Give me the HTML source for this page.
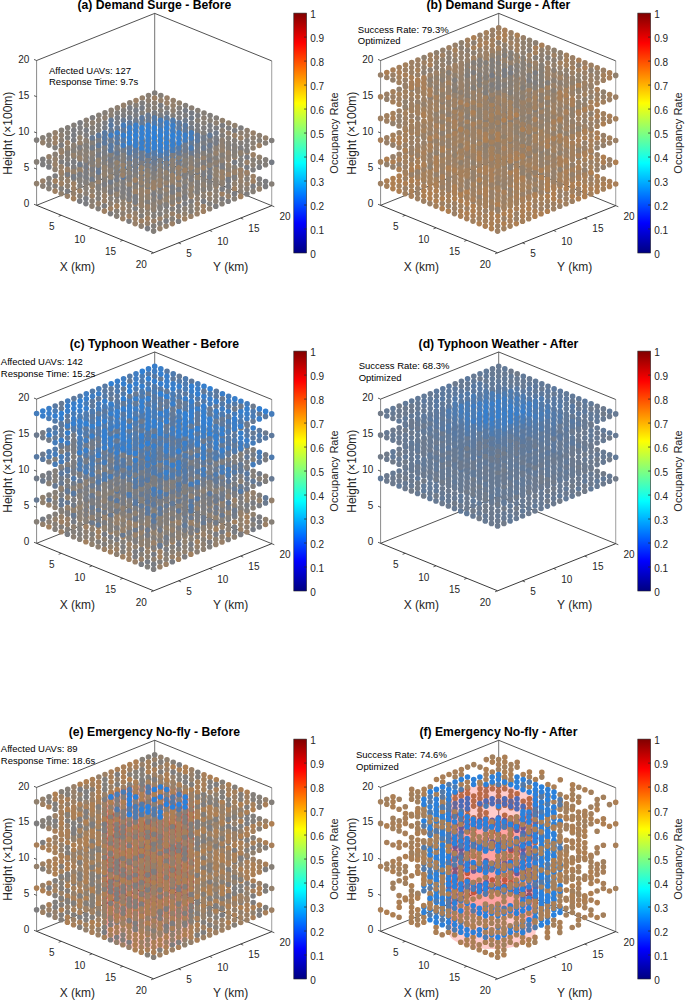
<!DOCTYPE html>
<html><head><meta charset="utf-8"><style>
html,body{margin:0;padding:0;background:#fff;width:685px;height:1000px;overflow:hidden}
svg{position:absolute;left:0;top:0}
text{font-family:"Liberation Sans",sans-serif;fill:#262626}
.tk{font-size:10px}
.al{font-size:12px}
.cl{font-size:11px}
.an{font-size:9.5px;fill:#000}
.ti{font-size:12.2px;font-weight:bold;fill:#000}
</style></head><body>
<svg width="685" height="1000" viewBox="0 0 685 1000">
<defs><linearGradient id="jet" x1="0" y1="1" x2="0" y2="0">
<stop offset="0" stop-color="#000080"/><stop offset="0.125" stop-color="#0000ff"/><stop offset="0.375" stop-color="#00ffff"/><stop offset="0.625" stop-color="#ffff00"/><stop offset="0.875" stop-color="#ff0000"/><stop offset="1" stop-color="#800000"/>
</linearGradient></defs>
<line x1="36.6" y1="205.3" x2="154.69" y2="158.18" stroke="#262626" stroke-width="0.8"/><line x1="154.69" y1="158.18" x2="271.73" y2="205.68" stroke="#262626" stroke-width="0.8"/><line x1="36.6" y1="60.5" x2="154.69" y2="13.38" stroke="#262626" stroke-width="0.8"/><line x1="154.69" y1="13.38" x2="271.73" y2="60.88" stroke="#262626" stroke-width="0.8"/><line x1="154.69" y1="158.18" x2="154.69" y2="13.38" stroke="#262626" stroke-width="0.65"/><line x1="271.73" y1="205.68" x2="271.73" y2="60.88" stroke="#262626" stroke-width="0.45"/><line x1="36.6" y1="205.3" x2="36.6" y2="60.5" stroke="#262626" stroke-width="0.55"/><line x1="36.6" y1="205.3" x2="153.64" y2="252.8" stroke="#262626" stroke-width="0.9"/><line x1="153.64" y1="252.8" x2="271.73" y2="205.68" stroke="#262626" stroke-width="0.9"/><line x1="61.24" y1="215.3" x2="58.64" y2="216.34" stroke="#262626" stroke-width="0.75"/><line x1="178.5" y1="242.88" x2="181.09" y2="243.93" stroke="#262626" stroke-width="0.75"/><line x1="92.04" y1="227.8" x2="89.44" y2="228.84" stroke="#262626" stroke-width="0.75"/><line x1="209.58" y1="230.48" x2="212.17" y2="231.53" stroke="#262626" stroke-width="0.75"/><line x1="122.84" y1="240.3" x2="120.24" y2="241.34" stroke="#262626" stroke-width="0.75"/><line x1="240.65" y1="218.08" x2="243.24" y2="219.13" stroke="#262626" stroke-width="0.75"/><line x1="153.64" y1="252.8" x2="151.04" y2="253.84" stroke="#262626" stroke-width="0.75"/><line x1="271.73" y1="205.68" x2="274.32" y2="206.73" stroke="#262626" stroke-width="0.75"/><line x1="36.6" y1="205.3" x2="34.01" y2="204.25" stroke="#262626" stroke-width="0.75"/><line x1="36.6" y1="169.1" x2="34.01" y2="168.05" stroke="#262626" stroke-width="0.75"/><line x1="36.6" y1="132.9" x2="34.01" y2="131.85" stroke="#262626" stroke-width="0.75"/><line x1="36.6" y1="96.7" x2="34.01" y2="95.65" stroke="#262626" stroke-width="0.75"/><line x1="36.6" y1="60.5" x2="34.01" y2="59.45" stroke="#262626" stroke-width="0.75"/><line x1="380.6" y1="205.3" x2="498.69" y2="158.18" stroke="#262626" stroke-width="0.8"/><line x1="498.69" y1="158.18" x2="615.73" y2="205.68" stroke="#262626" stroke-width="0.8"/><line x1="380.6" y1="60.5" x2="498.69" y2="13.38" stroke="#262626" stroke-width="0.8"/><line x1="498.69" y1="13.38" x2="615.73" y2="60.88" stroke="#262626" stroke-width="0.8"/><line x1="498.69" y1="158.18" x2="498.69" y2="13.38" stroke="#262626" stroke-width="0.65"/><line x1="615.73" y1="205.68" x2="615.73" y2="60.88" stroke="#262626" stroke-width="0.45"/><line x1="380.6" y1="205.3" x2="380.6" y2="60.5" stroke="#262626" stroke-width="0.55"/><line x1="380.6" y1="205.3" x2="497.64" y2="252.8" stroke="#262626" stroke-width="0.9"/><line x1="497.64" y1="252.8" x2="615.73" y2="205.68" stroke="#262626" stroke-width="0.9"/><line x1="405.24" y1="215.3" x2="402.64" y2="216.34" stroke="#262626" stroke-width="0.75"/><line x1="522.5" y1="242.88" x2="525.09" y2="243.93" stroke="#262626" stroke-width="0.75"/><line x1="436.04" y1="227.8" x2="433.44" y2="228.84" stroke="#262626" stroke-width="0.75"/><line x1="553.58" y1="230.48" x2="556.17" y2="231.53" stroke="#262626" stroke-width="0.75"/><line x1="466.84" y1="240.3" x2="464.24" y2="241.34" stroke="#262626" stroke-width="0.75"/><line x1="584.65" y1="218.08" x2="587.24" y2="219.13" stroke="#262626" stroke-width="0.75"/><line x1="497.64" y1="252.8" x2="495.04" y2="253.84" stroke="#262626" stroke-width="0.75"/><line x1="615.73" y1="205.68" x2="618.32" y2="206.73" stroke="#262626" stroke-width="0.75"/><line x1="380.6" y1="205.3" x2="378.01" y2="204.25" stroke="#262626" stroke-width="0.75"/><line x1="380.6" y1="169.1" x2="378.01" y2="168.05" stroke="#262626" stroke-width="0.75"/><line x1="380.6" y1="132.9" x2="378.01" y2="131.85" stroke="#262626" stroke-width="0.75"/><line x1="380.6" y1="96.7" x2="378.01" y2="95.65" stroke="#262626" stroke-width="0.75"/><line x1="380.6" y1="60.5" x2="378.01" y2="59.45" stroke="#262626" stroke-width="0.75"/><line x1="36.6" y1="543.3" x2="154.69" y2="496.18" stroke="#262626" stroke-width="0.8"/><line x1="154.69" y1="496.18" x2="271.73" y2="543.68" stroke="#262626" stroke-width="0.8"/><line x1="36.6" y1="399.1" x2="154.69" y2="351.98" stroke="#262626" stroke-width="0.8"/><line x1="154.69" y1="351.98" x2="271.73" y2="399.48" stroke="#262626" stroke-width="0.8"/><line x1="154.69" y1="496.18" x2="154.69" y2="351.98" stroke="#262626" stroke-width="0.65"/><line x1="271.73" y1="543.68" x2="271.73" y2="399.48" stroke="#262626" stroke-width="0.45"/><line x1="36.6" y1="543.3" x2="36.6" y2="399.1" stroke="#262626" stroke-width="0.55"/><line x1="36.6" y1="543.3" x2="153.64" y2="590.8" stroke="#262626" stroke-width="0.9"/><line x1="153.64" y1="590.8" x2="271.73" y2="543.68" stroke="#262626" stroke-width="0.9"/><line x1="61.24" y1="553.3" x2="58.64" y2="554.34" stroke="#262626" stroke-width="0.75"/><line x1="178.5" y1="580.88" x2="181.09" y2="581.93" stroke="#262626" stroke-width="0.75"/><line x1="92.04" y1="565.8" x2="89.44" y2="566.84" stroke="#262626" stroke-width="0.75"/><line x1="209.58" y1="568.48" x2="212.17" y2="569.53" stroke="#262626" stroke-width="0.75"/><line x1="122.84" y1="578.3" x2="120.24" y2="579.34" stroke="#262626" stroke-width="0.75"/><line x1="240.65" y1="556.08" x2="243.24" y2="557.13" stroke="#262626" stroke-width="0.75"/><line x1="153.64" y1="590.8" x2="151.04" y2="591.84" stroke="#262626" stroke-width="0.75"/><line x1="271.73" y1="543.68" x2="274.32" y2="544.73" stroke="#262626" stroke-width="0.75"/><line x1="36.6" y1="543.3" x2="34.01" y2="542.25" stroke="#262626" stroke-width="0.75"/><line x1="36.6" y1="507.25" x2="34.01" y2="506.2" stroke="#262626" stroke-width="0.75"/><line x1="36.6" y1="471.2" x2="34.01" y2="470.15" stroke="#262626" stroke-width="0.75"/><line x1="36.6" y1="435.15" x2="34.01" y2="434.1" stroke="#262626" stroke-width="0.75"/><line x1="36.6" y1="399.1" x2="34.01" y2="398.05" stroke="#262626" stroke-width="0.75"/><line x1="380.6" y1="543.3" x2="498.69" y2="496.18" stroke="#262626" stroke-width="0.8"/><line x1="498.69" y1="496.18" x2="615.73" y2="543.68" stroke="#262626" stroke-width="0.8"/><line x1="380.6" y1="399.1" x2="498.69" y2="351.98" stroke="#262626" stroke-width="0.8"/><line x1="498.69" y1="351.98" x2="615.73" y2="399.48" stroke="#262626" stroke-width="0.8"/><line x1="498.69" y1="496.18" x2="498.69" y2="351.98" stroke="#262626" stroke-width="0.65"/><line x1="615.73" y1="543.68" x2="615.73" y2="399.48" stroke="#262626" stroke-width="0.45"/><line x1="380.6" y1="543.3" x2="380.6" y2="399.1" stroke="#262626" stroke-width="0.55"/><line x1="380.6" y1="543.3" x2="497.64" y2="590.8" stroke="#262626" stroke-width="0.9"/><line x1="497.64" y1="590.8" x2="615.73" y2="543.68" stroke="#262626" stroke-width="0.9"/><line x1="405.24" y1="553.3" x2="402.64" y2="554.34" stroke="#262626" stroke-width="0.75"/><line x1="522.5" y1="580.88" x2="525.09" y2="581.93" stroke="#262626" stroke-width="0.75"/><line x1="436.04" y1="565.8" x2="433.44" y2="566.84" stroke="#262626" stroke-width="0.75"/><line x1="553.58" y1="568.48" x2="556.17" y2="569.53" stroke="#262626" stroke-width="0.75"/><line x1="466.84" y1="578.3" x2="464.24" y2="579.34" stroke="#262626" stroke-width="0.75"/><line x1="584.65" y1="556.08" x2="587.24" y2="557.13" stroke="#262626" stroke-width="0.75"/><line x1="497.64" y1="590.8" x2="495.04" y2="591.84" stroke="#262626" stroke-width="0.75"/><line x1="615.73" y1="543.68" x2="618.32" y2="544.73" stroke="#262626" stroke-width="0.75"/><line x1="380.6" y1="543.3" x2="378.01" y2="542.25" stroke="#262626" stroke-width="0.75"/><line x1="380.6" y1="507.25" x2="378.01" y2="506.2" stroke="#262626" stroke-width="0.75"/><line x1="380.6" y1="471.2" x2="378.01" y2="470.15" stroke="#262626" stroke-width="0.75"/><line x1="380.6" y1="435.15" x2="378.01" y2="434.1" stroke="#262626" stroke-width="0.75"/><line x1="380.6" y1="399.1" x2="378.01" y2="398.05" stroke="#262626" stroke-width="0.75"/><line x1="36.6" y1="931.3" x2="154.69" y2="884.18" stroke="#262626" stroke-width="0.8"/><line x1="154.69" y1="884.18" x2="271.73" y2="931.68" stroke="#262626" stroke-width="0.8"/><line x1="36.6" y1="787.4" x2="154.69" y2="740.28" stroke="#262626" stroke-width="0.8"/><line x1="154.69" y1="740.28" x2="271.73" y2="787.78" stroke="#262626" stroke-width="0.8"/><line x1="154.69" y1="884.18" x2="154.69" y2="740.28" stroke="#262626" stroke-width="0.65"/><line x1="271.73" y1="931.68" x2="271.73" y2="787.78" stroke="#262626" stroke-width="0.45"/><line x1="36.6" y1="931.3" x2="36.6" y2="787.4" stroke="#262626" stroke-width="0.55"/><line x1="36.6" y1="931.3" x2="153.64" y2="978.8" stroke="#262626" stroke-width="0.9"/><line x1="153.64" y1="978.8" x2="271.73" y2="931.68" stroke="#262626" stroke-width="0.9"/><line x1="61.24" y1="941.3" x2="58.64" y2="942.34" stroke="#262626" stroke-width="0.75"/><line x1="178.5" y1="968.88" x2="181.09" y2="969.93" stroke="#262626" stroke-width="0.75"/><line x1="92.04" y1="953.8" x2="89.44" y2="954.84" stroke="#262626" stroke-width="0.75"/><line x1="209.58" y1="956.48" x2="212.17" y2="957.53" stroke="#262626" stroke-width="0.75"/><line x1="122.84" y1="966.3" x2="120.24" y2="967.34" stroke="#262626" stroke-width="0.75"/><line x1="240.65" y1="944.08" x2="243.24" y2="945.13" stroke="#262626" stroke-width="0.75"/><line x1="153.64" y1="978.8" x2="151.04" y2="979.84" stroke="#262626" stroke-width="0.75"/><line x1="271.73" y1="931.68" x2="274.32" y2="932.73" stroke="#262626" stroke-width="0.75"/><line x1="36.6" y1="931.3" x2="34.01" y2="930.25" stroke="#262626" stroke-width="0.75"/><line x1="36.6" y1="895.32" x2="34.01" y2="894.27" stroke="#262626" stroke-width="0.75"/><line x1="36.6" y1="859.35" x2="34.01" y2="858.3" stroke="#262626" stroke-width="0.75"/><line x1="36.6" y1="823.38" x2="34.01" y2="822.32" stroke="#262626" stroke-width="0.75"/><line x1="36.6" y1="787.4" x2="34.01" y2="786.35" stroke="#262626" stroke-width="0.75"/><line x1="380.6" y1="931.3" x2="498.69" y2="884.18" stroke="#262626" stroke-width="0.8"/><line x1="498.69" y1="884.18" x2="615.73" y2="931.68" stroke="#262626" stroke-width="0.8"/><line x1="380.6" y1="787.4" x2="498.69" y2="740.28" stroke="#262626" stroke-width="0.8"/><line x1="498.69" y1="740.28" x2="615.73" y2="787.78" stroke="#262626" stroke-width="0.8"/><line x1="498.69" y1="884.18" x2="498.69" y2="740.28" stroke="#262626" stroke-width="0.65"/><line x1="615.73" y1="931.68" x2="615.73" y2="787.78" stroke="#262626" stroke-width="0.45"/><line x1="380.6" y1="931.3" x2="380.6" y2="787.4" stroke="#262626" stroke-width="0.55"/><line x1="380.6" y1="931.3" x2="497.64" y2="978.8" stroke="#262626" stroke-width="0.9"/><line x1="497.64" y1="978.8" x2="615.73" y2="931.68" stroke="#262626" stroke-width="0.9"/><line x1="405.24" y1="941.3" x2="402.64" y2="942.34" stroke="#262626" stroke-width="0.75"/><line x1="522.5" y1="968.88" x2="525.09" y2="969.93" stroke="#262626" stroke-width="0.75"/><line x1="436.04" y1="953.8" x2="433.44" y2="954.84" stroke="#262626" stroke-width="0.75"/><line x1="553.58" y1="956.48" x2="556.17" y2="957.53" stroke="#262626" stroke-width="0.75"/><line x1="466.84" y1="966.3" x2="464.24" y2="967.34" stroke="#262626" stroke-width="0.75"/><line x1="584.65" y1="944.08" x2="587.24" y2="945.13" stroke="#262626" stroke-width="0.75"/><line x1="497.64" y1="978.8" x2="495.04" y2="979.84" stroke="#262626" stroke-width="0.75"/><line x1="615.73" y1="931.68" x2="618.32" y2="932.73" stroke="#262626" stroke-width="0.75"/><line x1="380.6" y1="931.3" x2="378.01" y2="930.25" stroke="#262626" stroke-width="0.75"/><line x1="380.6" y1="895.32" x2="378.01" y2="894.27" stroke="#262626" stroke-width="0.75"/><line x1="380.6" y1="859.35" x2="378.01" y2="858.3" stroke="#262626" stroke-width="0.75"/><line x1="380.6" y1="823.38" x2="378.01" y2="822.32" stroke="#262626" stroke-width="0.75"/><line x1="380.6" y1="787.4" x2="378.01" y2="786.35" stroke="#262626" stroke-width="0.75"/>
<g stroke-width="5.6" stroke-linecap="round" fill="none"><path stroke="#90806e" d="M173.2 144h0M123.6 148.9h0M160.7 148.9h0M166.8 156.4h0M111.1 158.8h0M185.4 158.9h0M117.3 161.3h0M154.4 161.4h0M210 168.9h0M203.8 171.4h0M148.1 173.8h0M160.5 173.8h0M234.7 173.9h0M154.2 176.3h0M61.4 178.6h0M197.5 178.9h0M166.6 181.3h0M191.3 181.3h0M36.6 183.6h0M234.6 183.9h0M141.8 186.2h0M154.1 186.3h0M147.9 188.7h0M92.2 191.1h0M104.6 191.2h0M129.3 191.2h0M203.6 191.3h0M61.2 193.6h0M123.1 198.7h0M123 203.6h0M141.5 206.2h0M197.2 208.7h0M147.6 213.6h0M184.8 213.7h0M166.2 216.2h0M166.1 226.1h0"/><path stroke="#988069" d="M179.3 146.5h0M148.3 153.9h0M135.9 158.8h0M173 158.9h0M197.7 163.9h0M117.2 166.3h0M154.4 166.3h0M166.7 166.4h0M191.5 166.4h0M172.9 168.9h0M197.6 173.9h0M67.6 176.2h0M92.4 176.2h0M185.2 178.8h0M42.8 181.1h0M141.8 181.3h0M104.6 186.2h0M216 186.4h0M67.4 196.1h0M104.5 196.1h0M129.3 196.2h0M178.8 196.3h0M147.8 198.7h0M104.5 201.1h0M197.3 203.8h0M153.9 206.2h0M123 208.6h0M172.4 213.7h0M197.1 213.7h0M190.9 216.2h0M160 218.6h0M153.8 221.1h0M135.2 223.6h0"/><path stroke="#837e79" d="M154.7 136.5h0M142.3 141.4h0M117.4 151.3h0M154.5 151.4h0M204 156.5h0M135.8 163.8h0M222.4 164h0M73.9 168.7h0M98.6 168.7h0M222.4 168.9h0M129.6 171.3h0M141.9 171.3h0M135.7 173.8h0M49 178.6h0M203.7 181.4h0M209.8 183.9h0M259.4 183.9h0M55.1 186.1h0M79.9 186.1h0M61.3 188.6h0M98.4 188.7h0M110.8 188.7h0M123.2 188.7h0M228.3 191.4h0M141.7 196.2h0M98.3 198.6h0M135.4 198.7h0M184.9 198.8h0M98.2 208.6h0M160.1 208.7h0M178.6 211.2h0M191 211.2h0M153.8 216.1h0M159.9 223.6h0M153.6 231.1h0"/><path stroke="#7e7d7e" d="M98.8 158.8h0M191.5 161.4h0M111.1 163.8h0M185.3 163.9h0M240.9 171.5h0M123.3 173.8h0M222.3 173.9h0M55.2 176.1h0M172.8 178.8h0M259.4 179h0M178.9 181.3h0M228.4 181.4h0M197.5 183.8h0M147.9 193.7h0M246.9 193.9h0M116.9 196.2h0M222.1 198.8h0M191.1 201.3h0M228.2 201.3h0M104.4 206.1h0M178.7 206.2h0M215.8 206.3h0M135.3 208.6h0M110.5 213.6h0M129 221.1h0M178.5 221.2h0"/><path stroke="#94806c" d="M160.8 139h0M148.4 143.9h0M160.8 143.9h0M154.6 146.4h0M148.4 148.9h0M142.1 151.4h0M135.9 153.9h0M185.4 153.9h0M123.5 158.8h0M166.8 161.4h0M86.3 163.7h0M98.7 163.8h0M210.1 163.9h0M228.6 166.5h0M123.4 168.8h0M197.6 168.9h0M92.4 171.2h0M179 171.4h0M216.2 171.4h0M61.5 173.7h0M98.6 173.7h0M117.1 176.2h0M216.1 176.4h0M222.3 178.9h0M67.6 181.1h0M104.7 181.2h0M240.8 181.4h0M123.2 183.7h0M247 183.9h0M135.5 188.7h0M185 188.8h0M259.3 188.9h0M117 191.2h0M154.1 191.2h0M73.6 193.6h0M110.7 193.7h0M209.7 193.8h0M228.3 196.3h0M172.6 198.7h0M98.3 203.6h0M135.3 213.6h0M147.5 223.6h0M159.9 228.6h0"/><path stroke="#9b8066" d="M154.6 141.4h0M129.8 151.4h0M142.1 156.4h0M197.8 158.9h0M203.9 161.4h0M172.9 163.9h0M104.9 166.3h0M86.3 168.7h0M160.5 168.8h0M67.7 171.2h0M154.3 171.3h0M191.4 171.4h0M179 176.3h0M240.9 176.4h0M253.2 176.5h0M123.3 178.7h0M209.9 178.9h0M172.7 183.8h0M203.6 186.3h0M73.7 188.6h0M160.3 188.8h0M79.8 191.1h0M141.7 191.2h0M92.2 196.1h0M191.2 196.3h0M160.2 198.7h0M135.4 203.7h0M203.4 206.3h0M178.6 216.2h0M122.8 218.6h0M135.2 218.6h0M172.3 223.6h0"/><path stroke="#817e7b" d="M148.5 138.9h0M129.8 146.4h0M80.1 166.2h0M92.5 166.2h0M129.6 166.3h0M148.1 168.8h0M185.3 168.9h0M104.7 176.2h0M79.9 181.2h0M49 183.6h0M135.6 183.7h0M129.4 186.2h0M209.8 188.8h0M185 193.8h0M209.6 203.8h0M172.4 208.7h0M153.9 211.2h0M160 213.7h0M141.4 216.1h0M153.7 226.1h0"/><path stroke="#9e8063" d="M142.2 146.4h0M179.3 151.4h0M148.2 158.9h0M210.1 159h0M92.5 161.3h0M104.9 161.3h0M129.7 161.3h0M216.3 161.5h0M123.4 163.8h0M148.2 163.8h0M179.1 166.4h0M135.8 168.8h0M234.8 169h0M80.1 171.2h0M203.7 176.4h0M135.7 178.8h0M160.4 178.8h0M253.2 181.4h0M61.4 183.6h0M73.7 183.6h0M148 183.8h0M92.3 186.2h0M191.3 186.3h0M234.5 188.9h0M55.1 191.1h0M222.1 193.8h0M178.7 201.2h0M172.5 203.7h0M110.6 208.6h0M104.4 211.1h0M203.4 211.2h0M129.1 216.1h0M147.6 218.6h0M184.7 218.7h0M141.4 221.1h0"/><path stroke="#7b7c80" d="M136 143.9h0M185.5 149h0M166.9 151.4h0M105 156.3h0M129.7 156.3h0M191.6 156.4h0M160.6 158.9h0M142 161.3h0M111 168.8h0M166.7 171.3h0M172.8 173.8h0M80 176.2h0M129.5 176.3h0M98.5 178.7h0M148 178.8h0M265.6 181.5h0M98.5 183.7h0M185.1 183.8h0M166.5 186.3h0M228.4 186.4h0M253.1 186.4h0M265.5 186.4h0M222.2 188.9h0M67.5 191.1h0M160.2 193.7h0M234.5 193.9h0M79.7 201.1h0M85.9 203.6h0M184.9 203.7h0M166.3 206.2h0M166.1 221.1h0M147.5 228.6h0"/><path stroke="#867f77" d="M111.2 153.8h0M123.6 153.8h0M117.3 156.3h0M160.6 163.9h0M142 166.3h0M73.8 173.7h0M210 173.9h0M166.6 176.3h0M73.8 178.7h0M86.2 178.7h0M247 178.9h0M92.3 181.2h0M216.1 181.4h0M271.7 184h0M117 186.2h0M48.9 188.6h0M86 188.6h0M197.4 188.8h0M178.8 191.3h0M253.1 191.4h0M98.4 193.6h0M123.1 193.7h0M135.5 193.7h0M79.8 196.1h0M110.7 198.6h0M234.4 198.8h0M141.6 201.2h0M222 203.8h0M191 206.2h0M116.7 211.1h0M166.2 211.2h0M116.7 216.1h0M172.3 218.7h0"/><path stroke="#8a7f74" d="M166.9 146.4h0M173.1 148.9h0M191.6 151.5h0M173.1 153.9h0M179.2 156.4h0M179.2 161.4h0M104.8 171.2h0M86.2 173.7h0M191.4 176.4h0M228.5 176.4h0M154.2 181.3h0M86.1 183.7h0M110.8 183.7h0M222.2 183.9h0M42.8 186.1h0M172.7 188.8h0M246.9 188.9h0M216 191.3h0M240.7 191.4h0M86 193.6h0M172.6 193.8h0M203.5 196.3h0M215.9 196.3h0M92.1 201.1h0M116.8 201.1h0M215.8 201.3h0M147.8 203.7h0M147.7 208.7h0M184.8 208.7h0M141.5 211.1h0"/><path stroke="#a1805f" d="M167 141.5h0M160.7 153.9h0M117.2 171.3h0M55.2 181.1h0M154 196.2h0M166.4 196.2h0M240.7 196.4h0M73.6 198.6h0M129.2 201.2h0M166.3 201.2h0M116.8 206.1h0"/><path stroke="#8d7f71" d="M136 148.9h0M197.8 154h0M154.5 156.4h0M203.9 166.4h0M216.2 166.4h0M228.6 171.4h0M111 173.7h0M247.1 174h0M141.9 176.3h0M234.7 178.9h0M117.1 181.2h0M129.4 181.2h0M67.5 186.1h0M178.9 186.3h0M240.8 186.4h0M166.5 191.3h0M197.4 193.8h0M197.3 198.8h0M209.7 198.8h0M154 201.2h0M110.6 203.6h0M92 206.1h0M129.2 206.1h0M209.6 208.8h0M129.1 211.1h0M122.9 213.6h0M141.3 226.1h0"/><path stroke="#797c82" d="M185.2 173.9h0M110.9 178.7h0M160.3 183.8h0M191.2 191.3h0M85.9 198.6h0M203.5 201.3h0M160.1 203.7h0"/><path stroke="#867f77" d="M142.2 124.7h0M148.4 127.2h0M173.1 127.2h0M154.5 129.7h0M111.2 132.1h0M154.5 134.7h0M179.2 134.7h0M111.1 142.1h0M123.4 142.1h0M197.7 142.2h0M92.5 144.5h0M86.3 147h0M197.6 147.2h0M92.4 149.5h0M73.8 152h0M67.6 154.4h0M228.5 154.7h0M222.3 157.2h0M253.2 159.7h0M36.6 161.9h0M234.5 167.2h0M184.9 182h0M116.8 184.4h0M135.3 186.9h0M160 191.9h0M166.2 194.4h0M172.3 201.9h0"/><path stroke="#7e7d7e" d="M173.2 122.2h0M142.1 129.7h0M135.9 132.1h0M179.2 139.7h0M228.6 149.7h0M42.8 159.4h0M61.4 161.9h0M110.8 162h0M185.1 162.1h0M42.8 164.4h0M191.3 164.6h0M73.7 166.9h0M253.1 169.7h0M185 172.1h0M166.4 174.5h0M147.8 177h0M234.4 177.1h0M166.3 179.5h0M191.1 179.5h0M123 181.9h0M209.6 182.1h0M123 186.9h0M147.7 186.9h0M122.9 191.9h0M129 199.4h0"/><path stroke="#94806c" d="M154.7 114.7h0M142.3 119.7h0M154.6 119.7h0M191.6 134.7h0M185.4 137.2h0M216.2 144.7h0M67.7 149.5h0M80.1 149.5h0M247.1 152.2h0M49 156.9h0M55.2 159.4h0M61.3 166.9h0M79.8 169.4h0M73.6 171.9h0M98.3 181.9h0M129.2 184.4h0M178.7 184.5h0M141.5 189.4h0M166.2 189.5h0M141.4 194.4h0M178.6 194.5h0M141.3 204.4h0"/><path stroke="#8a7f74" d="M166.9 129.7h0M160.6 137.2h0M117.3 139.6h0M222.4 147.2h0M216.2 149.7h0M55.2 154.4h0M216.1 154.7h0M61.4 156.9h0M216.1 159.7h0M253.1 164.7h0M197.4 167.1h0M104.6 169.4h0M228.3 169.6h0M215.8 179.6h0M153.9 184.5h0M191 184.5h0M215.8 184.6h0M104.4 189.4h0M153.7 204.4h0"/><path stroke="#9b8066" d="M61.5 151.9h0M253.2 154.7h0M240.7 169.7h0M61.2 171.9h0M246.9 172.2h0M228.3 174.6h0M135.3 191.9h0M147.6 191.9h0"/><path stroke="#817e7b" d="M160.8 117.2h0M136 122.2h0M129.8 124.7h0M105 134.6h0M117.3 134.6h0M166.8 134.7h0M210.1 137.2h0M98.7 142h0M160.6 142.1h0M117.2 144.6h0M203.9 144.7h0M73.9 147h0M210 147.2h0M240.9 149.7h0M222.3 152.2h0M80 154.5h0M104.7 154.5h0M240.9 154.7h0M240.8 159.7h0M209.8 162.1h0M240.8 164.7h0M185 167.1h0M110.7 171.9h0M123.1 172h0M129.2 179.4h0M85.9 181.9h0M197.3 182h0M141.5 184.4h0M98.2 186.9h0M153.9 189.4h0M197.1 192h0M122.8 196.9h0M178.5 199.4h0M147.5 201.9h0M166.1 204.4h0M159.9 206.9h0"/><path stroke="#837e79" d="M179.3 124.7h0M136 127.2h0M123.6 132.1h0M129.7 134.6h0M135.9 137.1h0M154.4 139.6h0M166.8 139.7h0M148.2 142.1h0M80.1 144.5h0M191.5 144.7h0M185.3 147.2h0M117.2 149.5h0M234.7 152.2h0M73.8 156.9h0M67.6 159.4h0M265.6 159.7h0M49 161.9h0M259.4 162.2h0M265.5 164.7h0M110.8 167h0M92.2 174.4h0M98.3 176.9h0M172.6 177h0M79.7 179.4h0M104.5 179.4h0M203.5 179.6h0M160.1 182h0M110.6 186.9h0M197.2 187h0M209.6 187h0M203.4 189.5h0M184.8 192h0M153.8 199.4h0"/><path stroke="#8d7f71" d="M160.8 122.2h0M185.5 127.2h0M86.3 142h0M86.2 152h0M92.4 154.5h0M79.9 159.4h0M92.3 164.4h0M55.1 169.4h0M154 179.5h0M172.5 182h0M222 182.1h0M203.4 184.5h0M172.3 196.9h0M159.9 201.9h0M153.6 209.4h0"/><path stroke="#797c82" d="M92.5 139.5h0M104.9 139.6h0M129.7 139.6h0M104.9 144.5h0M142 144.6h0M179.1 144.7h0M98.6 147h0M148.1 147.1h0M203.8 149.7h0M123.3 152h0M86.2 157h0M123.3 157h0M209.9 157.2h0M247 157.2h0M191.3 159.6h0M86.1 161.9h0M98.5 162h0M197.5 162.1h0M222.2 167.1h0M246.9 167.2h0M203.6 169.6h0M147.9 172h0M209.7 172.1h0M67.4 174.4h0M79.8 174.4h0M129.3 174.5h0M203.5 174.6h0M85.9 176.9h0M184.9 177h0M178.7 179.5h0M135.4 181.9h0M172.4 187h0M178.6 189.5h0M172.4 192h0M135.2 196.9h0M160 196.9h0M184.7 197h0M135.2 201.9h0"/><path stroke="#7b7c80" d="M167 119.7h0M166.9 124.7h0M123.6 127.1h0M129.8 129.6h0M98.8 137.1h0M111.1 137.1h0M142 139.6h0M216.3 139.7h0M185.3 142.2h0M185.2 152.1h0M203.7 154.7h0M98.5 157h0M203.7 159.6h0M73.7 161.9h0M222.2 162.2h0M67.5 164.4h0M104.6 164.5h0M216 164.6h0M48.9 166.9h0M259.3 167.2h0M92.2 169.4h0M86 171.9h0M154 174.5h0M191.2 174.6h0M104.4 184.4h0M166.3 184.5h0M160.1 187h0M184.8 187h0M116.7 189.4h0M129.1 189.4h0M110.5 191.9h0M129.1 194.4h0M153.8 194.4h0"/><path stroke="#988069" d="M148.4 122.2h0M117.4 129.6h0M179.3 129.7h0M234.7 157.2h0M228.4 159.7h0M247 162.2h0M55.1 164.4h0M67.5 169.4h0M222.1 172.1h0M234.5 172.1h0M240.7 174.6h0M222.1 177.1h0M147.5 206.9h0"/><path stroke="#9e8063" d="M148.5 117.2h0"/><path stroke="#717b89" d="M160.7 127.2h0M148.3 132.2h0M185.4 132.2h0M142.1 134.6h0M204 134.7h0M123.5 137.1h0M197.8 137.2h0M203.9 139.7h0M98.6 152h0M111 152h0M117.1 154.5h0M197.5 157.1h0M79.9 164.4h0M117 164.5h0M203.6 164.6h0M172.7 167.1h0M209.8 167.1h0M160.2 172h0M209.7 177.1h0M92.1 179.4h0M110.6 181.9h0"/><path stroke="#90806e" d="M154.6 124.7h0M191.6 129.7h0M197.8 132.2h0M234.8 147.2h0M259.4 157.2h0M228.4 164.7h0M216 169.6h0M104.5 174.4h0M215.9 174.6h0M110.7 176.9h0M197.3 177.1h0M92 184.4h0M191 189.5h0M116.7 194.4h0M190.9 194.5h0M147.6 196.9h0M141.4 199.4h0M166.1 199.4h0"/><path stroke="#677a93" d="M173 137.2h0M166.7 144.6h0M104.8 149.5h0M191.4 149.7h0M148.1 152.1h0M197.6 152.2h0M179 154.6h0M92.3 159.5h0M104.7 159.5h0M117.1 159.5h0M123.2 162h0M154.1 164.5h0M129.3 169.5h0M98.4 171.9h0M147.8 182h0"/><path stroke="#5d799d" d="M111 147h0M135.7 152.1h0M129.4 164.5h0M160.3 167h0M117 169.5h0M154.1 169.5h0M178.8 174.5h0M123.1 176.9h0"/><path stroke="#767b84" d="M160.7 132.2h0M173.1 132.2h0M191.5 139.7h0M210.1 142.2h0M222.4 142.2h0M228.6 144.7h0M123.4 147.1h0M135.8 147.1h0M210 152.2h0M129.5 154.5h0M185.2 157.1h0M234.6 162.2h0M271.7 162.2h0M86 166.9h0M135.5 172h0M197.4 172.1h0M116.9 174.4h0M73.6 176.9h0M160.2 177h0M116.8 179.4h0M228.2 179.6h0"/><path stroke="#6c7a8e" d="M148.2 137.1h0M135.8 142.1h0M172.9 142.2h0M129.6 144.6h0M172.9 147.1h0M154.3 149.6h0M166.7 149.6h0M141.9 154.6h0M191.4 154.6h0M172.7 162.1h0M98.4 166.9h0M166.5 169.5h0M178.8 169.6h0M191.2 169.6h0M135.4 177h0"/><path stroke="#627a98" d="M179 149.6h0M110.9 157h0M135.6 162h0M141.8 164.5h0M147.9 167h0M141.7 174.5h0M141.6 179.5h0"/><path stroke="#497cb5" d="M129.6 149.6h0M166.5 164.6h0M123.2 167h0M141.7 169.5h0"/><path stroke="#3f7dc2" d="M141.9 149.6h0M178.9 159.6h0M148 162h0"/><path stroke="#4e7baf" d="M154.4 144.6h0M160.5 147.1h0M135.7 157h0M135.5 167h0"/><path stroke="#447cbb" d="M154.2 154.6h0M129.4 159.5h0M160.3 162.1h0"/><path stroke="#5879a2" d="M148 157.1h0M141.8 159.5h0M154.2 159.6h0M178.9 164.6h0M172.6 172h0"/><path stroke="#3a7ec8" d="M160.5 152.1h0M166.6 154.6h0M172.8 157.1h0M166.6 159.6h0"/><path stroke="#537aa8" d="M172.8 152.1h0M160.4 157.1h0"/><path stroke="#817e7b" d="M154.7 93h0M123.6 110.4h0M117.3 112.9h0M142.1 112.9h0M210.1 115.5h0M98.6 125.3h0M80 132.7h0M92.4 132.8h0M203.7 132.9h0M222.3 135.5h0M67.6 137.7h0M36.6 140.1h0M247 140.5h0M271.7 140.5h0M86 145.2h0M234.5 145.4h0M246.9 145.5h0M55.1 147.6h0M98.4 150.2h0M246.9 150.4h0M110.7 155.2h0M123.1 155.2h0M215.8 157.9h0M104.4 162.7h0M160.1 165.2h0M184.8 165.3h0M129.1 167.7h0M116.7 172.6h0M135.2 175.2h0"/><path stroke="#867f77" d="M160.8 95.5h0M136 105.4h0M154.5 108h0M197.8 110.5h0M105 112.9h0M204 113h0M98.8 115.3h0M197.7 120.5h0M210.1 120.5h0M203.9 123h0M86.3 125.3h0M61.5 130.2h0M67.6 132.7h0M49 135.2h0M42.8 137.7h0M228.4 138h0M259.4 140.5h0M228.4 142.9h0M265.5 143h0M48.9 145.1h0M228.3 147.9h0M86 150.2h0M234.4 155.4h0M191.1 157.8h0M184.9 160.3h0M197.3 160.3h0M116.7 167.7h0M129.1 172.7h0M190.9 172.8h0"/><path stroke="#94806c" d="M142.3 98h0M160.8 100.5h0M173.2 100.5h0M123.6 105.4h0M173.1 105.5h0M55.2 132.7h0M228.5 133h0M265.6 138h0M42.8 142.6h0M79.9 142.7h0M61.2 150.1h0M222.1 150.4h0M215.9 152.9h0M228.3 152.9h0M73.6 155.1h0M79.7 157.6h0M203.5 157.8h0M123 165.2h0M191 167.8h0M141.4 172.7h0M159.9 180.2h0M172.3 180.2h0M141.3 182.6h0M166.1 182.7h0"/><path stroke="#837e79" d="M148.4 105.5h0M185.5 105.5h0M166.9 108h0M179.3 108h0M160.7 110.5h0M173 115.5h0M216.3 118h0M73.9 125.3h0M67.7 127.7h0M92.4 127.8h0M98.6 130.3h0M234.6 140.5h0M92.3 142.7h0M240.8 143h0M73.6 150.2h0M234.5 150.4h0M67.4 152.6h0M203.5 152.9h0M209.7 155.4h0M222.1 155.4h0M92.1 157.7h0M104.5 157.7h0M178.7 157.8h0M123 160.2h0M92 162.6h0M172.4 170.2h0M153.8 177.7h0M166.1 177.7h0"/><path stroke="#7b7c80" d="M135.9 115.4h0M197.8 115.5h0M179.2 118h0M80.1 122.8h0M104.9 122.8h0M197.6 125.5h0M222.4 125.5h0M216.2 128h0M73.8 130.2h0M197.6 130.4h0M234.7 130.5h0M73.7 140.2h0M209.8 140.4h0M172.6 155.3h0M184.9 155.3h0M209.6 160.3h0M141.5 162.7h0M166.3 162.8h0M166.2 167.7h0M135.3 170.2h0"/><path stroke="#8a7f74" d="M148.5 95.5h0M129.8 102.9h0M154.6 103h0M191.6 108h0M111.2 110.4h0M148.3 110.4h0M111.1 115.4h0M203.9 118h0M86.3 120.3h0M98.7 120.3h0M222.3 130.5h0M49 140.2h0M61.4 140.2h0M86.1 140.2h0M253.1 143h0M73.7 145.2h0M216 147.9h0M79.8 152.7h0M92.2 152.7h0M85.9 155.2h0M85.9 160.1h0M172.5 160.3h0M191 162.8h0M98.2 165.1h0M172.4 165.3h0M209.6 165.3h0M110.5 170.1h0M147.6 170.2h0M160 170.2h0M147.5 180.2h0"/><path stroke="#7e7d7e" d="M142.2 103h0M129.7 112.9h0M179.2 113h0M123.5 115.4h0M185.4 115.5h0M92.5 117.8h0M80.1 127.8h0M203.8 128h0M228.6 128h0M240.9 128h0M86.2 135.2h0M61.3 145.2h0M79.8 147.7h0M104.6 147.7h0M240.7 147.9h0M197.3 155.3h0M129.2 162.7h0M203.4 162.8h0M110.6 165.2h0M147.7 165.2h0M197.2 165.3h0M153.8 172.7h0M184.7 175.2h0M129 177.6h0"/><path stroke="#8d7f71" d="M148.4 100.5h0M117.4 107.9h0M173.1 110.5h0M104.9 117.8h0M92.5 122.8h0M216.2 123h0M247.1 130.5h0M240.9 133h0M61.4 135.2h0M247 135.5h0M259.4 135.5h0M253.2 138h0M222.2 140.4h0M222.2 145.4h0M253.1 148h0M228.2 157.9h0M222 160.4h0M215.8 162.8h0M178.6 172.7h0M160 175.2h0M141.4 177.7h0"/><path stroke="#9b8066" d="M154.6 98h0M136 100.5h0M55.2 137.7h0M55.1 142.7h0M184.8 170.3h0M178.5 177.7h0M153.6 187.6h0"/><path stroke="#797c82" d="M160.7 105.5h0M129.8 107.9h0M154.5 112.9h0M166.8 113h0M160.6 115.4h0M191.5 123h0M210 125.5h0M86.2 130.3h0M210 130.5h0M73.8 135.2h0M216.1 137.9h0M98.5 140.2h0M203.6 142.9h0M209.7 150.4h0M104.5 152.7h0M116.8 157.7h0M147.8 160.2h0M160.1 160.3h0M135.3 165.2h0M153.9 167.7h0"/><path stroke="#627a98" d="M166.8 117.9h0M111.1 120.3h0M142 122.9h0M111 130.3h0M209.9 135.4h0M191.3 142.9h0M98.4 145.2h0M178.8 152.8h0M154 157.8h0M166.3 157.8h0"/><path stroke="#767b84" d="M142.1 107.9h0M135.9 110.4h0M185.4 110.5h0M191.6 113h0M117.3 117.9h0M117.2 122.8h0M104.8 127.8h0M216 142.9h0M197.4 150.4h0M98.3 155.2h0M110.6 160.2h0M135.4 160.2h0M178.7 162.8h0"/><path stroke="#988069" d="M167 98h0M166.9 103h0M253.2 133h0M234.7 135.5h0M240.8 138h0M67.5 142.7h0M178.6 167.8h0M203.4 167.8h0M122.8 175.1h0M172.3 175.2h0M153.7 182.7h0M159.9 185.2h0"/><path stroke="#90806e" d="M179.3 103h0M222.4 120.5h0M228.6 123h0M234.8 125.5h0M79.9 137.7h0M67.5 147.7h0M240.7 152.9h0M98.3 160.2h0M116.8 162.7h0M104.4 167.6h0M141.5 167.7h0M122.9 170.2h0M197.1 170.3h0M166.2 172.7h0M147.6 175.2h0M147.5 185.1h0"/><path stroke="#5879a2" d="M111 125.3h0M185.3 125.4h0M179 127.9h0M104.7 132.8h0M104.7 137.8h0M117 142.8h0M110.8 145.2h0M110.7 150.2h0M147.8 155.3h0"/><path stroke="#677a93" d="M148.2 115.4h0M123.4 120.4h0M148.2 120.4h0M117.2 127.8h0M92.3 137.7h0M110.8 140.3h0M116.9 152.7h0M141.7 152.8h0M135.4 155.2h0M141.6 157.7h0"/><path stroke="#717b89" d="M129.7 117.9h0M191.5 118h0M191.4 127.9h0M216.1 133h0M203.7 137.9h0M197.4 145.4h0M92.2 147.7h0M117 147.7h0M123.1 150.2h0"/><path stroke="#5d799d" d="M142 117.9h0M129.6 122.9h0M179.1 122.9h0M123.3 130.3h0M185.2 130.4h0M98.5 135.3h0M197.5 135.4h0M197.5 140.4h0M104.6 142.7h0M129.3 147.8h0M135.5 150.3h0"/><path stroke="#447cbb" d="M160.6 120.4h0M123.4 125.3h0M191.4 132.9h0M191.3 137.9h0M185.1 140.4h0"/><path stroke="#6c7a8e" d="M135.8 120.4h0M185.3 120.5h0M185 145.4h0M209.8 145.4h0M203.6 147.9h0M185 150.3h0M191.2 152.8h0M129.2 157.7h0M153.9 162.7h0"/><path stroke="#3f7dc2" d="M172.8 130.4h0M110.9 135.3h0M123.2 145.3h0"/><path stroke="#3a7ec8" d="M166.7 122.9h0M135.8 125.4h0M172.9 125.4h0M129.6 127.8h0M135.7 130.3h0M117.1 132.8h0M135.6 140.3h0M172.7 140.4h0M160.2 150.3h0"/><path stroke="#537aa8" d="M154.4 117.9h0M117.1 137.8h0M123.2 140.3h0M129.3 152.7h0M154 152.8h0M160.2 155.3h0"/><path stroke="#357fcf" d="M148.1 125.4h0M129.5 132.8h0M141.9 132.8h0M166.6 132.9h0M123.3 135.3h0M178.9 137.9h0M148 140.3h0M147.9 145.3h0"/><path stroke="#2f80d5" d="M141.9 127.9h0M135.7 135.3h0M160.4 135.4h0M129.4 137.8h0M166.5 142.8h0"/><path stroke="#4e7baf" d="M172.9 120.4h0M154.4 122.9h0M160.5 125.4h0M178.8 147.8h0M191.2 147.9h0M166.4 152.8h0"/><path stroke="#337fd1" d="M148.1 130.4h0M178.9 142.9h0M160.3 145.3h0"/><path stroke="#2d80d7" d="M154.3 127.9h0M148 135.3h0M172.8 135.4h0"/><path stroke="#3180d3" d="M166.7 127.9h0M154.2 132.9h0M141.8 137.8h0M160.3 140.3h0M129.4 142.8h0M154.1 142.8h0M154.1 147.8h0"/><path stroke="#387eca" d="M160.5 130.4h0M179 132.9h0M185.2 135.4h0M141.8 142.8h0M166.5 147.8h0M147.9 150.3h0"/><path stroke="#367fcc" d="M166.6 137.9h0M135.5 145.3h0M172.7 145.3h0M141.7 147.8h0"/><path stroke="#2881de" d="M154.2 137.8h0"/><path stroke="#497cb5" d="M172.6 150.3h0"/><path stroke="#9e8063" d="M259.3 145.5h0M135.2 180.1h0"/><path stroke="#9e8063" d="M504.8 139h0M504.8 143.9h0M517.2 144h0M473.8 146.4h0M523.3 146.5h0M467.6 148.9h0M529.5 149h0M479.9 153.9h0M523.2 161.4h0M442.7 163.8h0M541.7 163.9h0M554.1 163.9h0M436.5 166.2h0M479.8 168.8h0M417.8 173.7h0M430.2 173.7h0M516.8 173.8h0M547.7 176.4h0M560.1 176.4h0M405.4 178.6h0M578.7 178.9h0M380.6 183.6h0M473.4 186.2h0M547.6 186.3h0M479.5 188.7h0M529 188.8h0M578.5 188.9h0M473.3 191.2h0M535.2 191.3h0M491.9 193.7h0M578.5 193.9h0M417.6 198.6h0M479.4 198.7h0M491.8 198.7h0M566.1 198.8h0M423.7 201.1h0M572.2 201.3h0M442.3 203.6h0M454.6 203.6h0M479.4 203.7h0M553.6 203.8h0M467 208.6h0M541.2 208.7h0M553.6 208.8h0M497.7 226.1h0M497.6 231.1h0"/><path stroke="#ab7f55" d="M492.5 138.9h0M492.4 143.9h0M498.6 146.4h0M523.3 151.4h0M535.6 151.5h0M517.1 153.9h0M461.3 156.3h0M548 156.5h0M442.8 158.8h0M473.7 161.3h0M510.8 161.4h0M479.8 163.8h0M510.7 166.4h0M523.1 166.4h0M467.4 168.8h0M492.1 168.8h0M578.8 169h0M411.7 171.2h0M523 171.4h0M405.5 173.7h0M479.7 173.8h0M473.5 176.3h0M535.4 176.4h0M504.4 178.8h0M386.8 181.1h0M522.9 181.3h0M560.1 181.4h0M492 183.8h0M529.1 183.8h0M603.4 183.9h0M510.5 186.3h0M572.4 186.4h0M597.1 186.4h0M454.8 188.7h0M590.9 188.9h0M411.5 191.1h0M423.8 196.1h0M491.8 203.7h0M504.1 203.7h0M485.5 206.2h0M460.7 211.1h0M522.6 211.2h0M535 211.2h0M491.6 213.6h0M541.1 213.7h0M460.7 216.1h0M522.6 216.2h0M491.5 223.6h0M485.3 226.1h0"/><path stroke="#ae7f52" d="M498.6 141.4h0M486.1 151.4h0M455.2 153.8h0M467.6 153.8h0M492.3 153.9h0M529.4 153.9h0M541.8 154h0M473.7 156.3h0M510.8 156.4h0M517 158.9h0M529.4 158.9h0M448.9 161.3h0M498.4 161.4h0M535.5 161.4h0M560.3 161.5h0M467.4 163.8h0M566.4 164h0M535.5 166.4h0M560.2 166.4h0M417.9 168.7h0M430.3 168.7h0M442.6 168.7h0M554 168.9h0M424.1 171.2h0M461.2 171.3h0M485.9 171.3h0M572.5 171.4h0M455 173.7h0M492.1 173.8h0M399.2 176.1h0M411.6 176.2h0M510.6 176.3h0M584.9 176.4h0M597.2 176.5h0M393 178.6h0M417.8 178.7h0M516.8 178.8h0M541.5 178.9h0M566.3 178.9h0M399.2 181.1h0M411.6 181.1h0M535.3 181.3h0M572.4 181.4h0M393 183.6h0M405.4 183.6h0M430.1 183.7h0M442.5 183.7h0M566.2 183.9h0M578.6 183.9h0M461 186.2h0M485.8 186.2h0M560 186.4h0M584.8 186.4h0M609.5 186.4h0M392.9 188.6h0M467.2 188.7h0M541.4 188.8h0M553.8 188.8h0M566.2 188.9h0M399.1 191.1h0M423.8 191.1h0M436.2 191.1h0M461 191.2h0M485.7 191.2h0M510.5 191.3h0M584.7 191.4h0M597.1 191.4h0M430 193.6h0M467.1 193.7h0M516.6 193.8h0M553.7 193.8h0M485.7 196.2h0M498 196.2h0M535.1 196.3h0M547.5 196.3h0M572.3 196.3h0M584.7 196.4h0M429.9 198.6h0M442.3 198.6h0M454.7 198.6h0M553.7 198.8h0M578.4 198.8h0M436.1 201.1h0M460.8 201.1h0M467 203.6h0M528.9 203.7h0M473.2 206.1h0M497.9 206.2h0M442.2 208.6h0M528.8 208.7h0M448.4 211.1h0M473.1 211.1h0M510.2 211.2h0M547.4 211.2h0M466.9 213.6h0M504 213.7h0M497.8 216.1h0M510.2 216.2h0M534.9 216.2h0M479.2 223.6h0M503.9 223.6h0M516.3 223.6h0M491.5 228.6h0"/><path stroke="#a4805c" d="M511 146.4h0M480 148.9h0M492.4 148.9h0M504.7 148.9h0M517.1 148.9h0M461.4 151.3h0M449 156.3h0M492.2 163.8h0M529.3 163.9h0M424.1 166.2h0M572.6 166.5h0M455 168.8h0M566.4 168.9h0M436.4 171.2h0M467.3 173.8h0M498.2 176.3h0M523 176.3h0M454.9 178.7h0M584.8 181.4h0M597.2 181.4h0M479.6 183.7h0M386.8 186.1h0M399.1 186.1h0M411.5 186.1h0M448.6 186.2h0M442.4 188.7h0M603.3 188.9h0M454.7 193.7h0M541.4 193.8h0M590.9 193.9h0M436.2 196.1h0M448.5 196.1h0M510.4 196.2h0M504.2 198.7h0M541.3 198.8h0M448.5 201.1h0M485.6 201.2h0M498 201.2h0M436 206.1h0M510.3 206.2h0M528.8 213.7h0M485.4 216.1h0M528.7 218.7h0M485.4 221.1h0M522.5 221.2h0M510.1 226.1h0"/><path stroke="#a1805f" d="M480 143.9h0M535.6 156.4h0M467.5 158.8h0M479.9 158.8h0M541.8 158.9h0M554.1 159h0M436.5 161.3h0M486 161.3h0M430.3 163.7h0M461.2 166.3h0M547.9 166.4h0M529.3 168.9h0M498.3 171.3h0M485.9 176.3h0M572.5 176.4h0M442.5 178.7h0M603.4 179h0M591 183.9h0M522.8 191.3h0M572.3 191.4h0M405.2 193.6h0M442.4 193.6h0M504.2 193.7h0M529 193.8h0M460.9 196.2h0M473.3 196.2h0M528.9 198.8h0M522.7 201.2h0M535.1 201.3h0M547.5 201.3h0M516.5 203.7h0M541.3 203.8h0M566 203.8h0M460.8 206.1h0M479.3 208.6h0M491.7 208.7h0M479.2 218.6h0M473 221.1h0M503.9 228.6h0"/><path stroke="#a87f59" d="M486.3 141.4h0M498.5 151.4h0M504.7 153.9h0M455.1 158.8h0M461.3 161.3h0M547.9 161.4h0M455.1 163.8h0M504.6 163.9h0M448.9 166.3h0M504.5 168.8h0M541.6 168.9h0M510.7 171.3h0M547.8 171.4h0M560.2 171.4h0M529.2 173.9h0M461.1 176.2h0M430.2 178.7h0M479.7 178.8h0M436.3 181.2h0M448.7 181.2h0M461.1 181.2h0M609.6 181.5h0M417.7 183.6h0M553.9 183.9h0M615.7 184h0M423.9 186.1h0M436.3 186.2h0M522.9 186.3h0M430 188.6h0M491.9 188.7h0M516.7 188.8h0M448.6 191.2h0M411.4 196.1h0M522.8 196.3h0M467.1 198.7h0M510.3 201.2h0M559.8 201.3h0M522.7 206.2h0M504.1 208.7h0M516.5 208.7h0M479.3 213.6h0M473.1 216.1h0M466.8 218.6h0M491.6 218.6h0M497.8 221.1h0M510.1 221.1h0"/><path stroke="#9b8066" d="M498.7 136.5h0M511 141.5h0M486.2 146.4h0M498.5 156.4h0M523.2 156.4h0M492.2 158.9h0M516.9 163.9h0M486 166.3h0M448.8 171.2h0M473.6 171.3h0M584.9 171.5h0M541.6 173.9h0M554 173.9h0M578.7 173.9h0M591.1 174h0M424 176.2h0M448.7 176.2h0M529.2 178.8h0M553.9 178.9h0M591 178.9h0M423.9 181.2h0M473.4 181.2h0M485.8 181.3h0M498.2 181.3h0M510.6 181.3h0M454.9 183.7h0M504.4 183.8h0M516.7 183.8h0M498.1 186.3h0M535.3 186.3h0M405.3 188.6h0M417.7 188.6h0M560 191.3h0M417.6 193.6h0M479.5 193.7h0M566.1 193.8h0M429.9 203.6h0M448.4 206.1h0M535 206.2h0M547.4 206.3h0M559.8 206.3h0M454.6 208.6h0M485.5 211.1h0M497.9 211.2h0M454.5 213.6h0M516.4 213.7h0M504 218.6h0M516.3 218.7h0"/><path stroke="#988069" d="M473.8 151.4h0M510.9 151.4h0M486.1 156.4h0M504.6 158.9h0M473.6 166.3h0M498.4 166.3h0M516.9 168.9h0M535.4 171.4h0M442.6 173.7h0M504.5 173.8h0M566.3 173.9h0M436.4 176.2h0M467.3 178.7h0M492 178.8h0M547.7 181.4h0M467.2 183.7h0M541.5 183.8h0M504.3 188.8h0M498.1 191.2h0M547.6 191.3h0M559.9 196.3h0M516.6 198.7h0M473.2 201.2h0"/><path stroke="#a4805c" d="M473.8 129.6h0M436.5 139.5h0M448.9 139.6h0M486 139.6h0M467.4 142.1h0M492.2 142.1h0M504.6 142.1h0M436.5 144.5h0M473.6 144.6h0M442.6 147h0M479.8 147.1h0M411.7 149.5h0M584.9 149.7h0M529.2 152.1h0M436.4 154.5h0M405.4 156.9h0M516.8 157.1h0M560.1 159.7h0M584.8 159.7h0M380.6 161.9h0M417.7 161.9h0M442.5 162h0M529.1 162.1h0M566.2 162.2h0M578.6 162.2h0M411.5 164.4h0M436.3 164.4h0M485.8 164.5h0M522.9 164.6h0M547.6 164.6h0M560 164.6h0M491.9 167h0M590.9 167.2h0M448.6 169.4h0M572.3 169.6h0M430 171.9h0M467.1 172h0M479.5 172h0M516.6 172h0M423.8 174.4h0M559.9 174.6h0M584.7 174.6h0M429.9 176.9h0M516.6 177h0M566.1 177.1h0M423.7 179.4h0M436.1 179.4h0M559.8 179.6h0M429.9 181.9h0M516.5 182h0M473.2 184.4h0M528.8 187h0M522.6 189.5h0M485.4 199.4h0M485.3 204.4h0M510.1 204.4h0"/><path stroke="#ae7f52" d="M584.9 154.7h0M417.8 156.9h0M603.4 157.2h0M386.8 159.4h0M393 161.9h0M615.7 162.2h0M417.7 166.9h0M590.9 172.2h0M547.4 184.5h0M547.4 189.5h0M466.9 191.9h0M460.7 194.4h0M497.7 204.4h0"/><path stroke="#988069" d="M498.7 114.7h0M504.8 117.2h0M486.3 119.7h0M492.4 127.2h0M510.9 129.7h0M479.9 132.1h0M492.3 132.2h0M548 134.7h0M517 137.2h0M578.8 147.2h0M448.8 149.5h0M547.8 149.7h0M572.5 149.7h0M442.6 152h0M516.8 152.1h0M393 156.9h0M430.2 157h0M541.5 157.1h0M436.3 159.5h0M448.7 159.5h0M547.7 159.6h0M448.6 164.5h0M473.4 164.5h0M609.5 164.7h0M405.3 166.9h0M442.4 166.9h0M454.8 167h0M529 167.1h0M473.3 169.5h0M597.1 169.7h0M442.4 171.9h0M529 172.1h0M411.4 174.4h0M485.7 174.5h0M547.5 174.6h0M491.8 177h0M473.2 179.4h0M448.4 184.4h0M442.2 186.9h0M448.4 189.4h0M460.7 189.4h0M491.6 191.9h0M528.8 192h0M541.1 192h0M510.2 194.4h0M522.6 194.5h0M491.6 196.9h0"/><path stroke="#9b8066" d="M498.6 119.7h0M480 122.2h0M492.4 122.2h0M486.2 124.7h0M498.6 124.7h0M486.1 129.7h0M449 134.6h0M473.7 134.6h0M442.8 137.1h0M479.9 137.1h0M529.4 137.2h0M498.4 139.6h0M535.5 139.7h0M547.9 139.7h0M479.8 142.1h0M554.1 142.2h0M486 144.6h0M455 147h0M467.4 147.1h0M492.1 147.1h0M516.9 147.1h0M554 147.2h0M436.4 149.5h0M405.5 151.9h0M554 152.2h0M399.2 154.4h0M485.9 154.6h0M597.2 154.7h0M553.9 157.2h0M566.3 157.2h0M411.6 159.4h0M461.1 159.5h0M498.2 159.6h0M609.6 159.7h0M591 162.2h0M535.3 164.6h0M584.8 164.7h0M597.1 164.7h0M467.2 167h0M566.2 167.1h0M423.8 169.4h0M535.2 169.6h0M504.2 172h0M448.5 174.4h0M454.7 176.9h0M504.2 177h0M491.8 182h0M528.9 182h0M541.3 182h0M553.6 182.1h0M559.8 184.6h0M473.1 189.4h0M504 196.9h0M503.9 201.9h0M491.5 206.9h0"/><path stroke="#9e8063" d="M511 119.7h0M504.8 122.2h0M523.3 124.7h0M504.7 127.2h0M467.6 132.1h0M517.1 132.2h0M486.1 134.6h0M424.1 144.5h0M498.4 144.6h0M547.9 144.7h0M417.9 147h0M541.6 152.2h0M535.4 154.6h0M423.9 159.4h0M473.4 159.5h0M572.4 159.7h0M479.5 167h0M541.4 167.1h0M510.5 169.5h0M578.5 172.1h0M417.6 176.9h0M467.1 176.9h0M572.2 179.6h0M442.3 181.9h0M454.6 181.9h0M460.8 184.4h0M485.5 184.4h0M535 184.5h0M479.3 186.9h0M541.2 187h0M473.1 194.4h0M497.8 194.4h0M503.9 206.9h0"/><path stroke="#94806c" d="M461.4 129.6h0M498.5 129.7h0M535.6 129.7h0M510.8 134.7h0M492.2 137.1h0M430.3 142h0M448.9 144.5h0M504.5 147.1h0M541.6 147.2h0M523 149.6h0M479.7 152.1h0M578.7 152.2h0M591.1 152.2h0M473.5 154.5h0M498.2 154.6h0M492 157.1h0M430.1 161.9h0M467.2 162h0M386.8 164.4h0M399.1 164.4h0M572.4 164.7h0M392.9 166.9h0M553.8 167.1h0M603.3 167.2h0M584.7 169.7h0M417.6 171.9h0M553.7 172.1h0M436.2 174.4h0M522.8 174.5h0M572.3 174.6h0M553.7 177.1h0M448.5 179.4h0M535.1 179.5h0M467 181.9h0M467 186.9h0M510.2 189.5h0M479.2 196.9h0M497.6 209.4h0"/><path stroke="#a1805f" d="M492.5 117.2h0M517.2 122.2h0M473.8 124.7h0M455.2 132.1h0M461.3 134.6h0M467.5 137.1h0M541.8 137.2h0M461.3 139.6h0M473.7 139.6h0M560.3 139.7h0M455.1 142.1h0M461.2 149.5h0M485.9 149.6h0M498.3 149.6h0M504.5 152.1h0M424 154.5h0M461.1 154.5h0M547.7 154.7h0M560.1 154.7h0M504.4 157.1h0M510.6 159.6h0M535.3 159.6h0M597.2 159.7h0M405.4 161.9h0M479.6 162h0M541.5 162.1h0M461 164.5h0M498.1 164.5h0M504.3 167h0M485.7 169.5h0M498.1 169.5h0M547.6 169.6h0M405.2 171.9h0M454.7 171.9h0M473.3 174.5h0M498 174.5h0M460.8 179.4h0M498 179.5h0M522.7 184.5h0M491.7 186.9h0M516.4 192h0M466.8 196.9h0M497.8 199.4h0M510.1 199.4h0M479.2 201.9h0M491.5 201.9h0M516.3 201.9h0"/><path stroke="#ab7f55" d="M467.6 127.1h0M504.7 132.2h0M529.4 132.2h0M523.2 134.7h0M535.6 134.7h0M455.1 137.1h0M523.2 139.7h0M566.4 142.2h0M430.3 147h0M455 152h0M591 157.2h0M603.4 162.2h0M423.9 164.4h0M578.5 167.2h0M399.1 169.4h0M411.5 169.4h0M566.1 172.1h0M541.3 177.1h0M547.5 179.6h0M436 184.4h0M454.6 186.9h0M485.5 189.4h0M454.5 191.9h0M485.4 194.4h0M534.9 194.5h0"/><path stroke="#a87f59" d="M480 127.2h0M529.5 127.2h0M523.3 129.7h0M541.8 132.2h0M498.5 134.7h0M504.6 137.2h0M529.3 142.2h0M541.7 142.2h0M461.2 144.6h0M535.5 144.7h0M560.2 144.7h0M566.4 147.2h0M424.1 149.5h0M560.2 149.7h0M417.8 152h0M411.6 154.4h0M448.7 154.5h0M572.5 154.7h0M442.5 157h0M454.9 157h0M399.2 159.4h0M436.2 169.4h0M461 169.5h0M460.9 174.4h0M535.1 174.6h0M442.3 176.9h0M578.4 177.1h0M522.7 179.5h0M566 182.1h0M510.3 184.5h0M516.5 187h0M553.6 187h0M497.9 189.4h0M479.3 191.9h0M504 191.9h0M516.3 196.9h0M528.7 197h0M473 199.4h0M522.5 199.4h0"/><path stroke="#90806e" d="M511 124.7h0M517.1 127.2h0M554.1 137.2h0M510.8 139.7h0M442.7 142h0M510.7 144.6h0M572.6 144.7h0M473.6 149.6h0M510.7 149.6h0M430.2 152h0M467.3 152h0M566.3 152.2h0M578.7 157.2h0M485.8 159.5h0M454.9 162h0M516.7 162.1h0M430 166.9h0M516.7 167.1h0M522.8 169.6h0M560 169.6h0M541.4 172.1h0M528.9 177h0M485.6 179.5h0M479.4 181.9h0M504.1 182h0M497.9 184.5h0M504.1 187h0M535 189.5h0"/><path stroke="#8d7f71" d="M516.9 142.2h0M523.1 144.7h0M529.3 147.2h0M535.4 149.7h0M510.6 154.6h0M523 154.6h0M467.3 157h0M479.7 157h0M529.2 157.1h0M492 162h0M553.9 162.1h0M491.9 172h0M510.4 174.5h0M479.4 177h0M510.3 179.5h0"/><path stroke="#8a7f74" d="M492.1 152.1h0M522.9 159.6h0M504.4 162.1h0M510.5 164.6h0"/><path stroke="#a87f59" d="M492.5 95.5h0M504.8 95.5h0M492.4 100.5h0M529.5 105.5h0M498.5 108h0M535.6 108h0M442.8 115.3h0M467.5 115.4h0M529.4 115.5h0M461.3 117.9h0M473.7 117.9h0M486 117.9h0M535.5 118h0M547.9 118h0M535.5 123h0M455 125.3h0M411.7 127.7h0M560.2 128h0M411.6 132.7h0M597.2 133h0M578.7 135.5h0M436.3 137.7h0M380.6 140.1h0M405.4 140.2h0M442.5 140.2h0M566.2 140.4h0M578.6 140.5h0M591 140.5h0M572.4 142.9h0M430 145.2h0M442.4 145.2h0M454.8 145.2h0M590.9 150.4h0M423.8 152.7h0M584.7 152.9h0M578.4 155.4h0M559.8 157.9h0M559.8 162.8h0M535 167.8h0M491.6 170.2h0M485.4 172.7h0M491.6 175.2h0M516.3 175.2h0M491.5 180.2h0"/><path stroke="#9e8063" d="M473.8 102.9h0M517.1 110.5h0M504.6 115.4h0M541.8 115.5h0M560.3 118h0M455.1 120.3h0M510.7 122.9h0M510.7 127.9h0M430.2 130.3h0M442.5 135.3h0M454.9 135.3h0M479.7 135.3h0M591 135.5h0M386.8 137.7h0M473.4 137.8h0M417.7 140.2h0M492 140.3h0M603.4 140.5h0M461 142.8h0M529 145.4h0M553.8 145.4h0M423.8 147.7h0M491.9 150.3h0M504.2 155.3h0M448.5 157.7h0M535.1 157.8h0M547.5 157.8h0M572.2 157.9h0M535 162.8h0M454.6 165.2h0M553.6 165.3h0M460.7 167.7h0M473.1 167.7h0M497.8 172.7h0"/><path stroke="#a4805c" d="M511 98h0M517.2 100.5h0M467.6 105.4h0M461.3 112.9h0M554.1 115.5h0M448.9 117.8h0M424.1 122.8h0M473.6 122.9h0M486 122.9h0M492.1 125.4h0M541.6 125.5h0M547.8 128h0M417.8 130.2h0M393 135.2h0M430.2 135.2h0M461.1 137.8h0M547.7 137.9h0M609.6 138h0M454.9 140.3h0M541.5 140.4h0M566.2 145.4h0M578.5 145.4h0M590.9 145.5h0M448.6 147.7h0M461 147.7h0M430 150.2h0M460.8 157.7h0M528.8 165.3h0M547.4 167.8h0M460.7 172.6h0M466.8 175.1h0"/><path stroke="#9b8066" d="M498.6 98h0M504.7 105.5h0M455.2 110.4h0M479.9 110.4h0M449 112.9h0M498.5 112.9h0M436.5 117.8h0M523.2 118h0M554 125.5h0M436.4 127.8h0M461.2 127.8h0M504.5 130.4h0M516.8 130.4h0M399.2 132.7h0M560.1 133h0M492 135.3h0M541.5 135.4h0M411.6 137.7h0M448.7 137.8h0M430.1 140.2h0M615.7 140.5h0M411.5 142.7h0M510.5 142.8h0M597.1 143h0M609.5 143h0M417.7 145.2h0M467.2 145.3h0M516.7 145.3h0M399.1 147.6h0M529 150.3h0M460.9 152.7h0M473.3 152.7h0M566.1 155.4h0M429.9 160.1h0M454.6 160.2h0M528.9 160.3h0M553.6 160.3h0M442.2 165.1h0M479.3 165.2h0M491.7 165.2h0M497.9 167.7h0M504 170.2h0M528.8 170.3h0M479.2 175.2h0M504 175.2h0M485.4 177.7h0M510.1 177.7h0M510.1 182.7h0"/><path stroke="#ae7f52" d="M498.7 93h0M480 100.5h0M405.5 130.2h0M597.2 138h0M479.2 180.1h0"/><path stroke="#a1805f" d="M498.6 103h0M461.4 107.9h0M523.3 108h0M467.6 110.4h0M566.4 120.5h0M436.5 122.8h0M523.1 122.9h0M560.2 123h0M417.9 125.3h0M516.9 125.4h0M566.4 125.5h0M448.8 127.8h0M584.9 128h0M492.1 130.4h0M566.3 130.5h0M485.9 132.8h0M584.9 133h0M405.4 135.2h0M553.9 135.4h0M535.3 137.9h0M436.3 142.7h0M572.3 147.9h0M417.6 150.2h0M479.5 150.3h0M553.7 150.4h0M535.1 152.8h0M572.3 152.9h0M423.7 157.6h0M522.7 157.8h0M442.3 160.2h0M479.4 160.2h0M522.7 162.8h0M516.5 165.3h0M466.9 170.2h0M485.3 182.6h0M497.6 187.6h0"/><path stroke="#ab7f55" d="M523.3 103h0M480 105.4h0M492.4 105.5h0M430.3 120.3h0M424.1 127.8h0M591.1 130.5h0M399.2 137.7h0M584.8 138h0M393 140.2h0M399.1 142.7h0M405.2 150.1h0M442.4 150.2h0M436.1 157.7h0M566 160.4h0M436 162.6h0M448.4 167.6h0M485.5 167.7h0M454.5 170.1h0M479.3 170.2h0M516.4 170.2h0M541.1 170.3h0M510.2 172.7h0M522.5 177.7h0M516.3 180.2h0"/><path stroke="#94806c" d="M486.3 98h0M504.8 100.5h0M473.8 107.9h0M492.3 110.4h0M529.4 110.5h0M541.8 110.5h0M535.6 113h0M548 113h0M498.4 117.9h0M479.8 120.4h0M516.9 120.4h0M554.1 120.5h0M572.6 123h0M473.6 127.8h0M535.4 127.9h0M442.6 130.3h0M479.7 130.3h0M529.2 130.4h0M424 132.7h0M523 132.9h0M547.7 132.9h0M572.5 133h0M566.3 135.5h0M423.9 137.7h0M485.8 137.8h0M560.1 137.9h0M504.4 140.3h0M516.7 140.4h0M535.3 142.9h0M584.8 143h0M392.9 145.1h0M504.3 145.3h0M541.4 145.4h0M603.3 145.5h0M535.2 147.9h0M547.6 147.9h0M597.1 148h0M454.7 150.2h0M504.2 150.3h0M578.5 150.4h0M510.4 152.8h0M429.9 155.2h0M442.3 155.2h0M553.7 155.4h0M516.5 160.3h0M541.3 160.3h0M547.4 162.8h0M541.2 165.3h0M522.6 167.8h0M473.1 172.7h0M534.9 172.8h0M473 177.6h0M497.7 182.7h0M503.9 185.2h0"/><path stroke="#988069" d="M517.1 105.5h0M486.1 107.9h0M510.8 113h0M523.2 113h0M455.1 115.4h0M517 115.5h0M510.8 117.9h0M504.6 120.4h0M547.9 123h0M442.6 125.3h0M479.8 125.4h0M578.8 125.5h0M485.9 127.9h0M572.5 128h0M455 130.3h0M603.4 135.5h0M522.9 137.9h0M572.4 138h0M467.2 140.3h0M386.8 142.6h0M423.9 142.7h0M448.6 142.7h0M405.3 145.2h0M411.5 147.7h0M436.2 147.7h0M485.7 147.8h0M560 147.9h0M584.7 147.9h0M516.6 150.3h0M566.1 150.4h0M411.4 152.6h0M448.5 152.7h0M485.7 152.8h0M522.8 152.8h0M417.6 155.1h0M473.2 157.7h0M485.6 157.7h0M467 160.2h0M448.4 162.7h0M485.5 162.7h0M467 165.2h0M497.8 177.7h0M503.9 180.2h0M491.5 185.1h0"/><path stroke="#90806e" d="M486.2 103h0M511 103h0M510.9 108h0M504.7 110.5h0M473.7 112.9h0M486.1 112.9h0M479.9 115.4h0M492.2 115.4h0M442.7 120.3h0M467.4 120.4h0M529.3 120.5h0M541.7 120.5h0M448.9 122.8h0M498.4 122.9h0M430.3 125.3h0M504.5 125.4h0M541.6 130.4h0M554 130.5h0M578.7 130.5h0M436.4 132.8h0M448.7 132.8h0M461.1 132.8h0M510.6 132.9h0M535.4 132.9h0M417.8 135.2h0M529.2 135.4h0M553.9 140.4h0M498.1 142.8h0M560 142.9h0M436.2 152.7h0M498 152.8h0M547.5 152.9h0M559.9 152.9h0M454.7 155.2h0M467.1 155.2h0M491.8 155.3h0M516.6 155.3h0M541.3 155.3h0M498 157.8h0M460.8 162.7h0M473.2 162.7h0M497.9 162.7h0M510.3 162.8h0M504.1 165.2h0M522.6 172.7h0M528.7 175.2h0"/><path stroke="#8d7f71" d="M492.2 120.4h0M461.2 122.8h0M467.4 125.3h0M529.3 125.4h0M523 127.9h0M467.3 130.3h0M473.5 132.8h0M498.2 137.8h0M529.1 140.4h0M473.4 142.8h0M510.3 157.8h0M491.8 160.2h0M504.1 160.3h0M510.2 167.7h0"/><path stroke="#867f77" d="M498.3 127.9h0M467.3 135.3h0M479.6 140.3h0M522.9 142.9h0M479.5 145.3h0M522.8 147.8h0"/><path stroke="#8a7f74" d="M498.2 132.9h0M504.4 135.4h0M485.8 142.8h0M547.6 142.9h0M491.9 145.3h0M473.3 147.8h0M510.5 147.8h0M467.1 150.2h0M541.4 150.4h0M479.4 155.2h0M528.9 155.3h0"/><path stroke="#837e79" d="M516.8 135.4h0M510.6 137.9h0M498.1 147.8h0"/><path stroke="#9e8063" d="M498.7 71.3h0M480 83.7h0M467.4 98.6h0M486 101.2h0M510.7 101.2h0M417.9 103.5h0M547.8 106.2h0M473.5 111.1h0M566.3 113.7h0M380.6 118.4h0M405.4 118.5h0M442.5 118.5h0M578.6 118.7h0M603.4 118.8h0M386.8 120.9h0M560 121.2h0M609.5 121.3h0M417.7 123.5h0M430 123.5h0M454.8 123.5h0M485.7 126.1h0M417.6 128.4h0M430 128.5h0M491.9 128.6h0M566.1 128.7h0M411.4 130.9h0M498 131.1h0M479.4 133.5h0M485.6 136h0M498 136h0M510.2 151h0"/><path stroke="#a1805f" d="M492.5 73.8h0M517.2 78.8h0M473.8 81.2h0M486.1 86.2h0M455.2 88.7h0M535.6 91.3h0M442.8 93.6h0M479.8 98.7h0M541.7 98.8h0M547.9 101.3h0M560.2 101.3h0M572.6 101.3h0M448.8 106.1h0M461.2 106.1h0M560.2 106.3h0M405.5 108.5h0M430.2 108.5h0M467.3 108.6h0M591.1 108.8h0M424 111h0M547.7 111.2h0M417.8 113.5h0M603.4 113.8h0M386.8 115.9h0M560.1 116.2h0M591 118.8h0M411.5 125.9h0M597.1 126.2h0M405.2 128.4h0M442.4 128.5h0M553.7 128.7h0M417.6 133.4h0M504.2 133.6h0M541.3 133.6h0M510.3 136.1h0M547.5 136.1h0M504.1 138.5h0M460.8 141h0M497.9 141h0M454.6 143.4h0M541.2 143.6h0M510.2 146h0M460.7 150.9h0M503.9 163.4h0"/><path stroke="#a4805c" d="M498.6 76.3h0M498.6 81.3h0M473.8 86.2h0M535.6 86.3h0M479.9 88.7h0M504.7 88.7h0M517.1 88.8h0M529.4 88.8h0M523.2 91.3h0M492.2 93.7h0M523.2 96.2h0M566.4 98.8h0M424.1 101.1h0M448.9 101.1h0M442.6 103.6h0M584.9 106.3h0M442.6 108.6h0M411.6 111h0M572.5 111.3h0M597.2 111.3h0M393 113.5h0M405.4 113.5h0M578.7 113.8h0M423.9 116h0M430.1 118.5h0M615.7 118.8h0M411.5 121h0M423.9 121h0M448.6 121h0M442.4 123.5h0M541.4 128.6h0M423.8 130.9h0M578.4 133.7h0M448.5 136h0M535.1 136.1h0M572.2 136.2h0M485.5 141h0M535 141.1h0M559.8 141.1h0M467 143.5h0M479.3 143.5h0M473.1 146h0M522.6 146h0M491.6 148.5h0M473.1 150.9h0M491.6 153.5h0M497.8 156h0M503.9 158.5h0M497.7 160.9h0M497.6 165.9h0"/><path stroke="#9b8066" d="M486.3 76.3h0M480 78.7h0M498.5 91.2h0M510.8 91.2h0M548 91.3h0M467.5 93.7h0M479.9 93.7h0M554.1 93.8h0M448.9 96.1h0M498.4 96.2h0M535.5 96.3h0M442.7 98.6h0M492.2 98.7h0M554.1 98.8h0M436.5 101.1h0M473.6 101.1h0M504.5 103.7h0M516.9 103.7h0M529.2 108.7h0M541.6 108.7h0M578.7 108.8h0M399.2 111h0M560.1 111.2h0M584.9 111.3h0M479.7 113.6h0M584.8 116.3h0M405.3 123.4h0M516.7 123.6h0M578.5 123.7h0M423.8 126h0M535.2 126.1h0M572.3 126.2h0M584.7 126.2h0M516.6 128.6h0M436.2 131h0M460.9 131h0M467.1 133.5h0M460.8 136h0M473.2 136h0M442.3 138.4h0M454.6 138.5h0M467 138.5h0M541.3 138.6h0M504 153.5h0M473 155.9h0M485.3 160.9h0M491.5 163.4h0"/><path stroke="#90806e" d="M511 81.3h0M492.3 88.7h0M455.1 93.6h0M504.6 93.7h0M461.3 96.1h0M547.9 96.3h0M455 103.6h0M411.7 106h0M523 106.2h0M566.3 108.8h0M516.8 113.7h0M591 113.8h0M448.7 116h0M498.2 116.1h0M516.7 118.6h0M529.1 118.7h0M541.5 118.7h0M479.5 123.6h0M498.1 126.1h0M560 126.2h0M454.7 128.5h0M529 128.6h0M578.5 128.7h0M473.3 131h0M485.7 131h0M535.1 131.1h0M559.9 131.2h0M566.1 133.7h0M522.7 136.1h0M516.5 138.6h0M528.9 138.6h0M522.7 141.1h0M528.8 143.6h0M460.7 145.9h0M485.4 151h0M534.9 151h0"/><path stroke="#988069" d="M504.8 73.8h0M510.9 86.3h0M467.6 88.7h0M529.4 93.8h0M430.3 98.6h0M461.2 101.1h0M523.1 101.2h0M479.8 103.6h0M492.1 103.7h0M529.3 103.7h0M554 103.8h0M578.8 103.8h0M498.3 106.2h0M417.8 108.5h0M504.5 108.7h0M436.4 111h0M461.1 111.1h0M485.9 111.1h0M430.2 113.5h0M442.5 113.5h0M553.9 113.7h0M411.6 116h0M436.3 116h0M473.4 116.1h0M572.4 116.2h0M553.9 118.7h0M597.1 121.3h0M553.8 123.7h0M566.2 123.7h0M590.9 123.7h0M399.1 125.9h0M448.6 126h0M510.5 126.1h0M547.6 126.2h0M504.2 128.6h0M590.9 128.7h0M547.5 131.1h0M429.9 133.4h0M423.7 135.9h0M473.2 141h0M504.1 143.5h0M516.5 143.5h0M553.6 143.6h0M535 146.1h0M454.5 148.4h0M479.3 148.5h0M516.4 148.5h0M541.1 148.6h0M522.6 151h0M466.8 153.4h0M528.7 153.5h0"/><path stroke="#ab7f55" d="M492.4 78.8h0M523.3 81.3h0M517.1 83.8h0M449 91.1h0M436.5 96.1h0M430.3 103.6h0M597.2 116.3h0M603.3 123.8h0M584.7 131.2h0M559.8 136.1h0M429.9 138.4h0M553.6 138.6h0M547.4 146.1h0M479.2 153.4h0M522.5 156h0M516.3 158.5h0M510.1 161h0"/><path stroke="#94806c" d="M504.8 78.8h0M504.7 83.8h0M461.4 86.2h0M498.5 86.2h0M523.3 86.3h0M541.8 88.8h0M473.7 96.2h0M560.3 96.3h0M535.5 101.2h0M467.4 103.6h0M541.6 103.7h0M566.4 103.8h0M424.1 106h0M436.4 106.1h0M535.4 106.2h0M572.5 106.3h0M448.7 111.1h0M535.4 111.2h0M399.2 116h0M547.7 116.2h0M417.7 118.5h0M566.2 118.7h0M399.1 120.9h0M436.3 121h0M473.4 121.1h0M572.4 121.2h0M584.8 121.2h0M392.9 123.4h0M479.5 128.5h0M448.5 131h0M510.4 131.1h0M572.3 131.2h0M553.7 133.6h0M479.4 138.5h0M436 140.9h0M448.4 140.9h0M442.2 143.4h0M491.7 143.5h0M448.4 145.9h0M497.9 146h0M497.8 151h0M485.4 155.9h0"/><path stroke="#a87f59" d="M511 76.3h0M467.6 83.7h0M492.4 83.7h0M529.5 83.8h0M461.3 91.2h0M486.1 91.2h0M609.6 116.3h0M393 118.4h0M436.2 126h0M454.7 133.5h0M436.1 135.9h0M566 138.6h0M547.4 141.1h0M466.9 148.4h0M504 148.5h0M528.8 148.5h0M516.3 153.5h0M510.1 156h0M491.5 158.4h0"/><path stroke="#ae7f52" d="M486.2 81.2h0M479.2 158.4h0"/><path stroke="#8d7f71" d="M473.7 91.2h0M517 93.7h0M541.8 93.8h0M455.1 98.6h0M516.9 98.7h0M529.3 98.7h0M485.9 106.1h0M554 108.7h0M461.1 116.1h0M510.6 116.1h0M467.2 123.5h0M461 126h0M522.8 131.1h0M442.3 133.5h0M510.3 141h0M485.5 146h0"/><path stroke="#8a7f74" d="M486 96.2h0M510.8 96.2h0M504.6 98.7h0M498.4 101.2h0M455 108.6h0M479.7 108.6h0M523 111.2h0M454.9 113.6h0M529.2 113.7h0M522.9 116.2h0M504.4 118.6h0M461 121h0M535.3 121.2h0M491.9 123.6h0M529 123.6h0M491.8 133.5h0M491.8 138.5h0"/><path stroke="#867f77" d="M473.6 106.1h0M510.6 111.2h0M467.3 113.6h0M541.5 113.7h0M454.9 118.5h0M467.2 118.6h0M479.6 118.6h0M485.8 121.1h0M547.6 121.2h0M504.3 123.6h0M541.4 123.7h0M473.3 126h0M522.8 126.1h0M467.1 128.5h0M516.6 133.6h0M528.9 133.6h0"/><path stroke="#837e79" d="M510.7 106.2h0M492.1 108.6h0M492 113.6h0M535.3 116.2h0M492 118.6h0M498.1 121.1h0"/><path stroke="#817e7b" d="M516.8 108.7h0M498.2 111.1h0M504.4 113.6h0M485.8 116.1h0M522.9 121.1h0"/><path stroke="#7e7d7e" d="M510.5 121.1h0"/><path stroke="#a4805c" d="M498.7 49.6h0M492.5 52.1h0M504.8 57.1h0M523.3 59.6h0M517.1 62.1h0M486.1 64.5h0M535.6 69.6h0M442.8 71.9h0M492.2 72h0M566.4 77.1h0M417.9 81.8h0M442.6 81.9h0M554 87h0M393 91.7h0M399.2 94.2h0M609.6 94.6h0M380.6 96.7h0M392.9 101.7h0M590.9 102h0M399.1 104.2h0M454.7 111.8h0M460.8 114.3h0M448.4 119.2h0M467 121.7h0M454.5 126.7h0M534.9 129.3h0M510.1 139.2h0M491.5 141.7h0"/><path stroke="#9b8066" d="M498.6 54.6h0M492.4 57h0M498.5 64.5h0M455.2 66.9h0M473.7 69.5h0M548 69.6h0M541.8 72.1h0M535.5 74.5h0M455.1 76.9h0M424.1 79.3h0M436.5 79.4h0M547.9 79.5h0M572.6 79.6h0M430.3 81.8h0M411.7 84.3h0M473.6 84.4h0M547.8 84.5h0M442.6 86.8h0M467.3 86.9h0M584.9 89.6h0M417.8 91.8h0M386.8 94.2h0M560.1 94.5h0M597.2 94.6h0M393 96.7h0M615.7 97.1h0M411.5 99.2h0M423.9 99.3h0M609.5 99.6h0M430 101.8h0M560 104.5h0M442.4 106.8h0M479.5 106.8h0M553.7 106.9h0M498 109.3h0M454.6 116.7h0M516.5 121.8h0M504 126.8h0M473.1 129.2h0M510.2 129.3h0M473 134.2h0"/><path stroke="#94806c" d="M480 57h0M511 59.6h0M467.6 62h0M473.8 64.5h0M492.3 67h0M510.8 69.5h0M467.5 71.9h0M479.9 72h0M517 72h0M486 74.5h0M541.7 77h0M448.9 79.4h0M498.4 79.5h0M510.7 79.5h0M560.2 79.6h0M436.4 84.3h0M417.8 86.8h0M399.2 89.3h0M467.3 91.9h0M492 91.9h0M578.7 92h0M448.7 94.3h0M547.7 94.5h0M516.7 96.9h0M603.4 97.1h0M386.8 99.2h0M498.1 99.4h0M417.7 101.7h0M504.3 101.9h0M423.8 104.2h0M584.7 104.5h0M566.1 107h0M559.9 109.4h0M535.1 114.4h0M547.5 114.4h0M491.8 116.8h0M553.6 116.9h0M491.7 121.8h0M448.4 124.2h0M460.7 124.2h0M535 124.3h0M479.3 126.7h0M491.6 126.8h0M485.4 129.2h0M497.8 129.3h0M491.5 136.7h0M497.6 144.2h0"/><path stroke="#988069" d="M511 54.6h0M492.4 62h0M461.4 64.5h0M535.6 64.6h0M461.3 69.4h0M479.8 76.9h0M516.9 77h0M554.1 77.1h0M523.1 79.5h0M455 81.9h0M467.4 81.9h0M566.4 82.1h0M405.5 86.8h0M479.7 86.9h0M516.8 87h0M448.7 89.3h0M461.1 89.4h0M535.4 89.5h0M541.5 92h0M591 92.1h0M541.5 97h0M566.2 97h0M578.6 97h0M436.3 99.3h0M461 99.3h0M461 104.3h0M448.5 109.3h0M559.8 114.4h0M566 116.9h0M436 119.2h0M541.2 121.9h0M547.4 124.4h0M504 131.8h0M516.3 136.8h0"/><path stroke="#90806e" d="M480 62h0M510.9 64.5h0M517.1 67h0M541.8 67.1h0M523.2 69.5h0M461.3 74.4h0M430.3 76.9h0M442.7 76.9h0M504.6 77h0M529.3 77h0M461.2 79.4h0M516.9 82h0M578.8 82.1h0M523 84.5h0M584.9 84.6h0M591.1 87.1h0M411.6 89.3h0M560.1 89.5h0M572.5 89.5h0M442.5 91.8h0M553.9 92h0M566.3 92h0M603.4 92.1h0M510.6 94.4h0M591 97h0M522.9 99.4h0M547.6 99.5h0M584.8 99.5h0M405.3 101.7h0M529 101.9h0M578.5 102h0M448.6 104.3h0M485.7 104.3h0M405.2 106.7h0M578.5 107h0M547.5 109.4h0M572.3 109.5h0M442.3 111.7h0M467.1 111.8h0M436.1 114.2h0M485.6 114.3h0M572.2 114.4h0M473.2 119.3h0M522.7 119.3h0M547.4 119.4h0M442.2 121.7h0M528.8 121.8h0M466.9 126.7h0M516.4 126.8h0M541.1 126.8h0M516.3 131.8h0M522.5 134.3h0M503.9 136.7h0"/><path stroke="#9e8063" d="M473.8 59.5h0M498.5 69.5h0M455.1 71.9h0M436.5 74.4h0M473.7 74.4h0M479.8 81.9h0M541.6 82h0M424.1 84.3h0M461.2 84.4h0M578.7 87.1h0M424 89.3h0M423.9 94.3h0M436.3 94.3h0M461.1 94.3h0M405.4 96.7h0M553.9 97h0M399.1 99.2h0M560 99.5h0M541.4 101.9h0M553.8 102h0M411.5 104.2h0M436.2 104.3h0M547.6 104.4h0M430 106.7h0M460.9 109.3h0M429.9 111.7h0M528.9 111.9h0M541.3 111.9h0M473.2 114.3h0M498 114.3h0M442.3 116.7h0M460.8 119.2h0M522.6 124.3h0M528.8 126.8h0M510.1 134.3h0M479.2 136.7h0"/><path stroke="#a87f59" d="M486.3 54.5h0M486.2 59.5h0M498.6 59.5h0M504.7 62h0M467.6 67h0M529.4 67.1h0M449 69.4h0M430.2 86.8h0M566.3 87h0M597.2 89.6h0M572.4 99.5h0M572.3 104.5h0M590.9 107h0M566.1 111.9h0M578.4 112h0M535 119.4h0M454.6 121.7h0M553.6 121.9h0M473.1 124.2h0M479.2 131.7h0M485.4 134.2h0"/><path stroke="#a1805f" d="M504.8 52.1h0M479.9 67h0M504.7 67h0M529.4 72h0M554.1 72.1h0M448.9 74.4h0M498.4 74.5h0M547.9 74.6h0M560.3 74.6h0M448.8 84.4h0M572.5 84.6h0M436.4 89.3h0M405.4 91.8h0M430.2 91.8h0M411.6 94.3h0M572.4 94.5h0M584.8 94.5h0M417.7 96.8h0M597.1 99.5h0M566.2 102h0M603.3 102h0M417.6 106.7h0M411.4 109.2h0M423.8 109.2h0M436.2 109.2h0M417.6 111.7h0M553.7 111.9h0M429.9 116.7h0M479.3 121.8h0M485.5 124.3h0M510.2 124.3h0M466.8 131.7h0M491.6 131.7h0M528.7 131.8h0M503.9 141.7h0"/><path stroke="#8a7f74" d="M486.1 69.5h0M504.6 72h0M510.8 74.5h0M467.4 76.9h0M473.6 79.4h0M492.1 86.9h0M485.9 89.4h0M498.2 89.4h0M547.7 89.5h0M504.4 91.9h0M522.9 94.4h0M535.3 94.5h0M430.1 96.8h0M454.9 96.8h0M479.6 96.9h0M473.4 99.3h0M535.3 99.4h0M442.4 101.8h0M467.2 101.8h0M479.5 101.8h0M491.9 101.9h0M535.2 104.4h0M454.7 106.8h0M479.4 111.8h0M491.8 111.8h0M510.3 114.3h0M467 116.8h0M516.5 116.8h0M528.9 116.9h0M485.5 119.3h0M510.3 119.3h0"/><path stroke="#ab7f55" d="M517.2 57.1h0M529.5 62.1h0M597.1 104.5h0M584.7 109.5h0M423.7 114.2h0M559.8 119.4h0M460.7 129.2h0M522.6 129.3h0M497.8 134.2h0M497.7 139.2h0"/><path stroke="#837e79" d="M492.1 81.9h0M455 86.9h0M504.5 86.9h0M541.6 87h0M510.6 89.4h0M454.9 91.8h0M479.7 91.9h0M498.2 94.4h0M467.2 96.8h0M510.5 104.4h0M504.2 106.9h0M535.1 109.4h0"/><path stroke="#8d7f71" d="M523.3 64.6h0M523.2 74.5h0M492.2 77h0M554 82h0M535.4 84.5h0M560.2 84.5h0M523 89.5h0M442.5 96.8h0M504.4 96.9h0M454.8 101.8h0M516.7 101.9h0M473.3 104.3h0M522.8 104.4h0M529 106.9h0M473.3 109.3h0M522.8 109.4h0M516.6 111.9h0M448.5 114.2h0M522.7 114.4h0M479.4 116.8h0M541.3 116.9h0M497.9 119.3h0M504.1 121.8h0M497.9 124.3h0"/><path stroke="#867f77" d="M486 79.4h0M535.5 79.5h0M504.5 82h0M529.3 82h0M529.2 87h0M473.5 89.4h0M516.8 91.9h0M448.6 99.3h0M467.1 106.8h0M541.4 106.9h0M510.4 109.4h0M504.1 116.8h0"/><path stroke="#817e7b" d="M485.9 84.4h0M498.3 84.4h0M510.7 84.5h0M485.8 94.4h0M529.1 96.9h0M510.5 99.4h0M491.9 106.8h0M516.6 106.9h0M485.7 109.3h0M504.2 111.8h0"/><path stroke="#7e7d7e" d="M529.2 92h0M473.4 94.4h0M485.8 99.4h0M498.1 104.4h0"/><path stroke="#7b7c80" d="M492 96.9h0"/><path stroke="#ae7f52" d="M485.3 139.2h0"/><path stroke="#988069" d="M480 35.3h0M492.4 35.3h0M523.3 37.9h0M455.2 45.2h0M510.8 47.8h0M548 47.9h0M479.8 55.2h0M461.2 62.7h0M547.8 62.8h0M461.1 67.6h0M560.1 67.8h0M461.1 72.6h0M380.6 75h0M417.7 75h0M553.9 75.3h0M591 75.3h0M547.6 77.7h0M405.3 80h0M436.2 82.5h0M461 82.6h0M405.2 85h0M553.7 85.2h0M590.9 85.3h0M460.9 87.6h0M559.9 87.7h0M584.7 87.8h0M572.2 92.7h0M491.8 95.1h0M460.8 97.5h0M442.2 100h0M467 100h0M485.5 102.5h0M497.9 102.6h0M504 105.1h0M504 110h0M528.7 110.1h0"/><path stroke="#ab7f55" d="M504.8 35.3h0M517.2 35.4h0M473.8 37.8h0M498.6 37.8h0M386.8 72.5h0M417.7 80h0M578.5 85.3h0M411.4 87.5h0M566 95.2h0M473 112.5h0"/><path stroke="#a87f59" d="M504.8 30.4h0M486.1 42.8h0M479.9 45.3h0M541.8 45.4h0M535.6 47.8h0M578.8 60.4h0M430.2 65.1h0M584.9 67.8h0M393 70h0M399.2 72.5h0M609.6 72.9h0M405.4 75h0M411.5 77.5h0M423.9 77.5h0M609.5 77.8h0M411.5 82.5h0M423.8 82.5h0M417.6 85h0M423.8 87.5h0M429.9 90h0M559.8 92.7h0M429.9 95h0M448.4 97.5h0M559.8 97.7h0M460.7 102.5h0M466.9 105h0M510.1 117.5h0"/><path stroke="#a4805c" d="M486.3 32.8h0M504.7 40.3h0M473.7 47.7h0M455.1 50.2h0M535.5 52.8h0M566.4 60.3h0M405.5 65.1h0M399.2 67.5h0M417.8 70.1h0M603.4 75.3h0M399.1 77.5h0M566.1 90.2h0M436 97.5h0M535 97.6h0M547.4 97.7h0M473.1 102.5h0M479.3 105h0M491.6 105h0M497.8 112.5h0M510.1 112.5h0M491.5 115h0"/><path stroke="#9e8063" d="M498.7 27.9h0M486.2 37.8h0M510.9 42.8h0M449 47.7h0M486.1 47.8h0M517 50.3h0M442.7 55.2h0M554.1 55.3h0M473.6 57.7h0M417.9 60.1h0M411.7 62.6h0M424.1 62.6h0M584.9 62.9h0M455 65.1h0M591.1 65.4h0M411.6 67.6h0M547.7 67.8h0M405.4 70h0M578.7 70.3h0M560 77.8h0M603.3 80.3h0M584.7 82.8h0M572.3 87.7h0M442.3 90h0M528.9 90.2h0M541.3 90.2h0M497.9 97.6h0M454.6 100h0M528.8 100.1h0M535 102.6h0M454.5 105h0M497.8 107.5h0M491.6 110h0M485.4 112.5h0M503.9 115h0"/><path stroke="#90806e" d="M529.5 40.4h0M461.4 42.7h0M523.3 42.8h0M504.7 45.3h0M529.4 45.3h0M523.2 47.8h0M541.8 50.3h0M554.1 50.4h0M436.5 52.7h0M498.4 52.8h0M560.3 52.9h0M492.2 55.2h0M516.9 55.3h0M424.1 57.6h0M442.6 60.1h0M455 60.2h0M516.9 60.3h0M436.4 62.6h0M535.4 67.8h0M442.5 70.1h0M529.2 70.2h0M566.3 70.3h0M560.1 72.8h0M442.5 75.1h0M454.9 75.1h0M578.6 75.3h0M615.7 75.4h0M436.3 77.6h0M578.5 80.3h0M485.7 82.6h0M572.3 82.8h0M430 85h0M516.6 85.2h0M566.1 85.2h0M516.6 90.1h0M578.4 90.2h0M436.1 92.5h0M522.7 92.6h0M442.3 95h0M510.3 97.6h0M528.8 105.1h0M466.8 110h0M479.2 110h0M479.2 115h0"/><path stroke="#a1805f" d="M498.6 32.8h0M467.6 40.3h0M480 40.3h0M492.4 40.3h0M492.3 45.3h0M517.1 45.3h0M498.5 47.8h0M430.3 55.1h0M566.4 55.4h0M430.3 60.1h0M560.2 62.8h0M566.3 65.3h0M572.5 67.8h0M597.2 67.9h0M399.1 82.5h0M448.6 82.6h0M547.5 87.7h0M423.7 92.5h0M485.5 97.6h0M504.1 100.1h0M510.2 102.6h0M510.2 107.6h0M534.9 107.6h0M491.5 120h0M497.6 122.5h0"/><path stroke="#94806c" d="M511 37.8h0M442.8 50.2h0M479.9 50.2h0M461.3 52.7h0M547.9 52.8h0M467.4 55.2h0M461.2 57.7h0M467.4 60.2h0M504.5 60.2h0M529.3 60.3h0M510.7 62.7h0M442.6 65.1h0M554 65.3h0M424 67.6h0M597.2 72.8h0M448.6 77.6h0M461 77.6h0M473.4 77.6h0M572.4 77.8h0M584.8 77.8h0M597.1 77.8h0M392.9 80h0M566.2 80.3h0M442.4 85h0M448.5 87.5h0M479.4 90.1h0M448.5 92.5h0M547.5 92.7h0M454.6 95h0M528.9 95.1h0M553.6 95.2h0M473.2 97.5h0M553.6 100.2h0M448.4 102.5h0M460.7 107.5h0M473.1 107.5h0M485.4 107.5h0M522.6 107.6h0M522.5 112.6h0M497.7 117.5h0"/><path stroke="#9b8066" d="M492.5 30.3h0M511 32.9h0M517.1 40.3h0M467.6 45.2h0M492.2 50.3h0M486 52.7h0M455.1 55.2h0M529.3 55.3h0M436.5 57.6h0M486 57.7h0M572.6 57.9h0M535.4 62.8h0M572.5 62.8h0M417.8 65.1h0M448.7 67.6h0M454.9 70.1h0M603.4 70.4h0M411.6 72.5h0M436.3 72.6h0M547.7 72.8h0M572.4 72.8h0M584.8 72.8h0M393 75h0M430.1 75.1h0M386.8 77.5h0M590.9 80.3h0M597.1 82.8h0M417.6 90h0M473.2 92.6h0M535.1 92.7h0M479.4 95.1h0M504.1 95.1h0M479.3 100h0M522.6 102.6h0M541.1 105.1h0M516.3 110.1h0M485.3 117.5h0"/><path stroke="#8d7f71" d="M473.8 42.8h0M498.5 42.8h0M535.6 42.9h0M461.3 47.7h0M467.5 50.2h0M448.9 52.7h0M473.7 52.7h0M523.2 52.8h0M541.7 55.3h0M448.9 57.7h0M560.2 57.8h0M541.6 60.3h0M554 60.3h0M578.7 65.3h0M436.4 67.6h0M473.5 67.7h0M430.2 70.1h0M591 70.3h0M423.9 72.6h0M566.2 75.3h0M522.9 77.7h0M430 80h0M467.2 80.1h0M491.9 80.1h0M504.3 80.2h0M516.7 80.2h0M473.3 82.6h0M560 82.7h0M436.2 87.5h0M467.1 90.1h0M460.8 92.5h0M498 92.6h0M516.5 95.1h0M541.3 95.2h0M491.7 100.1h0M516.5 100.1h0M541.2 100.1h0M547.4 102.6h0M516.4 105.1h0"/><path stroke="#8a7f74" d="M504.6 50.3h0M529.4 50.3h0M448.8 62.6h0M467.3 65.2h0M485.9 67.7h0M479.7 70.2h0M553.9 70.3h0M485.8 72.7h0M522.9 72.7h0M442.4 80.1h0M553.8 80.2h0M522.8 82.7h0M454.7 85.1h0M467.1 85.1h0M510.4 87.6h0M504.2 90.1h0M553.7 90.2h0M467 95h0M522.7 97.6h0"/><path stroke="#867f77" d="M510.8 52.8h0M498.4 57.7h0M523.1 57.8h0M535.5 57.8h0M547.9 57.8h0M523 62.8h0M504.5 65.2h0M516.8 65.2h0M529.2 65.3h0M541.6 65.3h0M498.2 67.7h0M523 67.7h0M467.3 70.1h0M541.5 70.3h0M448.7 72.6h0M498.2 72.7h0M516.7 75.2h0M541.5 75.2h0M510.5 77.7h0M535.3 77.7h0M541.4 80.2h0M510.5 82.7h0M529 85.2h0M541.4 85.2h0M485.7 87.6h0M535.1 87.7h0M454.7 90h0M491.8 90.1h0"/><path stroke="#837e79" d="M510.7 57.8h0M479.8 60.2h0M473.6 62.7h0M485.9 62.7h0M516.8 70.2h0M485.8 77.6h0M547.6 82.7h0M473.3 87.6h0M522.8 87.7h0M510.3 92.6h0"/><path stroke="#817e7b" d="M504.6 55.3h0M492.1 60.2h0M498.3 62.7h0M479.7 65.2h0M492.1 65.2h0M492 70.2h0M467.2 75.1h0M479.6 75.1h0M529.1 75.2h0M498.1 77.7h0M454.8 80.1h0M479.5 80.1h0M498.1 82.6h0M479.5 85.1h0M504.2 85.1h0M485.6 92.6h0"/><path stroke="#7e7d7e" d="M510.6 67.7h0M473.4 72.6h0M529 80.2h0M535.2 82.7h0M491.9 85.1h0M498 87.6h0"/><path stroke="#767b84" d="M492 75.2h0"/><path stroke="#797c82" d="M504.4 70.2h0M510.6 72.7h0M504.4 75.2h0"/><path stroke="#7b7c80" d="M535.3 72.7h0"/><path stroke="#ae7f52" d="M516.3 115h0M503.9 120h0"/><path stroke="#867f77" d="M197.8 492h0M142 504.4h0M154.4 504.4h0M203.9 504.5h0M160.5 506.9h0M154.3 509.4h0M203.8 509.5h0M240.9 509.5h0M61.5 511.8h0M148.1 511.9h0M92.4 514.3h0M110.9 516.8h0M197.5 516.9h0M36.6 521.7h0M271.7 522h0M55.1 524.2h0M79.9 524.2h0M253.1 524.5h0M110.8 526.8h0M135.5 526.8h0M209.7 531.9h0M129.3 534.3h0M197.3 536.9h0M79.7 539.2h0M191.1 539.3h0M203.5 539.4h0M110.6 541.7h0M147.8 541.8h0M141.4 554.2h0"/><path stroke="#767b84" d="M142.2 484.5h0M117.4 489.4h0M123.6 491.9h0M154.5 494.5h0M123.5 496.9h0M129.7 499.4h0M179.2 499.5h0M135.8 501.9h0M92.5 504.3h0M73.8 516.8h0M172.8 516.9h0M42.8 519.2h0M129.4 519.3h0M73.7 521.7h0M259.4 522h0M253.1 529.5h0M222.1 531.9h0M104.5 534.2h0M110.7 536.7h0M154 539.3h0M166.3 539.3h0M178.7 539.3h0M178.7 544.3h0M160.1 546.8h0M153.8 554.2h0M147.5 561.7h0"/><path stroke="#817e7b" d="M179.3 489.5h0M148.3 492h0M117.3 499.4h0M203.9 499.5h0M129.6 504.4h0M234.8 507h0M154.2 514.4h0M203.7 514.5h0M49 516.7h0M166.5 524.4h0M178.9 524.4h0M79.8 529.2h0M129.3 529.3h0M79.8 534.2h0M92.2 534.2h0M172.6 536.8h0M228.2 539.4h0M98.3 541.7h0M104.4 544.2h0M172.4 546.8h0M209.6 546.8h0M122.9 551.7h0M147.5 566.7h0"/><path stroke="#837e79" d="M148.4 482h0M160.7 487h0M111.1 496.9h0M154.4 499.4h0M104.9 504.3h0M80.1 509.3h0M191.4 509.5h0M197.6 512h0M55.2 514.2h0M203.7 519.4h0M86.1 521.8h0M104.6 524.3h0M61.3 526.7h0M197.4 526.9h0M55.1 529.2h0M67.5 529.2h0M73.6 531.7h0M123 541.7h0M178.6 549.3h0M191 549.3h0M166.2 554.2h0M159.9 561.7h0"/><path stroke="#90806e" d="M111.2 491.9h0M142.1 494.4h0M191.6 494.5h0M210.1 497h0M67.7 509.3h0M98.6 511.8h0M253.2 514.5h0M148 516.9h0M79.9 519.2h0M240.8 519.5h0M265.6 519.5h0M98.5 521.8h0M240.8 524.5h0M166.5 529.3h0M203.6 529.4h0M178.8 534.3h0M215.8 539.4h0M184.9 541.8h0M92 544.2h0M116.8 544.2h0M166.3 544.3h0M110.6 546.7h0M135.3 546.7h0M184.8 551.8h0"/><path stroke="#a1805f" d="M154.7 474.5h0M160.8 482h0M166.9 484.5h0M123.6 486.9h0M173 497h0M123.4 501.9h0M185.3 502h0M73.9 506.8h0M98.6 506.8h0M185.3 507h0M141.9 509.4h0M179 509.4h0M86.2 511.8h0M117.1 514.3h0M247 517h0M117.1 519.3h0M148 521.8h0M234.6 522h0M191.3 524.4h0M48.9 526.7h0M123.2 526.8h0M141.7 529.3h0M154.1 529.3h0M216 529.4h0M98.4 531.7h0M197.4 531.9h0M228.3 534.4h0M123.1 536.8h0M141.6 539.3h0M85.9 541.7h0M160.1 541.8h0M172.5 541.8h0M197.3 541.8h0M153.9 544.3h0M110.5 551.7h0M190.9 554.3h0M160 556.7h0M178.5 559.2h0"/><path stroke="#9b8066" d="M154.6 484.5h0M129.8 489.4h0M86.3 501.8h0M160.6 501.9h0M80.1 504.3h0M228.6 504.5h0M86.3 506.8h0M210 507h0M129.6 509.4h0M216.2 509.5h0M228.6 509.5h0M135.7 511.9h0M166.6 514.4h0M191.4 514.4h0M240.9 514.5h0M92.3 519.3h0M135.6 521.8h0M197.5 521.9h0M209.8 521.9h0M117 524.3h0M265.5 524.5h0M98.4 526.8h0M240.7 529.5h0M61.2 531.7h0M160.2 531.8h0M185 531.9h0M154 534.3h0M98.3 536.7h0M160.2 536.8h0M129.2 544.2h0M147.7 546.8h0M104.4 549.2h0M116.7 549.2h0M166.1 564.2h0"/><path stroke="#7b7c80" d="M191.6 489.5h0M160.6 497h0M92.5 499.3h0M166.8 499.5h0M191.5 499.5h0M166.7 504.4h0M111 506.8h0M172.9 506.9h0M135.7 516.8h0M259.4 517h0M141.8 519.3h0M216.1 519.5h0M123.2 521.8h0M240.7 534.4h0M116.8 539.2h0M209.6 541.9h0M141.5 549.2h0M166.2 549.3h0M135.3 551.7h0M135.2 556.7h0"/><path stroke="#7e7d7e" d="M148.5 477h0M142.3 479.5h0M179.3 484.5h0M204 494.5h0M98.8 496.9h0M197.8 497h0M104.9 499.4h0M216.3 499.5h0M123.4 506.9h0M222.4 507h0M160.5 511.9h0M185.2 511.9h0M67.6 514.2h0M98.5 516.8h0M234.7 517h0M185.1 521.9h0M203.6 524.4h0M135.4 541.8h0M123 546.7h0M184.7 556.8h0M153.6 569.2h0"/><path stroke="#94806c" d="M166.9 489.5h0M135.9 491.9h0M160.7 492h0M105 494.4h0M92.4 509.3h0M111 511.8h0M123.3 511.8h0M210 512h0M61.4 516.7h0M222.3 517h0M55.2 519.2h0M154.2 519.4h0M222.2 522h0M42.8 524.2h0M67.5 524.2h0M154.1 524.3h0M216 524.4h0M209.8 526.9h0M222.2 526.9h0M135.5 531.8h0M191.2 534.4h0M184.9 536.8h0M141.5 544.2h0M215.8 544.4h0M197.2 546.8h0M129.1 549.2h0M153.9 549.2h0M147.6 551.7h0M178.6 554.3h0"/><path stroke="#988069" d="M167 479.5h0M136 482h0M129.8 484.5h0M129.7 494.4h0M179.2 494.5h0M148.2 496.9h0M148.2 501.9h0M197.6 507h0M166.7 509.4h0M247.1 512h0M129.5 514.3h0M216.1 514.5h0M209.9 517h0M67.6 519.2h0M178.9 519.4h0M160.3 521.9h0M147.9 526.8h0M123.1 531.8h0M246.9 532h0M203.5 534.4h0M209.7 536.9h0M222 541.9h0M172.3 556.8h0M141.4 559.2h0M135.2 561.7h0M159.9 566.7h0"/><path stroke="#8a7f74" d="M154.6 479.5h0M173.2 482h0M185.5 487h0M142.1 489.5h0M135.9 496.9h0M142 499.4h0M172.9 502h0M222.4 502h0M117.2 504.4h0M216.2 504.5h0M148.1 506.9h0M123.3 516.8h0M185.2 516.9h0M49 521.7h0M92.3 524.2h0M228.4 524.5h0M104.6 529.2h0M191.2 529.4h0M228.3 529.4h0M116.9 534.2h0M166.4 534.3h0M73.6 536.7h0M85.9 536.7h0M147.8 536.8h0M92.1 539.2h0M129.2 539.2h0M184.8 546.8h0M172.4 551.8h0M197.1 551.8h0M147.6 556.7h0M166.1 559.2h0"/><path stroke="#8d7f71" d="M160.8 477h0M148.4 487h0M173.1 487h0M154.5 489.5h0M173.1 492h0M117.3 494.4h0M111.1 501.9h0M197.7 502h0M191.5 504.5h0M73.8 511.8h0M80 514.3h0M179 514.4h0M228.5 514.5h0M166.6 519.4h0M73.7 526.7h0M160.3 526.8h0M172.7 526.9h0M246.9 527h0M92.2 529.2h0M178.8 529.4h0M86 531.7h0M222.1 536.9h0M234.4 536.9h0M104.5 539.2h0M203.4 544.3h0M98.2 546.7h0M203.4 549.3h0M116.7 554.2h0M153.8 559.2h0"/><path stroke="#9e8063" d="M166.8 494.5h0M98.7 501.8h0M210.1 502h0M179.1 504.5h0M172.8 511.9h0M104.7 514.3h0M86.2 516.8h0M104.7 519.3h0M191.3 519.4h0M61.4 521.7h0M110.8 521.8h0M172.7 521.9h0M247 522h0M129.4 524.3h0M141.8 524.3h0M86 526.7h0M110.7 531.8h0M147.9 531.8h0M160 551.8h0M129.1 554.2h0M122.8 556.7h0M129 559.2h0"/><path stroke="#797c82" d="M136 487h0M185.4 492h0M185.4 497h0M135.8 506.9h0M104.8 509.3h0M117.2 509.3h0M234.7 512h0M141.9 514.4h0M228.4 519.5h0M253.2 519.5h0M185 526.9h0M234.5 527h0M259.3 527h0M117 529.3h0M172.6 531.8h0M234.5 531.9h0M67.4 534.2h0M141.7 534.3h0M215.9 534.4h0M135.4 536.8h0M191 544.3h0M172.3 561.7h0M141.3 564.2h0M153.7 564.2h0"/><path stroke="#a4805c" d="M222.3 512h0M160.4 516.9h0"/><path stroke="#677a93" d="M179.3 462.9h0M166.9 467.9h0M191.6 467.9h0M135.9 470.3h0M185.3 480.4h0M86.3 485.2h0M98.6 490.2h0M135.7 490.2h0M154.2 492.8h0M222.3 495.4h0M92.3 497.6h0M36.6 500h0M49 500.1h0M61.4 500.1h0M67.5 502.6h0M61.3 505.1h0M92.2 507.6h0M191.2 507.8h0M98.4 510.1h0M135.5 510.2h0M147.9 510.2h0M73.6 515h0M110.7 515.1h0M184.9 515.2h0M222.1 515.3h0M203.4 522.7h0M122.8 535h0M159.9 545.1h0"/><path stroke="#90806e" d="M197.8 470.4h0M154.5 472.8h0M179.2 472.9h0M123.5 475.3h0M228.6 482.9h0M148.1 485.3h0M80.1 487.7h0M216.2 487.9h0M185.2 490.3h0M166.6 492.8h0M179 492.8h0M42.8 497.6h0M55.2 497.6h0M67.6 497.6h0M247 500.4h0M42.8 502.5h0M129.4 502.7h0M160.3 505.2h0M79.8 507.6h0M104.6 507.6h0M129.3 507.7h0M73.6 510.1h0M166.4 512.7h0M228.3 512.8h0M215.8 517.8h0M123 520.1h0M104.4 527.5h0M166.2 527.6h0M116.7 532.5h0M153.8 532.6h0"/><path stroke="#837e79" d="M160.8 455.4h0M160.8 460.4h0M148.4 465.4h0M179.3 467.9h0M117.3 472.8h0M117.3 477.8h0M154.4 477.8h0M197.6 485.4h0M80 492.6h0M104.7 492.7h0M49 495.1h0M98.5 495.2h0M148 495.2h0M259.4 495.4h0M154.2 497.7h0M166.6 497.8h0M191.3 497.8h0M110.8 500.2h0M55.1 502.6h0M79.9 502.6h0M240.7 507.8h0M61.2 510h0M191.2 512.7h0M166.3 517.7h0M110.6 520.1h0M222 520.3h0M147.7 525.1h0M110.5 530h0M129 537.5h0M153.8 537.6h0"/><path stroke="#867f77" d="M154.6 457.9h0M166.9 462.9h0M173.1 470.4h0M203.9 477.9h0M148.2 480.3h0M179.1 482.8h0M73.9 485.2h0M210 485.4h0M111 490.2h0M55.2 492.6h0M172.8 495.3h0M185.1 500.3h0M197.5 500.3h0M141.8 502.7h0M166.5 502.7h0M253.1 507.9h0M79.8 512.6h0M116.9 512.6h0M85.9 520h0M147.8 520.1h0M123 525.1h0M172.4 525.2h0M166.2 532.6h0M184.7 535.1h0M141.4 537.6h0"/><path stroke="#817e7b" d="M117.4 467.8h0M210.1 475.4h0M142 482.8h0M104.8 487.7h0M179 487.8h0M191.4 487.8h0M61.5 490.1h0M123.3 490.2h0M92.4 492.7h0M135.7 495.2h0M160.4 495.3h0M104.7 497.7h0M148 500.2h0M172.7 500.3h0M86 505.1h0M123.2 505.2h0M185 505.3h0M172.6 510.2h0M185 510.2h0M246.9 510.3h0M203.5 512.8h0M98.3 515.1h0M147.8 515.2h0M178.7 517.7h0M228.2 517.8h0M166.3 522.7h0M110.6 525.1h0M172.3 535.1h0M159.9 540.1h0"/><path stroke="#8a7f74" d="M136 465.3h0M129.7 472.8h0M142.1 472.8h0M160.6 480.3h0M222.4 480.4h0M67.7 487.6h0M92.4 487.7h0M172.8 490.3h0M216.1 492.9h0M79.9 497.6h0M253.2 497.9h0M160.3 500.2h0M191.3 502.8h0M216 502.8h0M209.8 505.3h0M222.2 505.3h0M234.5 505.3h0M141.7 512.7h0M79.7 517.5h0M197.2 525.2h0M203.4 527.7h0M178.6 532.6h0M160 535.1h0M147.5 540.1h0M147.5 545h0"/><path stroke="#7e7d7e" d="M160.7 465.4h0M142.1 467.8h0M185.4 470.4h0M105 472.8h0M191.6 472.9h0M111.1 475.3h0M172.9 480.3h0M80.1 482.7h0M172.9 485.3h0M129.6 487.7h0M240.9 487.9h0M141.9 492.7h0M240.9 492.9h0M73.8 495.1h0M178.9 497.8h0M216.1 497.8h0M209.8 500.3h0M92.3 502.6h0M240.8 502.9h0M110.8 505.1h0M154.1 507.7h0M110.7 510.1h0M67.4 512.5h0M85.9 515.1h0M135.4 520.1h0M116.7 527.6h0M135.2 540h0M153.6 547.5h0"/><path stroke="#767b84" d="M142.3 457.9h0M173.1 465.4h0M191.5 477.9h0M86.3 480.2h0M210.1 480.4h0M129.6 482.8h0M191.5 482.9h0M216.2 482.9h0M123.4 485.2h0M185.3 485.3h0M141.9 487.8h0M129.5 492.7h0M191.4 492.8h0M203.7 492.8h0M234.7 495.4h0M104.6 502.6h0M178.8 507.7h0M92.2 512.6h0M141.6 517.6h0M191 527.7h0M184.8 530.2h0M147.6 535.1h0"/><path stroke="#6c7a8e" d="M136 460.4h0M154.6 462.9h0M154.5 467.9h0M148.3 470.3h0M197.8 475.4h0M92.5 477.7h0M166.8 477.8h0M111.1 480.2h0M222.4 485.4h0M86.2 490.2h0M222.3 490.4h0M86.2 495.1h0M141.8 497.7h0M203.7 497.8h0M135.6 500.2h0M265.5 502.9h0M197.4 505.3h0M216 507.8h0M234.5 510.3h0M135.4 515.1h0M191.1 517.7h0M203.5 517.7h0M92 522.5h0M153.9 522.6h0M135.3 530.1h0M147.6 530.1h0"/><path stroke="#8d7f71" d="M154.7 452.9h0M167 457.9h0M98.8 475.2h0M185.4 475.4h0M129.7 477.8h0M142 477.8h0M104.9 482.7h0M166.7 482.8h0M98.6 485.2h0M111 485.2h0M247.1 490.4h0M98.5 500.1h0M123.2 500.2h0M203.6 502.8h0M55.1 507.5h0M141.7 507.7h0M154 512.7h0M123.1 515.1h0M172.6 515.2h0M209.7 515.3h0M92.1 517.6h0M141.5 522.6h0M209.6 525.2h0M129.1 527.6h0M178.5 537.6h0M172.3 540.1h0M141.3 542.5h0"/><path stroke="#717b89" d="M173.2 460.4h0M111.2 470.3h0M166.8 472.9h0M135.9 475.3h0M104.9 477.7h0M92.5 482.7h0M154.4 482.8h0M160.5 485.3h0M117.2 487.7h0M154.3 487.8h0M203.8 487.9h0M228.6 487.9h0M185.2 495.3h0M73.7 505.1h0M228.3 507.8h0M104.5 512.6h0M215.9 512.8h0M234.4 515.3h0M160.1 520.2h0M184.9 520.2h0M215.8 522.7h0M160 530.1h0M197.1 530.2h0M166.1 537.6h0"/><path stroke="#797c82" d="M123.6 465.3h0M123.6 470.3h0M179.2 477.9h0M216.3 477.9h0M135.8 480.3h0M61.4 495.1h0M110.9 495.2h0M209.9 495.3h0M86.1 500.1h0M117 502.7h0M178.9 502.8h0M253.1 502.9h0M98.4 505.1h0M172.7 505.2h0M246.9 505.4h0M259.3 505.4h0M117 507.6h0M203.6 507.8h0M197.4 510.3h0M209.7 510.3h0M160.2 515.2h0M197.3 515.2h0M98.3 520.1h0M160.1 525.1h0M153.9 527.6h0M129.1 532.6h0"/><path stroke="#94806c" d="M148.5 455.4h0M148.4 460.4h0M129.8 462.8h0M142.2 462.9h0M148.2 475.3h0M160.6 475.3h0M173 475.4h0M123.4 480.3h0M73.8 490.1h0M197.6 490.3h0M210 490.4h0M253.2 492.9h0M247 495.4h0M117.1 497.7h0M222.2 500.3h0M259.4 500.4h0M271.7 500.4h0M48.9 505h0M67.5 507.6h0M166.5 507.7h0M240.7 512.8h0M104.5 517.6h0M116.8 517.6h0M172.5 520.2h0M116.8 522.6h0M122.9 530.1h0M172.4 530.1h0M141.4 532.6h0"/><path stroke="#7b7c80" d="M185.5 465.4h0M129.8 467.8h0M204 472.9h0M98.7 480.2h0M203.9 482.9h0M166.7 487.8h0M160.5 490.3h0M234.7 490.4h0M67.6 492.6h0M117.1 492.7h0M129.4 497.7h0M228.4 497.9h0M240.8 497.9h0M73.7 500.1h0M147.9 505.2h0M86 510.1h0M160.2 510.2h0M222.1 510.3h0M129.3 512.6h0M129.2 517.6h0M197.3 520.2h0M209.6 520.2h0M104.4 522.6h0M141.5 527.6h0M178.6 527.7h0M190.9 532.7h0M166.1 542.6h0"/><path stroke="#627a98" d="M117.2 482.7h0M135.8 485.3h0M228.5 492.9h0M265.6 497.9h0M228.4 502.8h0M135.5 505.2h0M123.1 510.1h0M98.2 525h0M184.8 525.2h0"/><path stroke="#988069" d="M160.7 470.4h0M197.7 480.4h0M234.8 485.4h0M148.1 490.3h0M123.3 495.2h0M197.5 495.3h0M234.6 500.4h0M154.1 502.7h0M178.8 512.7h0M154 517.7h0M129.2 522.6h0M178.7 522.7h0M191 522.7h0M135.3 525.1h0M135.2 535.1h0M153.7 542.6h0"/><path stroke="#717b89" d="M142.2 441.2h0M129.8 446.2h0M154.5 446.2h0M166.9 446.2h0M111.2 448.6h0M129.7 451.2h0M166.8 451.2h0M142 456.2h0M197.6 463.7h0M154.3 466.1h0M117.1 471.1h0M259.4 473.8h0M92.3 476h0M36.6 478.4h0M61.4 478.4h0M234.6 478.7h0M73.7 483.4h0M222.2 483.7h0M216 486.2h0M228.3 486.2h0M154 491h0M191.2 491.1h0M222.1 493.6h0M215.8 496.1h0M184.9 498.6h0M153.9 506h0M116.7 510.9h0"/><path stroke="#797c82" d="M148.5 433.8h0M135.9 448.7h0M98.8 453.6h0M203.9 461.2h0M111 468.6h0M80 471h0M42.8 475.9h0M166.5 481.1h0M135.5 483.5h0M234.5 483.7h0M67.5 485.9h0M86 488.4h0M203.5 496.1h0M98.3 498.4h0M172.5 498.5h0M209.6 498.6h0M153.9 501h0M147.7 503.5h0M160.1 503.5h0M184.8 503.5h0M104.4 505.9h0M110.5 508.4h0M172.4 508.5h0M184.8 508.5h0M141.4 510.9h0M166.2 511h0M172.3 518.5h0"/><path stroke="#767b84" d="M136 443.7h0M123.5 453.6h0M166.8 456.2h0M191.5 456.2h0M142 461.1h0M154.4 461.2h0M135.8 463.6h0M80.1 466h0M228.6 466.3h0M222.3 468.8h0M49 473.4h0M222.3 473.7h0M234.7 473.8h0M79.9 476h0M49 478.4h0M246.9 483.7h0M166.5 486.1h0M79.8 490.9h0M141.6 496h0M85.9 498.4h0M123 498.5h0M147.8 498.5h0M123 503.4h0M209.6 503.6h0M184.7 513.5h0M153.6 525.9h0"/><path stroke="#837e79" d="M173.1 448.8h0M179.2 456.2h0M86.3 458.6h0M111.1 458.6h0M185.3 463.7h0M172.8 468.7h0M234.7 468.8h0M55.2 471h0M104.7 471h0M179 471.2h0M228.5 471.2h0M253.2 471.3h0M86.2 473.5h0M160.4 473.6h0M55.2 475.9h0M166.6 476.1h0M55.1 480.9h0M92.3 481h0M104.6 486h0M154.1 486.1h0M203.6 486.1h0M135.5 488.5h0M160.2 488.6h0M209.7 488.6h0M222.1 488.7h0M104.5 491h0M79.7 495.9h0M166.3 501h0M129.1 505.9h0M122.8 513.4h0M172.3 513.5h0M166.1 516h0M166.1 520.9h0M159.9 523.4h0"/><path stroke="#6c7a8e" d="M154.6 441.2h0M179.3 441.3h0M105 451.1h0M204 451.3h0M117.3 456.1h0M129.7 456.1h0M216.3 456.3h0M148.1 463.6h0M117.2 466.1h0M61.5 468.5h0M210 468.7h0M247.1 468.8h0M185.2 473.7h0M197.5 473.7h0M67.6 476h0M42.8 480.9h0M191.3 481.1h0M172.7 483.6h0M259.3 483.8h0M129.3 486h0M98.4 488.5h0M246.9 488.7h0M123.1 493.5h0M222 498.6h0M215.8 501.1h0M129.1 510.9h0M135.2 518.4h0"/><path stroke="#7e7d7e" d="M154.6 436.3h0M173.1 443.8h0M197.8 448.8h0M148.2 453.7h0M67.7 466h0M141.9 466.1h0M240.9 466.3h0M73.8 473.5h0M135.7 473.6h0M141.8 476.1h0M123.1 488.5h0M129.3 491h0M178.8 491.1h0M85.9 493.4h0M172.6 493.6h0M116.8 496h0M160.1 498.5h0M203.4 501.1h0M98.2 503.4h0M197.2 503.6h0"/><path stroke="#867f77" d="M142.3 436.2h0M136 438.7h0M160.8 438.8h0M179.3 446.3h0M148.3 448.7h0M160.6 453.7h0M154.4 456.2h0M203.9 456.3h0M172.9 458.7h0M197.7 458.8h0M117.2 461.1h0M73.9 463.5h0M123.4 463.6h0M203.7 471.2h0M98.5 473.5h0M253.2 476.3h0M110.8 478.5h0M148 478.6h0M259.4 478.8h0M117 481h0M123.2 483.5h0M147.9 483.6h0M185 483.6h0M117 486h0M141.7 486h0M73.6 488.4h0M92.2 490.9h0M215.9 491.1h0M110.7 493.5h0M104.5 495.9h0M154 496h0M141.5 501h0M178.6 506h0M153.8 511h0M159.9 518.4h0"/><path stroke="#5879a2" d="M154.7 431.3h0M142.1 446.2h0M191.6 451.3h0M111.1 453.6h0M210.1 453.8h0M104.9 456.1h0M210.1 458.8h0M80.1 461h0M129.6 466.1h0M216.2 466.2h0M86.2 468.5h0M98.6 468.5h0M197.6 468.7h0M110.9 473.5h0M172.8 473.6h0M247 473.8h0M191.3 476.2h0M228.4 476.2h0M172.7 478.6h0M147.9 488.5h0M116.9 491h0M73.6 493.4h0M129.2 496h0M135.4 498.5h0M197.3 498.6h0M116.8 500.9h0M135.3 503.5h0M147.6 508.5h0M190.9 511h0"/><path stroke="#817e7b" d="M129.8 441.2h0M166.9 441.3h0M123.6 443.7h0M185.4 448.8h0M92.5 456.1h0M222.4 458.8h0M92.5 461.1h0M129.6 461.1h0M166.7 461.2h0M179.1 461.2h0M191.5 461.2h0M216.2 461.3h0M135.7 468.6h0M216.1 476.2h0M123.2 478.5h0M197.5 478.7h0M67.5 480.9h0M265.5 481.3h0M160.3 483.6h0M209.8 483.7h0M253.1 486.2h0M110.7 488.5h0M228.3 491.2h0M135.4 493.5h0M160.2 493.5h0M110.6 503.4h0M178.5 516h0M141.3 520.9h0"/><path stroke="#537aa8" d="M173.2 438.8h0M117.4 446.2h0M228.6 461.3h0M86.3 463.5h0M98.6 463.6h0M73.8 468.5h0M67.6 471h0M104.7 476h0M73.7 478.5h0M209.8 478.7h0M104.6 481h0M141.8 481.1h0M197.4 483.6h0M240.7 491.2h0M191 506h0M153.8 515.9h0"/><path stroke="#5d799d" d="M160.8 433.8h0M148.4 443.7h0M185.5 443.8h0M123.6 448.7h0M160.7 448.7h0M142.1 451.2h0M179.2 451.2h0M185.4 453.8h0M197.8 453.8h0M148.2 458.7h0M104.9 461.1h0M166.7 466.2h0M160.5 468.6h0M154.2 471.1h0M166.6 471.1h0M61.4 473.5h0M123.3 473.6h0M203.7 476.2h0M185.1 478.6h0M178.9 481.1h0M228.4 481.2h0M178.8 486.1h0M191.2 486.1h0M172.6 488.6h0M209.7 493.6h0M191 501.1h0M160 508.5h0M178.6 511h0M147.6 513.4h0M153.7 520.9h0"/><path stroke="#677a93" d="M191.6 446.3h0M117.3 451.1h0M173 453.7h0M98.7 458.6h0M210 463.8h0M222.4 463.8h0M191.4 466.2h0M129.5 471.1h0M191.4 471.2h0M98.5 478.5h0M222.2 478.7h0M247 478.8h0M271.7 478.8h0M79.9 481h0M61.3 483.4h0M98.4 483.5h0M55.1 485.9h0M92.2 486h0M240.7 486.2h0M234.5 488.7h0M141.7 491h0M166.4 491.1h0M147.8 493.5h0M184.9 493.6h0M92.1 495.9h0M110.6 498.4h0M178.7 501h0M166.2 506h0"/><path stroke="#8a7f74" d="M148.4 438.8h0M160.7 443.8h0M154.5 451.2h0M135.9 453.7h0M160.6 458.7h0M123.3 468.6h0M141.9 471.1h0M148 473.6h0M178.9 476.1h0M265.6 476.3h0M160.3 478.6h0M154.1 481.1h0M240.8 481.2h0M48.9 483.4h0M86 483.5h0M110.8 483.5h0M79.8 485.9h0M203.5 491.1h0M98.3 493.4h0M166.3 496h0M178.7 496.1h0M116.7 505.9h0M129 515.9h0M147.5 518.4h0"/><path stroke="#7b7c80" d="M167 436.3h0M111 463.6h0M160.5 463.7h0M172.9 463.7h0M234.8 463.8h0M92.4 466h0M203.8 466.2h0M185.2 468.7h0M92.4 471h0M216.1 471.2h0M209.9 473.7h0M154.2 476.1h0M240.8 476.2h0M197.4 488.6h0M197.3 493.6h0M234.4 493.7h0M92 500.9h0M129.2 501h0M203.4 506.1h0M135.3 508.4h0M141.4 515.9h0"/><path stroke="#627a98" d="M135.8 458.6h0M104.8 466.1h0M179 466.2h0M148.1 468.6h0M240.9 471.3h0M129.4 481h0M216 481.2h0M253.1 481.2h0M185 488.6h0M67.4 490.9h0M172.4 503.5h0M141.5 506h0M160 513.5h0"/><path stroke="#8d7f71" d="M123.4 458.6h0M185.3 458.7h0M117.1 476h0M129.4 476.1h0M86.1 478.5h0M135.6 478.6h0M203.6 481.2h0M61.2 488.4h0M191.1 496.1h0M228.2 496.1h0M104.4 500.9h0M122.9 508.4h0M197.1 508.5h0M135.2 513.4h0M147.5 523.4h0"/><path stroke="#5879a2" d="M142.3 414.6h0M154.5 424.6h0M129.7 429.5h0M98.8 432h0M197.8 432.1h0M135.8 437h0M80.1 439.4h0M191.5 439.6h0M80.1 444.4h0M123.3 447h0M129.5 449.5h0M98.5 451.9h0M234.7 452.1h0M36.6 456.8h0M42.8 459.3h0M166.5 459.5h0M178.9 459.5h0M98.4 461.9h0M123 476.8h0M147.8 476.9h0M184.9 476.9h0M141.5 479.4h0M135.3 486.8h0M159.9 496.8h0"/><path stroke="#6c7a8e" d="M136 417.1h0M123.6 427h0M197.8 427.2h0M160.6 432.1h0M191.5 434.6h0M216.3 434.7h0M148.2 437h0M117.2 439.5h0M73.9 441.9h0M92.4 444.4h0M228.6 444.6h0M179 449.5h0M135.7 452h0M42.8 454.3h0M203.7 454.6h0M216 459.6h0M141.7 464.4h0M228.3 464.6h0M135.5 466.9h0M197.4 467h0M191.2 469.5h0M166.3 474.4h0M191.1 474.5h0M85.9 476.8h0M160.1 476.9h0M203.4 479.5h0M197.1 486.9h0M172.3 491.9h0M178.5 494.4h0M153.7 499.3h0"/><path stroke="#4e7baf" d="M167 414.7h0M173.2 417.2h0M179.3 419.7h0M135.9 427.1h0M185.4 427.1h0M197.6 442.1h0M148.1 447h0M49 451.8h0M148 457h0M259.4 457.1h0M271.7 457.2h0M92.3 459.4h0M147.9 461.9h0M185 462h0M79.8 469.3h0M154 469.4h0M215.8 474.5h0M104.4 479.3h0M129 494.3h0M153.8 494.3h0"/><path stroke="#537aa8" d="M148.4 417.1h0M173.1 422.1h0M117.3 429.5h0M166.8 429.6h0M98.7 437h0M98.6 441.9h0M191.4 444.6h0M98.6 446.9h0M55.2 449.3h0M191.4 449.6h0M172.8 452h0M67.6 454.3h0M92.3 454.4h0M104.7 454.4h0M141.8 454.5h0M154.2 454.5h0M209.8 457.1h0M79.9 459.3h0M166.5 464.5h0M86 466.8h0M123.1 466.9h0M92.2 469.3h0M160.2 471.9h0M184.9 472h0M197.3 472h0M234.4 472h0M104.5 474.3h0M178.7 474.4h0M98.2 481.8h0M135.3 481.8h0M178.6 484.4h0M166.1 494.3h0"/><path stroke="#717b89" d="M148.5 412.1h0M129.8 419.6h0M166.9 424.6h0M142.1 429.6h0M154.5 429.6h0M166.8 434.6h0M222.4 437.2h0M154.4 439.5h0M203.8 444.6h0M61.5 446.9h0M86.2 451.9h0M79.9 454.4h0M253.2 454.6h0M86.1 456.9h0M197.5 457h0M98.4 466.8h0M141.7 469.4h0M178.7 479.4h0M160.1 481.9h0M203.4 484.4h0M147.6 491.8h0M135.2 496.8h0"/><path stroke="#817e7b" d="M148.4 422.1h0M129.8 424.6h0M179.3 424.6h0M179.2 429.6h0M203.9 434.6h0M86.3 436.9h0M172.9 442.1h0M67.7 444.4h0M129.6 444.5h0M179 444.6h0M86.2 446.9h0M80 449.4h0M104.7 449.4h0M253.2 449.7h0M61.4 451.8h0M148 452h0M73.7 456.8h0M234.6 457.1h0M55.1 459.3h0M129.4 459.4h0M203.6 459.5h0M253.1 459.6h0M110.8 461.9h0M129.3 464.4h0M154.1 464.4h0M172.6 467h0M98.3 471.8h0M141.6 474.4h0M147.7 481.9h0M172.4 481.9h0M104.4 484.3h0M129.1 484.3h0M153.9 484.4h0M129.1 489.3h0M141.4 489.3h0M184.7 491.9h0M141.3 499.3h0"/><path stroke="#767b84" d="M160.7 427.1h0M191.6 429.6h0M204 429.7h0M92.5 434.5h0M142 434.5h0M179.2 434.6h0M160.5 442h0M111 446.9h0M67.6 449.4h0M110.9 451.9h0M185.2 452h0M197.5 452.1h0M247 452.1h0M166.6 454.5h0M265.6 454.7h0M86 461.8h0M209.7 467h0M129.3 469.4h0M73.6 471.8h0M166.3 479.4h0M123 481.8h0M116.7 484.3h0M110.5 486.8h0M122.8 491.8h0M166.1 499.3h0M159.9 501.8h0"/><path stroke="#7b7c80" d="M154.6 414.6h0M160.7 422.1h0M173.1 427.1h0M105 429.5h0M111.1 432h0M135.9 432h0M117.3 434.5h0M185.3 437.1h0M179.1 439.6h0M148.1 442h0M234.8 442.2h0M160.4 452h0M117.1 454.4h0M129.4 454.4h0M135.6 456.9h0M228.4 459.6h0M265.5 459.6h0M73.7 461.8h0M246.9 462.1h0M191.2 464.5h0M203.6 464.5h0M216 464.5h0M185 467h0M79.7 474.3h0M222 477h0M191 479.4h0M135.2 491.8h0M172.3 496.8h0"/><path stroke="#447cbb" d="M185.5 422.2h0M117.4 424.5h0M111.2 427h0M210.1 432.2h0M160.6 437.1h0M197.7 437.1h0M123.4 442h0M117.2 444.5h0M172.8 447h0M259.4 452.2h0M55.2 454.3h0M216.1 454.6h0M185.1 457h0M61.3 461.8h0M253.1 464.6h0M166.4 469.4h0M203.5 469.5h0M228.3 469.5h0M85.9 471.8h0M135.4 471.9h0M222.1 472h0M154 474.4h0M203.5 474.5h0M197.2 481.9h0M191 484.4h0M153.8 489.3h0M160 491.8h0"/><path stroke="#677a93" d="M123.6 422.1h0M210.1 437.1h0M210 442.1h0M222.4 442.1h0M154.3 444.5h0M216.2 444.6h0M210 447.1h0M117.1 449.4h0M203.7 449.6h0M117 464.4h0M178.8 469.5h0M215.9 469.5h0M98.3 476.8h0M209.6 477h0M129.2 479.3h0M160 486.9h0M141.4 494.3h0M147.5 496.8h0"/><path stroke="#797c82" d="M154.7 409.7h0M160.8 412.2h0M142.2 419.6h0M191.6 424.7h0M148.2 432.1h0M129.6 439.5h0M142 439.5h0M86.3 441.9h0M104.8 444.4h0M73.8 446.9h0M135.7 447h0M234.7 447.1h0M141.9 449.5h0M166.6 449.5h0M73.8 451.9h0M178.9 454.5h0M123.2 456.9h0M117 459.4h0M141.8 459.4h0M240.8 459.6h0M160.3 462h0M73.6 466.8h0M147.9 466.9h0M110.7 471.8h0M209.7 472h0M197.3 477h0M92 479.3h0M116.8 479.3h0M110.6 481.8h0M166.2 484.4h0M122.9 486.8h0M147.6 486.8h0"/><path stroke="#497cb5" d="M160.8 417.1h0M104.9 434.5h0M129.7 434.5h0M123.4 437h0M172.9 437.1h0M160.5 447h0M92.4 449.4h0M209.9 452.1h0M191.3 454.5h0M49 456.8h0M61.4 456.8h0M160.3 457h0M55.1 464.3h0M79.8 464.3h0M92.2 464.3h0M222.1 467h0M92.1 474.3h0M129.2 474.4h0M228.2 474.5h0M110.6 476.8h0M135.4 476.9h0"/><path stroke="#5d799d" d="M154.6 419.6h0M136 422.1h0M148.3 427.1h0M185.4 432.1h0M92.5 439.4h0M135.8 442h0M185.3 442.1h0M141.9 444.5h0M185.2 447.1h0M216.1 449.6h0M123.3 451.9h0M222.3 452.1h0M228.4 454.6h0M98.5 456.9h0M222.2 457.1h0M123.2 461.9h0M197.4 462h0M209.8 462h0M259.3 462.1h0M178.8 464.5h0M160.2 466.9h0M67.4 469.3h0M116.9 469.4h0M123.1 471.9h0M147.8 471.9h0M172.6 471.9h0M172.5 476.9h0M184.8 481.9h0M141.5 484.3h0M178.6 489.4h0M147.5 501.8h0M153.6 504.3h0"/><path stroke="#7e7d7e" d="M166.9 419.6h0M142.1 424.6h0M123.5 432h0M173 432.1h0M154.4 434.6h0M104.9 439.5h0M166.7 439.6h0M216.2 439.6h0M228.6 439.7h0M166.7 444.5h0M240.9 444.7h0M197.6 447.1h0M154.2 449.5h0M110.8 456.9h0M154.1 459.5h0M191.3 459.5h0M48.9 461.8h0M135.5 461.9h0M222.2 462.1h0M234.5 462.1h0M67.5 464.3h0M104.6 464.4h0M61.2 466.8h0M246.9 467.1h0M104.5 469.3h0M153.9 479.4h0M209.6 482h0M172.4 486.9h0M184.8 486.9h0M190.9 489.4h0"/><path stroke="#627a98" d="M111.1 437h0M203.9 439.6h0M111 442h0M222.3 447.1h0M240.9 449.6h0M172.7 457h0M247 457.1h0M67.5 459.3h0M104.6 459.4h0M172.7 462h0M240.7 464.6h0M110.7 466.9h0M234.5 467.1h0M240.7 469.6h0M116.8 474.3h0M215.8 479.5h0"/><path stroke="#837e79" d="M247.1 447.2h0M228.5 449.6h0M240.8 454.6h0M116.7 489.3h0M166.2 489.4h0"/><path stroke="#6c7a8e" d="M148.4 400.5h0M172.9 415.4h0M80.1 417.8h0M154.4 417.9h0M222.4 420.5h0M172.8 425.4h0M166.6 427.9h0M148 430.4h0M265.6 433h0M36.6 435.1h0M222.2 435.4h0M86 445.2h0M160.2 445.3h0M185 445.4h0M191.2 447.9h0M104.5 452.7h0M166.3 452.8h0M166.3 457.8h0M197.2 460.3h0M110.5 465.1h0M160 470.2h0"/><path stroke="#767b84" d="M173.2 395.5h0M185.4 410.5h0M216.3 413h0M92.5 417.8h0M117.2 417.9h0M166.7 417.9h0M179.1 417.9h0M191.5 418h0M98.6 420.3h0M210 425.5h0M110.9 430.3h0M42.8 432.7h0M191.3 432.9h0M73.7 435.2h0M135.6 435.3h0M166.5 437.9h0M73.7 440.2h0M98.4 440.2h0M154.1 442.8h0M73.6 445.2h0M67.4 447.6h0M92.2 447.7h0M141.7 447.8h0M209.7 450.4h0M147.8 455.2h0M141.5 457.7h0M98.2 460.1h0M110.6 460.2h0M172.4 460.3h0M122.8 470.1h0"/><path stroke="#537aa8" d="M210.1 410.5h0M117.3 412.9h0M191.5 413h0M203.9 413h0M111.1 415.4h0M86.3 420.3h0M222.3 425.5h0M49 430.2h0M98.5 430.3h0M197.5 430.4h0M123.2 435.3h0M185.1 435.4h0M247 435.5h0M228.4 437.9h0M135.5 440.3h0M178.8 442.9h0M129.3 447.8h0M85.9 455.1h0M92 457.6h0M153.9 457.8h0M123 460.2h0M135.3 465.2h0M135.2 470.2h0M184.7 470.2h0"/><path stroke="#5d799d" d="M148.5 390.5h0M123.6 400.4h0M191.6 403h0M173.1 405.5h0M179.2 408h0M166.8 412.9h0M135.8 415.4h0M142 417.9h0M154.3 422.9h0M55.2 427.7h0M117.1 427.8h0M123.3 430.3h0M259.4 430.5h0M117.1 432.8h0M172.7 435.4h0M234.6 435.5h0M271.7 435.5h0M123.1 445.2h0M209.7 445.4h0M160.2 450.3h0M147.7 460.2h0M203.4 462.8h0"/><path stroke="#677a93" d="M154.7 388h0M185.5 400.5h0M179.3 403h0M104.9 412.9h0M123.4 415.4h0M197.7 415.5h0M210.1 415.5h0M228.6 418h0M73.9 420.3h0M166.7 422.9h0M61.5 425.2h0M73.8 425.2h0M80 427.8h0M104.7 427.8h0M141.9 427.9h0M154.2 427.9h0M135.7 430.3h0M234.7 430.5h0M154.2 432.9h0M253.2 433h0M61.4 435.2h0M86.1 435.2h0M55.1 437.7h0M92.3 437.7h0M129.4 437.8h0M203.6 437.9h0M129.3 442.8h0M98.4 445.2h0M222.1 445.4h0M92.1 452.7h0M228.2 452.9h0M110.6 455.2h0M160.1 455.3h0M147.5 475.2h0M159.9 480.2h0"/><path stroke="#3f7dc2" d="M160.8 395.5h0M129.8 397.9h0M166.9 398h0M154.5 403h0M185.3 415.5h0M67.7 422.8h0M80.1 422.8h0M129.6 422.9h0M148.1 425.4h0M185.2 430.4h0M79.9 432.7h0M104.7 432.8h0M166.6 432.9h0M104.6 437.8h0M117 437.8h0M141.8 437.8h0M191.3 437.9h0M86 440.2h0M123.2 440.3h0M222.2 440.4h0M67.5 442.7h0M203.6 442.9h0M240.7 442.9h0M240.7 447.9h0M160.1 460.2h0M166.2 462.8h0"/><path stroke="#627a98" d="M160.8 390.5h0M154.6 398h0M173.1 400.5h0M166.9 403h0M148.3 405.4h0M86.3 415.3h0M185.3 420.4h0M92.4 422.8h0M117.2 422.8h0M123.3 425.3h0M61.4 430.2h0M73.8 430.2h0M172.8 430.4h0M216.1 432.9h0M67.5 437.7h0M110.8 440.2h0M61.2 445.1h0M234.5 445.4h0M166.4 447.8h0M172.6 450.3h0M154 452.8h0M172.5 455.3h0M209.6 455.4h0M104.4 457.7h0M178.7 457.8h0M184.8 460.3h0M141.5 462.7h0M166.2 467.7h0M190.9 467.8h0M147.6 470.2h0M172.3 470.2h0M129 472.6h0M141.3 477.6h0"/><path stroke="#497cb5" d="M185.4 405.5h0M111.1 410.4h0M160.6 410.4h0M197.8 410.5h0M92.5 412.8h0M129.7 412.9h0M179.2 413h0M98.7 415.3h0M197.6 425.4h0M234.7 425.5h0M86.2 430.2h0M160.3 435.4h0M209.8 440.4h0M79.8 442.7h0M135.5 445.3h0M197.4 445.4h0M246.9 445.4h0M110.7 450.2h0M222 455.4h0M215.8 457.9h0M116.7 467.6h0M166.1 477.7h0"/><path stroke="#3a7ec8" d="M154.6 393h0M142.2 398h0M98.8 410.4h0M123.5 410.4h0M160.6 415.4h0M111 420.3h0M191.4 422.9h0M203.8 423h0M86.2 425.3h0M92.4 427.8h0M253.2 428h0M141.8 432.8h0M154.1 437.8h0M240.8 438h0M160.3 440.3h0M246.9 440.5h0M166.5 442.8h0M110.7 445.2h0M215.9 447.9h0M129.2 452.7h0M153.9 462.7h0M178.6 462.8h0M178.6 467.8h0"/><path stroke="#447cbb" d="M167 393h0M160.7 400.5h0M105 407.9h0M154.4 412.9h0M148.2 415.4h0M129.6 417.9h0M203.9 418h0M98.6 425.3h0M203.7 427.9h0M209.8 435.4h0M79.9 437.7h0M197.4 440.4h0M55.1 442.6h0M104.6 442.7h0M253.1 443h0M116.9 447.7h0M228.3 447.9h0M123.1 450.2h0M135.4 450.2h0M147.8 450.3h0M203.5 452.9h0M197.3 455.3h0M104.4 462.6h0M147.6 465.2h0M129.1 467.7h0"/><path stroke="#367fcc" d="M179.3 398h0M111.2 405.4h0M129.7 407.9h0M222.4 415.5h0M123.4 420.4h0M160.4 430.4h0M67.6 432.7h0M178.9 432.9h0M240.8 433h0M147.9 440.3h0M216 442.9h0M104.5 447.7h0M166.1 472.7h0"/><path stroke="#5879a2" d="M148.4 395.5h0M117.4 402.9h0M197.8 405.5h0M117.3 407.9h0M204 408h0M172.9 420.4h0M197.6 420.5h0M247 430.5h0M228.4 433h0M253.1 438h0M265.5 438h0M185 440.4h0M259.3 440.5h0M228.3 442.9h0M154 447.8h0M178.7 452.8h0M215.8 452.9h0M191 457.8h0M116.7 462.7h0M122.9 465.2h0M184.8 465.3h0M141.4 467.7h0M153.8 467.7h0M147.5 480.1h0"/><path stroke="#4e7baf" d="M136 395.5h0M135.9 405.4h0M191.6 408h0M135.9 410.4h0M148.2 410.4h0M104.9 417.8h0M216.2 418h0M148.1 420.4h0M234.8 420.5h0M141.9 422.9h0M228.6 423h0M240.9 423h0M191.4 427.9h0M55.2 432.7h0M259.4 435.5h0M178.9 437.9h0M234.5 440.4h0M117 442.8h0M79.8 447.7h0M98.3 450.2h0M234.4 450.4h0M184.9 455.3h0M116.8 457.7h0M153.8 472.7h0M178.5 472.7h0M159.9 475.2h0M172.3 475.2h0"/><path stroke="#387eca" d="M142.3 393h0M160.7 405.5h0M166.8 408h0M210 420.5h0M111 425.3h0M160.5 425.4h0M129.5 427.8h0M216.1 428h0M129.4 432.8h0M49 435.2h0M98.5 435.2h0M110.8 435.3h0M197.5 435.4h0M216 437.9h0M61.3 440.2h0M203.5 447.9h0M85.9 450.2h0M222.1 450.4h0M79.7 452.6h0M116.8 452.7h0M98.3 455.2h0M203.4 457.8h0M135.3 460.2h0M172.4 465.2h0"/><path stroke="#717b89" d="M142.1 402.9h0M154.5 407.9h0M135.8 420.4h0M160.5 420.4h0M104.8 422.8h0M216.2 423h0M135.7 425.4h0M185.2 425.4h0M247.1 425.5h0M179 427.9h0M209.9 430.4h0M222.3 430.5h0M92.3 432.8h0M203.7 432.9h0M42.8 437.6h0M48.9 440.1h0M92.2 442.7h0M141.7 442.8h0M172.6 445.3h0M178.8 447.8h0M184.9 450.3h0M197.3 450.4h0M129.2 457.7h0M209.6 460.3h0M129.1 462.7h0M197.1 465.3h0M141.4 472.7h0"/><path stroke="#797c82" d="M136 400.4h0M129.8 402.9h0M123.6 405.4h0M142.1 407.9h0M173 410.5h0M142 412.9h0M179 422.9h0M67.6 427.7h0M228.5 428h0M240.9 428h0M148 435.3h0M172.7 440.4h0M191.2 442.9h0M147.9 445.3h0M73.6 450.1h0M141.6 452.8h0M191.1 452.8h0M123 455.2h0M135.4 455.2h0M191 462.8h0M160 465.2h0M135.2 475.1h0M153.7 477.7h0M153.6 482.6h0"/><path stroke="#447cbb" d="M197.8 383.9h0M228.6 396.4h0M67.7 401.1h0M129.6 401.2h0M98.6 403.7h0M210 403.8h0M247.1 403.9h0M191.4 406.3h0M98.5 408.6h0M154.2 411.2h0M36.6 413.5h0M234.6 413.8h0M271.7 413.9h0M216 416.3h0M240.8 416.3h0M123.2 418.6h0M228.3 421.3h0M215.9 426.3h0M79.7 431h0M172.5 433.7h0M129.2 436.1h0M166.3 436.1h0M197.2 438.7h0M141.5 441.1h0M122.9 443.5h0M116.7 446h0M147.5 453.5h0"/><path stroke="#367fcc" d="M166.8 386.3h0M204 386.4h0M173 388.8h0M135.8 398.7h0M104.8 401.2h0M111 403.7h0M247 408.9h0M42.8 411h0M203.7 411.3h0M240.8 411.4h0M110.8 413.6h0M129.4 416.2h0M135.5 418.7h0M209.8 418.8h0M160.2 423.7h0M92.2 426.1h0M154 426.2h0M147.8 428.6h0M160.2 428.7h0M222.1 428.8h0M203.5 431.2h0M160.1 433.6h0M116.8 436.1h0M153.9 436.1h0M215.8 436.2h0M110.6 438.5h0M129.1 441.1h0"/><path stroke="#3a7ec8" d="M160.8 368.9h0M197.8 388.9h0M191.5 391.4h0M98.7 393.7h0M222.4 393.9h0M228.6 401.4h0M240.9 401.4h0M73.8 403.6h0M129.5 406.2h0M49 408.6h0M135.7 408.7h0M148 408.7h0M197.5 408.8h0M79.9 411.1h0M129.4 411.2h0M166.6 411.2h0M178.9 411.3h0M228.4 411.3h0M148 413.7h0M247 413.9h0M61.3 418.5h0M73.7 418.6h0M178.8 421.2h0M234.5 423.8h0M67.4 426h0M79.8 426h0M178.8 426.2h0M209.7 428.7h0M234.4 428.8h0M178.7 436.2h0M104.4 441h0M110.5 443.5h0M147.5 458.5h0"/><path stroke="#5879a2" d="M167 371.4h0M154.6 376.4h0M105 386.2h0M160.6 388.8h0M104.9 391.2h0M179.2 391.3h0M154.4 396.3h0M117.2 401.2h0M148.1 403.7h0M55.2 406.1h0M185.2 408.8h0M104.7 411.1h0M123.2 413.7h0M92.3 416.1h0M172.6 423.7h0M228.3 426.3h0M98.3 428.6h0M92.1 431h0M98.3 433.5h0M172.4 438.6h0M166.2 441.1h0M178.6 441.1h0M190.9 446.1h0M135.2 448.5h0"/><path stroke="#677a93" d="M135.8 393.8h0M148.2 393.8h0M129.6 396.2h0M111 398.7h0M222.4 398.9h0M166.7 401.3h0M179 401.3h0M61.5 403.6h0M160.5 403.8h0M197.6 403.8h0M216.1 406.3h0M61.4 408.6h0M160.4 408.7h0M172.8 408.8h0M209.9 408.8h0M259.4 413.9h0M222.2 418.8h0M67.5 421h0M216 421.3h0M253.1 421.3h0M197.4 423.7h0M166.4 426.2h0M116.8 431.1h0M154 431.1h0M98.2 438.5h0M184.8 438.7h0M116.7 441h0M160 448.6h0M159.9 453.6h0"/><path stroke="#5d799d" d="M173.1 378.9h0M191.6 381.4h0M216.3 391.4h0M111.1 393.7h0M185.3 393.8h0M117.2 396.2h0M216.2 396.4h0M73.9 398.6h0M98.6 398.7h0M160.5 398.8h0M92.4 401.2h0M92.4 406.1h0M228.5 406.4h0M197.5 413.8h0M67.5 416.1h0M265.5 416.4h0M172.7 418.7h0M197.4 418.8h0M61.2 423.5h0M222.1 423.8h0M85.9 428.5h0M110.6 433.6h0M197.3 433.7h0M160.1 438.6h0M153.9 441.1h0M172.4 443.6h0M141.3 456h0"/><path stroke="#537aa8" d="M148.4 373.9h0M129.8 376.3h0M179.3 381.4h0M148.3 383.8h0M154.5 386.3h0M92.5 391.2h0M123.4 393.7h0M80.1 396.2h0M104.9 396.2h0M142 396.3h0M179.1 396.3h0M197.6 398.8h0M154.3 401.3h0M203.8 401.3h0M222.3 403.9h0M234.7 403.9h0M135.6 413.7h0M110.8 418.6h0M55.1 421h0M92.2 421.1h0M104.5 426.1h0M73.6 428.5h0M85.9 433.5h0M135.4 433.6h0M147.8 433.6h0M135.3 438.6h0M147.7 438.6h0M178.6 446.1h0M172.3 448.6h0M141.4 451h0M172.3 453.6h0M166.1 456.1h0"/><path stroke="#3f7dc2" d="M154.6 371.4h0M136 373.8h0M123.6 378.8h0M136 378.8h0M148.2 388.8h0M86.3 393.7h0M92.5 396.2h0M222.3 408.8h0M141.8 411.2h0M166.5 416.2h0M98.4 418.6h0M246.9 418.8h0M117 421.1h0M110.7 428.6h0M172.6 428.7h0M203.4 436.2h0M129 451h0"/><path stroke="#497cb5" d="M142.2 376.3h0M117.3 386.3h0M98.8 388.7h0M185.4 388.9h0M154.4 391.3h0M172.9 393.8h0M191.5 396.3h0M172.9 398.8h0M86.2 403.6h0M104.7 406.2h0M154.2 406.2h0M110.9 408.7h0M55.2 411.1h0M73.7 413.6h0M79.9 416.1h0M154.1 416.2h0M178.9 416.2h0M253.1 416.4h0M48.9 418.5h0M86 418.6h0M110.7 423.6h0M141.7 426.1h0M215.8 431.2h0M228.2 431.3h0M184.7 448.6h0M153.8 451.1h0M153.7 456h0"/><path stroke="#3180d3" d="M142.3 371.4h0M148.4 378.8h0M111.2 383.8h0M210.1 388.9h0M129.7 391.3h0M160.6 393.8h0M166.7 396.3h0M123.4 398.7h0M80.1 401.1h0M61.4 413.6h0M185.1 413.8h0M203.6 416.3h0M185 418.7h0M154.1 421.2h0M86 423.6h0M191.1 431.2h0M209.6 433.7h0M129.1 446h0"/><path stroke="#387eca" d="M154.7 366.4h0M148.5 368.9h0M166.9 376.4h0M117.4 381.3h0M166.9 381.4h0M173.1 383.9h0M179.2 386.4h0M203.9 396.4h0M86.3 398.7h0M185.3 398.8h0M210 398.9h0M234.8 398.9h0M216.2 401.4h0M172.8 403.8h0M67.6 406.1h0M67.6 411.1h0M216.1 411.3h0M49 413.5h0M42.8 416h0M147.9 418.7h0M259.3 418.9h0M191.2 421.2h0M116.9 426.1h0M203.5 426.2h0M184.9 428.7h0M92 436h0M184.8 443.6h0M197.1 443.7h0M153.8 446.1h0M166.1 451.1h0"/><path stroke="#627a98" d="M179.3 376.4h0M160.7 378.9h0M129.8 381.3h0M111.1 388.7h0M123.5 388.8h0M166.8 391.3h0M203.9 391.4h0M123.3 403.7h0M135.7 403.7h0M185.2 403.8h0M166.6 406.3h0M98.5 413.6h0M172.7 413.7h0M209.8 413.8h0M228.4 416.3h0M191.2 426.2h0M135.4 428.6h0M129.2 431.1h0M141.6 431.1h0M166.3 431.2h0M209.6 438.7h0M147.6 448.6h0"/><path stroke="#357fcf" d="M160.8 373.9h0M154.5 381.3h0M123.6 383.8h0M135.9 383.8h0M160.7 383.8h0M142.1 386.3h0M197.7 393.9h0M141.9 401.2h0M191.4 401.3h0M73.8 408.6h0M86.2 408.6h0M117.1 411.2h0M191.3 411.3h0M55.1 416h0M191.3 416.3h0M79.8 421.1h0M104.6 421.1h0M73.6 423.5h0M98.4 423.6h0M123.1 423.6h0M147.9 423.7h0M240.7 426.3h0M123.1 428.6h0M104.5 431.1h0M123 433.6h0M222 433.7h0M141.5 436.1h0M191 436.2h0M123 438.6h0M141.4 446.1h0M166.2 446.1h0M178.5 451.1h0"/><path stroke="#337fd1" d="M129.7 386.3h0M191.6 386.4h0M148.1 398.8h0M80 406.1h0M141.9 406.2h0M203.7 406.3h0M123.3 408.7h0M259.4 408.9h0M265.6 411.4h0M160.3 413.7h0M117 416.1h0M234.5 418.8h0M166.5 421.2h0M203.6 421.3h0M185 423.7h0M209.7 423.8h0M129.3 426.1h0M197.3 428.7h0M178.7 431.2h0M184.9 433.7h0M104.4 436h0M147.6 443.6h0M122.8 448.5h0M135.2 453.5h0"/><path stroke="#4e7baf" d="M173.2 373.9h0M185.5 378.9h0M142.1 381.3h0M185.4 383.9h0M135.9 388.8h0M117.3 391.2h0M142 391.3h0M210.1 393.9h0M117.1 406.2h0M92.3 411.1h0M253.2 411.4h0M86.1 413.6h0M222.2 413.8h0M104.6 416.1h0M141.8 416.2h0M160.3 418.7h0M240.7 421.3h0M135.5 423.6h0M191 441.2h0M135.3 443.6h0M160 443.6h0M153.6 461h0"/><path stroke="#6c7a8e" d="M179 406.3h0M240.9 406.4h0M253.2 406.4h0M234.7 408.9h0M129.3 421.1h0M141.7 421.2h0M246.9 423.8h0M203.4 441.2h0M159.9 458.5h0"/><path stroke="#627a98" d="M504.8 433.8h0M498.6 436.3h0M473.8 441.2h0M523.3 441.3h0M504.7 443.8h0M473.8 446.2h0M510.9 446.2h0M455.2 448.6h0M492.3 448.7h0M504.7 448.7h0M473.7 451.2h0M510.8 451.2h0M523.2 451.2h0M442.8 453.6h0M455.1 453.6h0M467.5 453.6h0M492.2 453.7h0M504.6 453.7h0M517 453.7h0M436.5 456.1h0M467.4 458.6h0M479.8 458.6h0M492.2 458.7h0M566.4 458.8h0M436.5 461.1h0M535.5 461.2h0M504.5 463.7h0M473.6 466.1h0M523 466.2h0M442.6 468.5h0M455 468.6h0M467.3 468.6h0M541.6 468.7h0M448.7 471h0M461.1 471.1h0M473.5 471.1h0M448.7 476h0M461.1 476h0M547.7 476.2h0M560.1 476.2h0M380.6 478.4h0M417.7 478.5h0M430.1 478.5h0M442.5 478.5h0M467.2 478.5h0M541.5 478.7h0M566.2 478.7h0M603.4 478.8h0M436.3 481h0M461 481h0M584.8 481.2h0M597.1 481.2h0M430 483.5h0M467.2 483.5h0M399.1 485.9h0M423.8 485.9h0M436.2 486h0M485.7 486h0M430 488.4h0M479.5 488.5h0M541.4 488.6h0M566.1 488.7h0M578.5 488.7h0M590.9 488.7h0M423.8 490.9h0M436.2 490.9h0M473.3 491h0M498 491h0M522.8 491.1h0M491.8 493.5h0M460.8 496h0M473.2 496h0M498 496h0M559.8 496.1h0M429.9 498.4h0M442.3 498.4h0M566 498.6h0M460.8 500.9h0M473.2 501h0M479.3 503.5h0M504.1 503.5h0M510.2 506h0M535 506h0M460.7 510.9h0M522.6 511h0M466.8 513.4h0M510.1 516h0M510.1 520.9h0"/><path stroke="#6c7a8e" d="M511 436.3h0M504.8 438.8h0M486.2 441.2h0M498.6 441.2h0M511 441.3h0M517.1 443.8h0M529.5 443.8h0M498.5 446.2h0M523.3 446.3h0M535.6 446.3h0M467.6 448.7h0M461.3 451.1h0M498.5 451.2h0M535.6 451.3h0M479.9 453.7h0M473.7 456.1h0M498.4 456.2h0M535.5 456.2h0M560.3 456.3h0M516.9 458.7h0M529.3 458.7h0M541.7 458.8h0M424.1 461h0M473.6 461.1h0M523.1 461.2h0M572.6 461.3h0M455 463.6h0M516.9 463.7h0M529.3 463.7h0M541.6 463.7h0M554 463.8h0M578.8 463.8h0M436.4 466h0M448.8 466.1h0M461.2 466.1h0M510.7 466.2h0M535.4 466.2h0M572.5 466.3h0M430.2 468.5h0M529.2 468.7h0M554 468.7h0M578.7 468.8h0M411.6 471h0M424 471h0M498.2 471.1h0M510.6 471.1h0M560.1 471.2h0M405.4 473.5h0M417.8 473.5h0M430.2 473.5h0M442.5 473.5h0M454.9 473.5h0M479.7 473.6h0M553.9 473.7h0M566.3 473.7h0M386.8 475.9h0M436.3 476h0M572.4 476.2h0M597.2 476.3h0M393 478.4h0M578.6 478.7h0M591 478.8h0M386.8 480.9h0M399.1 480.9h0M411.5 480.9h0M522.9 481.1h0M572.4 481.2h0M609.5 481.3h0M392.9 483.4h0M442.4 483.5h0M504.3 483.6h0M566.2 483.7h0M578.5 483.7h0M590.9 483.7h0M603.3 483.8h0M448.6 486h0M473.3 486h0M510.5 486.1h0M405.2 488.4h0M442.4 488.5h0M454.7 488.5h0M516.6 488.6h0M448.5 491h0M460.9 491h0M535.1 491.1h0M572.3 491.2h0M454.7 493.5h0M516.6 493.6h0M553.7 493.6h0M566.1 493.6h0M522.7 496.1h0M467 498.5h0M479.4 498.5h0M491.8 498.5h0M528.9 498.6h0M442.2 503.4h0M467 503.4h0M491.7 503.5h0M528.8 503.5h0M553.6 503.6h0M448.4 505.9h0M460.7 505.9h0M466.9 508.4h0M479.3 508.4h0M491.6 508.5h0M497.8 511h0M534.9 511h0M491.6 513.4h0M516.3 513.5h0M528.7 513.5h0M491.5 518.4h0M497.7 520.9h0M491.5 523.4h0M497.6 525.9h0"/><path stroke="#677a93" d="M486.3 436.2h0M492.4 438.8h0M467.6 443.7h0M480 443.7h0M492.4 443.7h0M461.4 446.2h0M529.4 448.8h0M541.8 448.8h0M449 451.1h0M486.1 451.2h0M548 451.3h0M529.4 453.8h0M541.8 453.8h0M554.1 453.8h0M448.9 456.1h0M510.8 456.2h0M547.9 456.3h0M455.1 458.6h0M504.6 458.7h0M554.1 458.8h0M448.9 461.1h0M461.2 461.1h0M486 461.1h0M498.4 461.2h0M510.7 461.2h0M547.9 461.2h0M560.2 461.3h0M417.9 463.5h0M430.3 463.5h0M442.6 463.6h0M467.4 463.6h0M492.1 463.6h0M566.4 463.8h0M411.7 466h0M424.1 466h0M547.8 466.2h0M560.2 466.2h0M584.9 466.3h0M405.5 468.5h0M504.5 468.6h0M516.8 468.7h0M566.3 468.8h0M399.2 471h0M523 471.2h0M547.7 471.2h0M572.5 471.2h0M393 473.4h0M492 473.6h0M516.8 473.6h0M541.5 473.7h0M578.7 473.8h0M591 473.8h0M411.6 476h0M423.9 476h0M485.8 476.1h0M498.2 476.1h0M510.6 476.1h0M535.3 476.2h0M584.8 476.2h0M609.6 476.3h0M454.9 478.5h0M492 478.6h0M504.4 478.6h0M516.7 478.6h0M529.1 478.6h0M553.9 478.7h0M448.6 481h0M473.4 481h0M535.3 481.1h0M547.6 481.2h0M560 481.2h0M405.3 483.4h0M454.8 483.5h0M479.5 483.5h0M491.9 483.6h0M541.4 483.6h0M553.8 483.7h0M411.5 485.9h0M461 486h0M498.1 486.1h0M522.8 486.1h0M547.6 486.1h0M560 486.2h0M597.1 486.2h0M467.1 488.5h0M529 488.6h0M559.9 491.1h0M417.6 493.4h0M429.9 493.4h0M442.3 493.4h0M467.1 493.5h0M479.4 493.5h0M504.2 493.5h0M528.9 493.6h0M541.3 493.6h0M448.5 495.9h0M485.6 496h0M510.3 496h0M547.5 496.1h0M572.2 496.1h0M454.6 498.4h0M504.1 498.5h0M516.5 498.5h0M541.3 498.6h0M553.6 498.6h0M436 500.9h0M448.4 500.9h0M485.5 501h0M497.9 501h0M510.3 501h0M522.7 501h0M535 501.1h0M516.5 503.5h0M541.2 503.6h0M473.1 505.9h0M497.9 506h0M522.6 506h0M547.4 506.1h0M454.5 508.4h0M528.8 508.5h0M541.1 508.5h0M510.2 511h0M479.2 513.4h0M504 513.5h0M473 515.9h0M485.4 515.9h0M497.8 515.9h0M522.5 516h0M503.9 518.4h0M516.3 518.5h0M485.3 520.9h0"/><path stroke="#717b89" d="M498.7 431.3h0M492.5 433.8h0M480 438.7h0M517.2 438.8h0M486.1 446.2h0M479.9 448.7h0M517.1 448.8h0M461.3 456.1h0M523.2 456.2h0M430.3 458.6h0M442.7 458.6h0M417.8 468.5h0M591.1 468.8h0M436.4 471h0M584.9 471.3h0M597.2 471.3h0M603.4 473.8h0M399.2 475.9h0M405.4 478.4h0M615.7 478.8h0M423.9 481h0M417.7 483.4h0M572.3 486.2h0M584.7 486.2h0M417.6 488.4h0M553.7 488.6h0M411.4 490.9h0M547.5 491.1h0M584.7 491.2h0M578.4 493.7h0M423.7 495.9h0M436.1 495.9h0M535.1 496.1h0M547.4 501.1h0M559.8 501.1h0M454.6 503.4h0M485.5 506h0M504 508.5h0M516.4 508.5h0M473.1 510.9h0M485.4 510.9h0M479.2 518.4h0M503.9 523.4h0"/><path stroke="#5d799d" d="M486 456.2h0M479.8 463.6h0M485.9 466.1h0M498.3 466.1h0M479.7 468.6h0M492.1 468.6h0M485.9 471.1h0M535.4 471.2h0M467.3 473.6h0M504.4 473.6h0M529.2 473.7h0M473.4 476.1h0M522.9 476.1h0M479.6 478.6h0M485.8 481.1h0M498.1 481.1h0M510.5 481.1h0M516.7 483.6h0M529 483.6h0M535.2 486.1h0M491.9 488.5h0M504.2 488.6h0M485.7 491h0M510.4 491.1h0"/><path stroke="#717b89" d="M504.8 412.2h0M511 414.7h0M504.8 417.1h0M480 422.1h0M473.8 424.6h0M486.1 424.6h0M535.6 424.7h0M449 429.5h0M473.7 429.5h0M535.6 429.6h0M529.4 432.1h0M541.8 432.1h0M560.3 434.7h0M424.1 439.4h0M560.2 444.6h0M597.2 449.7h0M386.8 454.3h0M399.2 454.3h0M560.1 454.6h0M572.4 454.6h0M584.8 454.6h0M380.6 456.8h0M597.1 459.6h0M609.5 459.6h0M392.9 461.8h0M405.3 461.8h0M442.4 461.9h0M448.6 464.4h0M578.5 467.1h0M541.3 477h0M436 479.3h0M473.2 479.3h0M485.5 479.4h0M547.4 479.5h0M442.2 481.8h0M541.2 481.9h0M553.6 482h0M479.3 486.8h0M504 486.9h0M473.1 489.3h0M466.8 491.8h0M528.7 491.9h0M473 494.3h0M485.4 494.3h0M516.3 496.8h0M485.3 499.3h0M497.6 504.3h0"/><path stroke="#627a98" d="M480 417.1h0M511 419.6h0M479.9 427.1h0M486.1 429.6h0M455.1 432h0M467.5 432h0M554.1 432.2h0M436.5 434.5h0M430.3 436.9h0M492.2 437h0M436.5 439.4h0M473.6 439.5h0M523.1 439.6h0M535.5 439.6h0M572.6 439.7h0M430.3 441.9h0M455 442h0M467.4 442h0M479.8 442h0M492.1 442h0M529.3 442.1h0M554 442.1h0M566.4 442.1h0M461.2 444.5h0M485.9 444.5h0M523 444.6h0M405.5 446.9h0M492.1 447h0M504.5 447h0M448.7 449.4h0M473.5 449.5h0M523 449.5h0M560.1 449.6h0M393 451.8h0M430.2 451.9h0M492 452h0M529.2 452h0M541.5 452.1h0M522.9 454.5h0M393 456.8h0M405.4 456.8h0M417.7 456.8h0M430.1 456.9h0M492 457h0M615.7 457.2h0M423.9 459.3h0M448.6 459.4h0M535.3 459.5h0M417.7 461.8h0M454.8 461.9h0M491.9 461.9h0M504.3 462h0M566.2 462.1h0M423.8 464.3h0M436.2 464.3h0M510.5 464.5h0M516.6 467h0M541.4 467h0M436.2 469.3h0M498 469.4h0M535.1 469.5h0M547.5 469.5h0M559.9 469.5h0M566.1 472h0M473.2 474.4h0M535.1 474.5h0M547.5 474.5h0M479.4 476.9h0M522.7 479.4h0M559.8 479.5h0M454.6 481.8h0M516.5 481.9h0M485.5 484.3h0M522.6 484.4h0M497.8 489.3h0M516.3 491.9h0M497.8 494.3h0M491.5 496.8h0M503.9 501.8h0"/><path stroke="#6c7a8e" d="M498.7 409.7h0M492.5 412.1h0M492.4 417.1h0M486.2 419.6h0M523.3 419.7h0M467.6 422.1h0M529.5 422.2h0M498.5 424.6h0M510.9 424.6h0M523.3 424.6h0M455.2 427h0M467.6 427h0M504.7 427.1h0M517.1 427.1h0M541.8 427.2h0M461.3 429.5h0M498.5 429.6h0M479.9 432h0M504.6 432.1h0M517 432.1h0M461.3 434.5h0M473.7 434.5h0M547.9 434.6h0M442.7 437h0M455.1 437h0M467.4 437h0M448.9 439.5h0M486 439.5h0M498.4 439.5h0M510.7 439.6h0M547.9 439.6h0M417.9 441.9h0M516.9 442.1h0M578.8 442.2h0M448.8 444.4h0M473.6 444.5h0M547.8 444.6h0M584.9 444.7h0M417.8 446.9h0M430.2 446.9h0M541.6 447.1h0M554 447.1h0M566.3 447.1h0M578.7 447.1h0M591.1 447.2h0M399.2 449.3h0M436.4 449.4h0M498.2 449.5h0M547.7 449.6h0M572.5 449.6h0M405.4 451.8h0M417.8 451.9h0M442.5 451.9h0M454.9 451.9h0M553.9 452.1h0M591 452.1h0M423.9 454.4h0M436.3 454.4h0M448.7 454.4h0M473.4 454.4h0M535.3 454.5h0M454.9 456.9h0M516.7 457h0M553.9 457.1h0M578.6 457.1h0M386.8 459.3h0M436.3 459.4h0M473.4 459.4h0M572.4 459.6h0M541.4 462h0M553.8 462h0M578.5 462.1h0M590.9 462.1h0M399.1 464.3h0M535.2 464.5h0M572.3 464.6h0M584.7 464.6h0M597.1 464.6h0M405.2 466.8h0M417.6 466.8h0M442.4 466.8h0M467.1 466.9h0M491.9 466.9h0M566.1 467h0M590.9 467.1h0M485.7 469.4h0M584.7 469.6h0M429.9 471.8h0M454.7 471.8h0M467.1 471.9h0M491.8 471.9h0M504.2 471.9h0M541.3 472h0M578.4 472h0M423.7 474.3h0M436.1 474.3h0M485.6 474.4h0M510.3 474.4h0M522.7 474.4h0M516.5 476.9h0M528.9 476.9h0M553.6 477h0M448.4 479.3h0M510.3 479.4h0M535 479.4h0M467 481.8h0M448.4 484.3h0M473.1 484.3h0M510.2 484.4h0M535 484.4h0M547.4 484.4h0M466.9 486.8h0M528.8 486.9h0M541.1 486.9h0M485.4 489.3h0M534.9 489.4h0M479.2 491.8h0M479.2 496.8h0M503.9 496.8h0M497.7 499.3h0M510.1 499.3h0"/><path stroke="#677a93" d="M486.3 414.6h0M498.6 414.6h0M517.2 417.2h0M473.8 419.6h0M498.6 419.6h0M492.4 422.1h0M504.7 422.1h0M517.1 422.1h0M461.4 424.5h0M492.3 427.1h0M529.4 427.1h0M510.8 429.6h0M523.2 429.6h0M548 429.7h0M442.8 432h0M492.2 432.1h0M448.9 434.5h0M486 434.5h0M498.4 434.6h0M510.8 434.6h0M523.2 434.6h0M535.5 434.6h0M479.8 437h0M529.3 437.1h0M541.7 437.1h0M554.1 437.1h0M566.4 437.2h0M560.2 439.6h0M442.6 441.9h0M541.6 442.1h0M411.7 444.4h0M424.1 444.4h0M436.4 444.4h0M498.3 444.5h0M510.7 444.5h0M535.4 444.6h0M572.5 444.6h0M442.6 446.9h0M455 446.9h0M516.8 447h0M529.2 447.1h0M411.6 449.4h0M424 449.4h0M461.1 449.4h0M485.9 449.5h0M510.6 449.5h0M584.9 449.6h0M467.3 451.9h0M504.4 452h0M516.8 452h0M566.3 452.1h0M578.7 452.1h0M603.4 452.2h0M411.6 454.3h0M461.1 454.4h0M547.7 454.6h0M597.2 454.6h0M609.6 454.7h0M442.5 456.9h0M467.2 456.9h0M479.6 456.9h0M504.4 457h0M566.2 457.1h0M591 457.1h0M603.4 457.1h0M399.1 459.3h0M411.5 459.3h0M461 459.4h0M485.8 459.4h0M510.5 459.5h0M522.9 459.5h0M547.6 459.5h0M560 459.6h0M584.8 459.6h0M430 461.8h0M467.2 461.9h0M479.5 461.9h0M516.7 462h0M603.3 462.1h0M411.5 464.3h0M461 464.4h0M473.3 464.4h0M485.7 464.4h0M522.8 464.5h0M547.6 464.5h0M560 464.5h0M430 466.8h0M454.7 466.9h0M529 467h0M553.7 467h0M411.4 469.3h0M423.8 469.3h0M448.5 469.3h0M473.3 469.4h0M510.4 469.4h0M572.3 469.5h0M417.6 471.8h0M442.3 471.8h0M479.4 471.9h0M516.6 471.9h0M528.9 472h0M553.7 472h0M448.5 474.3h0M460.8 474.3h0M498 474.4h0M559.8 474.5h0M572.2 474.5h0M429.9 476.8h0M442.3 476.8h0M454.6 476.8h0M467 476.8h0M491.8 476.9h0M504.1 476.9h0M566 477h0M460.8 479.3h0M497.9 479.4h0M479.3 481.8h0M491.7 481.9h0M504.1 481.9h0M528.8 481.9h0M460.7 484.3h0M497.9 484.4h0M454.5 486.8h0M491.6 486.8h0M516.4 486.9h0M460.7 489.3h0M510.2 489.4h0M522.6 489.4h0M491.6 491.8h0M504 491.8h0M510.1 494.3h0M522.5 494.4h0M491.5 501.8h0"/><path stroke="#5d799d" d="M504.6 437.1h0M516.9 437.1h0M461.2 439.5h0M504.5 442h0M467.3 447h0M479.7 447h0M535.4 449.6h0M479.7 452h0M485.8 454.5h0M498.2 454.5h0M510.6 454.5h0M529.1 457h0M541.5 457h0M498.1 459.5h0M529 462h0M498.1 464.4h0M479.5 466.9h0M504.2 466.9h0M460.9 469.4h0M522.8 469.5h0"/><path stroke="#717b89" d="M492.5 390.5h0M511 393h0M498.6 398h0M511 398h0M442.8 410.4h0M411.7 422.8h0M405.4 430.2h0M380.6 435.1h0M609.5 438h0M534.9 467.8h0M504 470.2h0M497.8 472.7h0"/><path stroke="#677a93" d="M498.7 388h0M504.8 390.5h0M486.3 393h0M498.6 393h0M480 395.5h0M492.4 395.5h0M517.2 395.5h0M473.8 397.9h0M504.7 400.5h0M517.1 400.5h0M510.9 403h0M467.6 405.4h0M492.3 405.4h0M541.8 405.5h0M449 407.9h0M486.1 407.9h0M535.6 408h0M455.1 410.4h0M541.8 410.5h0M461.3 412.9h0M467.4 415.4h0M516.9 415.4h0M554.1 415.5h0M461.2 417.9h0M572.6 418h0M455 420.3h0M554 420.5h0M424.1 422.8h0M436.4 422.8h0M572.5 423h0M584.9 423h0M417.8 425.2h0M554 425.5h0M578.7 425.5h0M424 427.8h0M597.2 428h0M553.9 430.4h0M566.3 430.5h0M386.8 432.7h0M423.9 432.7h0M448.7 432.8h0M572.4 433h0M393 435.2h0M405.4 435.2h0M417.7 435.2h0M442.5 435.2h0M553.9 435.4h0M615.7 435.5h0M399.1 437.7h0M411.5 437.7h0M423.9 437.7h0M436.3 437.7h0M547.6 437.9h0M584.8 438h0M597.1 438h0M392.9 440.1h0M405.3 440.2h0M417.7 440.2h0M430 440.2h0M566.2 440.4h0M590.9 440.5h0M603.3 440.5h0M448.6 442.7h0M560 442.9h0M405.2 445.1h0M430 445.2h0M442.4 445.2h0M411.4 447.6h0M547.5 447.9h0M559.9 447.9h0M584.7 447.9h0M454.7 450.2h0M541.3 450.4h0M566.1 450.4h0M535.1 452.8h0M454.6 455.2h0M491.8 455.2h0M504.1 455.3h0M528.9 455.3h0M553.6 455.4h0M485.5 457.7h0M522.7 457.8h0M547.4 457.8h0M559.8 457.9h0M467 460.2h0M479.3 460.2h0M516.5 460.3h0M541.2 460.3h0M497.9 462.7h0M497.8 467.7h0M466.8 470.1h0M479.2 470.2h0M491.6 470.2h0M516.3 470.2h0M510.1 472.7h0M479.2 475.1h0M491.5 475.2h0M516.3 475.2h0M485.3 477.6h0M497.7 477.7h0M491.5 480.1h0M497.6 482.6h0"/><path stroke="#6c7a8e" d="M504.8 395.5h0M486.2 398h0M523.3 398h0M492.4 400.5h0M529.5 400.5h0M473.8 402.9h0M455.2 405.4h0M473.7 407.9h0M436.5 412.8h0M430.3 415.3h0M455.1 415.4h0M424.1 417.8h0M417.9 420.3h0M566.4 420.5h0M578.8 420.5h0M560.2 423h0M442.6 425.3h0M566.3 425.5h0M591.1 425.5h0M399.2 427.7h0M584.9 428h0M393 430.2h0M578.7 430.5h0M399.2 432.7h0M411.6 432.7h0M584.8 433h0M597.2 433h0M430.1 435.2h0M578.6 435.5h0M603.4 435.5h0M386.8 437.6h0M442.4 440.2h0M578.5 440.4h0M399.1 442.6h0M423.8 442.7h0M436.2 442.7h0M584.7 442.9h0M597.1 443h0M590.9 445.4h0M423.8 447.7h0M572.3 447.9h0M429.9 450.2h0M578.4 450.4h0M423.7 452.6h0M436.1 452.7h0M448.5 452.7h0M572.2 452.9h0M442.3 455.2h0M467 455.2h0M566 455.4h0M454.6 460.2h0M491.7 460.2h0M553.6 460.3h0M448.4 462.6h0M460.7 462.7h0M473.1 462.7h0M522.6 462.8h0M466.9 465.2h0M504 465.2h0M528.8 465.3h0M541.1 465.3h0M460.7 467.6h0M473.1 467.7h0M485.4 467.7h0M485.4 472.7h0M522.5 472.7h0M503.9 475.2h0M503.9 480.2h0"/><path stroke="#627a98" d="M467.6 400.4h0M480 400.4h0M461.4 402.9h0M486.1 402.9h0M498.5 403h0M523.3 403h0M535.6 403h0M479.9 405.4h0M504.7 405.5h0M517.1 405.5h0M529.4 405.5h0M461.3 407.9h0M510.8 408h0M523.2 408h0M548 408h0M467.5 410.4h0M479.9 410.4h0M492.2 410.4h0M554.1 410.5h0M486 412.9h0M510.8 412.9h0M560.3 413h0M442.7 415.3h0M492.2 415.4h0M504.6 415.4h0M541.7 415.5h0M566.4 415.5h0M436.5 417.8h0M448.9 417.8h0M498.4 417.9h0M560.2 418h0M430.3 420.3h0M442.6 420.3h0M467.4 420.4h0M479.8 420.4h0M492.1 420.4h0M516.9 420.4h0M529.3 420.4h0M461.2 422.8h0M485.9 422.9h0M535.4 422.9h0M405.5 425.2h0M430.2 425.3h0M455 425.3h0M467.3 425.3h0M411.6 427.7h0M436.4 427.8h0M547.7 427.9h0M572.5 428h0M417.8 430.2h0M430.2 430.2h0M442.5 430.3h0M591 430.5h0M603.4 430.5h0M461.1 432.8h0M547.7 432.9h0M560.1 432.9h0M609.6 433h0M566.2 435.4h0M591 435.5h0M448.6 437.8h0M572.4 437.9h0M411.5 442.7h0M461 442.8h0M417.6 445.2h0M529 445.4h0M541.4 445.4h0M566.1 445.4h0M578.5 445.4h0M436.2 447.7h0M473.3 447.8h0M417.6 450.1h0M442.3 450.2h0M467.1 450.2h0M491.8 450.3h0M460.8 452.7h0M473.2 452.7h0M498 452.8h0M510.3 452.8h0M522.7 452.8h0M559.8 452.9h0M429.9 455.1h0M541.3 455.3h0M436 457.6h0M448.4 457.7h0M460.8 457.7h0M510.3 457.8h0M535 457.8h0M442.2 460.1h0M504.1 460.2h0M528.8 460.3h0M485.5 462.7h0M510.2 462.8h0M535 462.8h0M547.4 462.8h0M454.5 465.1h0M479.3 465.2h0M491.6 465.2h0M516.4 465.2h0M510.2 467.7h0M522.6 467.8h0M528.7 470.2h0M473 472.6h0M510.1 477.7h0"/><path stroke="#5d799d" d="M498.5 407.9h0M504.6 410.4h0M517 410.5h0M529.4 410.5h0M448.9 412.9h0M473.7 412.9h0M498.4 412.9h0M523.2 413h0M535.5 413h0M547.9 413h0M479.8 415.4h0M510.7 417.9h0M535.5 418h0M547.9 418h0M541.6 420.5h0M448.8 422.8h0M547.8 423h0M504.5 425.4h0M516.8 425.4h0M529.2 425.4h0M448.7 427.8h0M461.1 427.8h0M560.1 428h0M541.5 430.4h0M436.3 432.8h0M473.4 432.8h0M522.9 432.9h0M535.3 432.9h0M522.9 437.9h0M535.3 437.9h0M560 437.9h0M467.2 440.3h0M516.7 440.4h0M529 440.4h0M541.4 440.4h0M553.8 440.4h0M535.2 442.9h0M547.6 442.9h0M572.3 442.9h0M454.7 445.2h0M479.5 445.3h0M553.7 445.4h0M448.5 447.7h0M460.9 447.7h0M510.4 447.8h0M522.8 447.8h0M535.1 447.9h0M553.7 450.4h0M547.5 452.9h0M516.5 455.3h0M473.2 457.7h0M497.9 457.8h0"/><path stroke="#5879a2" d="M529.3 415.5h0M473.6 417.9h0M486 417.9h0M523.1 417.9h0M498.3 422.9h0M510.7 422.9h0M523 422.9h0M479.7 425.4h0M492.1 425.4h0M541.6 425.4h0M485.9 427.9h0M498.2 427.9h0M510.6 427.9h0M523 427.9h0M535.4 427.9h0M454.9 430.3h0M467.3 430.3h0M492 430.4h0M510.6 432.9h0M454.9 435.3h0M467.2 435.3h0M504.4 435.4h0M541.5 435.4h0M461 437.8h0M473.4 437.8h0M498.1 437.8h0M454.8 440.2h0M479.5 440.3h0M491.9 440.3h0M504.3 440.3h0M473.3 442.8h0M498.1 442.8h0M522.8 442.9h0M516.6 445.3h0M485.7 447.8h0M479.4 450.2h0M516.6 450.3h0M528.9 450.3h0M485.6 452.8h0M479.4 455.2h0"/><path stroke="#537aa8" d="M504.5 420.4h0M473.6 422.9h0M473.5 427.8h0M504.4 430.4h0M516.8 430.4h0M529.2 430.4h0M485.8 432.8h0M516.7 435.4h0M529.1 435.4h0M485.8 437.8h0M510.5 437.9h0M485.7 442.8h0M467.1 445.2h0M491.9 445.3h0M498 447.8h0M504.2 450.3h0"/><path stroke="#4e7baf" d="M479.7 430.3h0M498.2 432.9h0M479.6 435.3h0M492 435.3h0M510.5 442.8h0M504.2 445.3h0"/><path stroke="#717b89" d="M517.2 373.9h0M399.2 406.1h0M380.6 413.5h0M603.4 413.9h0M466.8 448.5h0M503.9 453.6h0M485.3 456h0M497.7 456h0"/><path stroke="#677a93" d="M498.7 366.4h0M492.5 368.9h0M498.6 371.4h0M492.4 373.9h0M504.8 373.9h0M473.8 376.3h0M498.6 376.4h0M517.1 378.9h0M529.5 378.9h0M461.4 381.3h0M486.1 381.3h0M510.9 381.4h0M523.3 381.4h0M467.6 383.8h0M517.1 383.9h0M461.3 386.3h0M523.2 386.4h0M541.8 388.9h0M430.3 393.7h0M554.1 393.9h0M572.5 401.4h0M417.8 403.6h0M417.8 408.6h0M578.7 408.9h0M386.8 411h0M423.9 411.1h0M597.2 411.4h0M393 413.5h0M615.7 413.9h0M386.8 416h0M572.4 416.3h0M584.8 416.3h0M603.3 418.9h0M584.7 421.3h0M405.2 423.5h0M417.6 423.5h0M430 423.6h0M559.9 426.3h0M584.7 426.3h0M578.4 428.8h0M436.1 431h0M559.8 431.2h0M467 438.6h0M528.8 438.7h0M485.5 441.1h0M510.2 441.1h0M535 441.2h0M522.6 446.1h0M491.6 448.6h0M504 448.6h0M479.2 453.5h0M510.1 456.1h0M503.9 458.5h0"/><path stroke="#627a98" d="M504.8 368.9h0M486.3 371.4h0M480 373.8h0M486.2 376.3h0M511 376.4h0M523.3 376.4h0M492.4 378.8h0M504.7 378.9h0M473.8 381.3h0M498.5 381.3h0M535.6 381.4h0M492.3 383.8h0M504.7 383.8h0M529.4 383.9h0M541.8 383.9h0M510.8 386.3h0M548 386.4h0M467.5 388.8h0M492.2 388.8h0M535.5 391.4h0M566.4 393.9h0M424.1 396.2h0M436.5 396.2h0M547.9 396.4h0M572.6 396.4h0M417.9 398.6h0M430.3 398.7h0M578.8 398.9h0M411.7 401.1h0M448.8 401.2h0M405.5 403.6h0M430.2 403.6h0M442.6 403.7h0M566.3 403.9h0M591.1 403.9h0M424 406.1h0M584.9 406.4h0M393 408.6h0M430.2 408.6h0M566.3 408.8h0M609.6 411.4h0M417.7 413.6h0M430.1 413.6h0M566.2 413.8h0M591 413.9h0M411.5 416.1h0M597.1 416.4h0M405.3 418.5h0M417.7 418.6h0M442.4 418.6h0M566.2 418.8h0M578.5 418.8h0M590.9 418.8h0M399.1 421h0M423.8 421.1h0M597.1 421.3h0M566.1 423.8h0M423.7 431h0M429.9 433.5h0M479.4 433.6h0M541.3 433.7h0M566 433.7h0M436 436h0M448.4 436h0M510.3 436.1h0M547.4 436.2h0M442.2 438.5h0M479.3 438.6h0M491.7 438.6h0M516.5 438.6h0M448.4 441h0M460.7 441h0M547.4 441.2h0M454.5 443.5h0M466.9 443.5h0M528.8 443.6h0M541.1 443.7h0M460.7 446h0M497.8 446.1h0M510.2 446.1h0M528.7 448.6h0M473 451h0M485.4 451h0M510.1 451.1h0M522.5 451.1h0M491.5 453.5h0"/><path stroke="#5d799d" d="M467.6 378.8h0M449 386.2h0M486.1 386.3h0M498.5 386.3h0M535.6 386.4h0M442.8 388.7h0M455.1 388.7h0M554.1 388.9h0M436.5 391.2h0M448.9 391.2h0M461.3 391.2h0M473.7 391.3h0M523.2 391.3h0M547.9 391.4h0M560.3 391.4h0M442.7 393.7h0M455.1 393.7h0M529.3 393.8h0M541.7 393.9h0M448.9 396.2h0M560.2 396.4h0M566.4 398.9h0M424.1 401.1h0M584.9 401.4h0M448.7 406.2h0M442.5 408.6h0M436.3 411.1h0M572.4 411.3h0M584.8 411.4h0M442.5 413.6h0M578.6 413.8h0M423.9 416.1h0M436.3 416.1h0M430 418.6h0M448.6 421.1h0M442.4 423.6h0M578.5 423.8h0M436.2 426.1h0M547.5 426.2h0M572.3 426.3h0M429.9 428.5h0M454.7 428.6h0M566.1 428.8h0M460.8 431.1h0M522.7 431.2h0M547.5 431.2h0M460.8 436.1h0M535 436.2h0M559.8 436.2h0M454.6 438.5h0M504.1 438.6h0M541.2 438.7h0M473.1 441.1h0M522.6 441.1h0M491.6 443.6h0M504 443.6h0M473.1 446h0"/><path stroke="#6c7a8e" d="M511 371.4h0M480 378.8h0M455.2 383.8h0M578.7 403.9h0M411.6 406.1h0M597.2 406.4h0M405.4 408.6h0M591 408.9h0M603.4 408.9h0M399.2 411.1h0M411.6 411.1h0M405.4 413.6h0M399.1 416h0M609.5 416.4h0M392.9 418.5h0M411.5 421h0M590.9 423.8h0M411.4 426h0M423.8 426h0M417.6 428.5h0M572.2 431.3h0M442.3 433.5h0M553.6 438.7h0M479.3 443.6h0M516.4 443.6h0M485.4 446.1h0M534.9 446.1h0M479.2 448.5h0M516.3 448.6h0M497.8 451.1h0M516.3 453.6h0M491.5 458.5h0M497.6 461h0"/><path stroke="#5879a2" d="M479.9 383.8h0M473.7 386.3h0M479.9 388.8h0M504.6 388.8h0M517 388.8h0M529.4 388.9h0M498.4 391.3h0M479.8 393.8h0M535.5 396.3h0M442.6 398.7h0M467.4 398.7h0M554 398.9h0M436.4 401.2h0M461.2 401.2h0M547.8 401.3h0M560.2 401.4h0M554 403.8h0M436.4 406.1h0M572.5 406.4h0M553.9 408.8h0M560.1 411.3h0M436.2 421.1h0M547.6 421.3h0M560 421.3h0M572.3 421.3h0M454.7 423.6h0M541.4 423.7h0M460.9 426.1h0M442.3 428.6h0M528.9 428.7h0M553.7 428.7h0M448.5 431.1h0M473.2 431.1h0M485.6 431.1h0M510.3 431.2h0M535.1 431.2h0M454.6 433.6h0M516.5 433.7h0M528.9 433.7h0M553.6 433.7h0M473.2 436.1h0M485.5 436.1h0M522.7 436.2h0M497.9 441.1h0"/><path stroke="#537aa8" d="M486 391.3h0M467.4 393.7h0M516.9 393.8h0M461.2 396.2h0M455 398.7h0M479.8 398.7h0M529.3 398.8h0M541.6 403.8h0M560.1 406.3h0M553.9 413.8h0M448.6 416.1h0M560 416.3h0M454.8 418.6h0M553.8 418.8h0M461 421.1h0M553.7 423.8h0M448.5 426.1h0M473.3 426.1h0M522.8 426.2h0M535.1 426.2h0M516.6 428.7h0M541.3 428.7h0M498 431.1h0M467 433.6h0M504.1 433.6h0M497.9 436.1h0"/><path stroke="#4e7baf" d="M510.8 391.3h0M504.6 393.8h0M486 396.3h0M510.7 396.3h0M523.1 396.3h0M541.6 398.8h0M473.6 401.2h0M455 403.7h0M547.7 406.3h0M454.9 408.7h0M541.5 408.8h0M448.7 411.1h0M535.3 411.3h0M454.9 413.6h0M547.6 416.3h0M529 418.7h0M541.4 418.8h0M535.2 421.2h0M529 423.7h0M510.4 426.2h0M467.1 428.6h0M479.4 428.6h0M491.8 433.6h0"/><path stroke="#497cb5" d="M492.2 393.8h0M473.6 396.2h0M492.1 398.8h0M523 401.3h0M535.4 401.3h0M467.3 403.7h0M516.8 403.8h0M467.3 408.7h0M473.4 411.2h0M547.7 411.3h0M541.5 413.8h0M461 416.1h0M473.4 416.2h0M522.8 421.2h0M467.1 423.6h0M516.6 423.7h0M485.7 426.1h0M491.8 428.6h0M504.2 428.7h0"/><path stroke="#447cbb" d="M498.4 396.3h0M516.9 398.8h0M485.9 401.2h0M510.7 401.3h0M504.5 403.8h0M461.1 406.2h0M535.4 406.3h0M479.7 408.7h0M529.2 408.8h0M461.1 411.2h0M467.2 413.7h0M522.9 416.2h0M535.3 416.3h0M467.2 418.6h0M516.7 418.7h0M498.1 421.2h0M479.5 423.6h0M498 426.2h0"/><path stroke="#3f7dc2" d="M504.5 398.8h0M479.7 403.7h0M529.2 403.8h0M473.5 406.2h0M523 406.3h0M492 408.7h0M504.4 408.7h0M516.8 408.8h0M492 413.7h0M529.1 413.8h0M479.5 418.7h0M504.3 418.7h0M473.3 421.1h0M491.9 423.7h0M504.2 423.7h0"/><path stroke="#3a7ec8" d="M498.3 401.3h0M492.1 403.7h0M485.9 406.2h0M510.6 406.3h0M479.6 413.7h0M504.4 413.7h0M516.7 413.7h0M510.5 416.2h0M485.7 421.2h0M510.5 421.2h0"/><path stroke="#367fcc" d="M485.8 411.2h0M498.1 416.2h0"/><path stroke="#387eca" d="M498.2 406.2h0M498.2 411.2h0M510.6 411.2h0M522.9 411.3h0M485.8 416.2h0M491.9 418.7h0"/><path fill="#f00" fill-opacity="0.2" d="M191.7 801.7L191.7 801.1L191.6 800.5L191.4 799.9L191.2 799.3L191 798.7L190.6 798.1L190.3 797.5L189.9 796.9L189.4 796.3L188.9 795.7L188.3 795.2L187.7 794.6L187 794L186.3 793.5L185.6 793L184.8 792.4L183.9 791.9L183 791.4L182.1 790.9L181.1 790.5L180.1 790L179 789.6L178 789.1L176.8 788.7L175.7 788.3L174.5 788L173.2 787.6L172 787.2L170.7 786.9L169.4 786.6L168 786.3L166.6 786L165.2 785.8L163.8 785.6L162.4 785.3L161 785.2L159.5 785L158 784.8L156.5 784.7L155 784.6L153.5 784.5L152 784.4L150.5 784.4L148.9 784.4L147.4 784.4L145.9 784.4L144.4 784.4L142.8 784.5L141.3 784.6L139.8 784.7L138.3 784.8L136.8 784.9L135.4 785.1L133.9 785.3L132.5 785.5L131.1 785.7L129.7 786L128.3 786.2L126.9 786.5L125.6 786.8L124.3 787.2L123 787.5L121.8 787.9L120.6 788.2L119.4 788.6L118.3 789L117.2 789.5L116.1 789.9L115.1 790.4L114.1 790.8L113.1 791.3L112.2 791.8L111.4 792.3L110.6 792.8L109.8 793.4L109.1 793.9L108.4 794.5L107.8 795L107.2 795.6L106.7 796.2L106.2 796.8L105.8 797.3L105.4 797.9L105.1 798.5L104.8 799.1L104.6 799.8L104.4 800.4L104.3 801L104.2 801.6L104.2 931.1L104.3 930.5L104.4 929.9L104.6 929.3L104.8 928.7L105.1 928.1L105.4 927.5L105.8 926.9L106.2 926.3L106.7 925.7L107.2 925.1L107.8 924.5L108.4 924L109.1 923.4L109.8 922.9L110.6 922.4L111.4 921.8L112.2 921.3L113.1 920.8L114.1 920.3L115.1 919.9L116.1 919.4L117.2 919L118.3 918.6L119.4 918.1L120.6 917.8L121.8 917.4L123 917L124.3 916.7L125.6 916.4L126.9 916L128.3 915.8L129.7 915.5L131.1 915.2L132.5 915L133.9 914.8L135.4 914.6L136.8 914.5L138.3 914.3L139.8 914.2L141.3 914.1L142.8 914L144.4 913.9L145.9 913.9L147.4 913.9L148.9 913.9L150.5 913.9L152 913.9L153.5 914L155 914.1L156.5 914.2L158 914.3L159.5 914.5L161 914.7L162.4 914.9L163.8 915.1L165.2 915.3L166.6 915.6L168 915.8L169.4 916.1L170.7 916.4L172 916.8L173.2 917.1L174.5 917.5L175.7 917.8L176.8 918.2L178 918.7L179 919.1L180.1 919.5L181.1 920L182.1 920.5L183 920.9L183.9 921.4L184.8 921.9L185.6 922.5L186.3 923L187 923.5L187.7 924.1L188.3 924.7L188.9 925.2L189.4 925.8L189.9 926.4L190.3 927L190.6 927.6L191 928.2L191.2 928.8L191.4 929.4L191.6 930L191.7 930.6L191.7 931.2Z"/><path fill="#f00" fill-opacity="0.2" d="M104.2 802.2L104.3 802.8L104.4 803.4L104.5 804L104.7 804.7L105 805.3L105.3 805.9L105.7 806.5L106.1 807.1L106.5 807.6L107.1 808.2L107.6 808.8L108.2 809.3L108.9 809.9L109.6 810.4L110.4 811L111.2 811.5L112 812L112.9 812.5L113.9 813L114.8 813.5L115.8 813.9L116.9 814.4L118 814.8L119.1 815.2L120.3 815.6L121.5 816L122.7 816.4L124 816.7L125.3 817L126.6 817.3L127.9 817.6L129.3 817.9L130.7 818.1L132.1 818.4L133.5 818.6L135 818.8L136.5 819L137.9 819.1L139.4 819.2L140.9 819.3L142.4 819.4L144 819.5L145.5 819.5L147 819.6L148.5 819.6L150.1 819.6L151.6 819.5L153.1 819.5L154.6 819.4L156.1 819.3L157.6 819.1L159.1 819L160.6 818.8L162 818.6L163.5 818.4L164.9 818.2L166.3 818L167.7 817.7L169 817.4L170.3 817.1L171.6 816.8L172.9 816.4L174.2 816.1L175.4 815.7L176.5 815.3L177.7 814.9L178.8 814.5L179.8 814L180.9 813.6L181.9 813.1L182.8 812.6L183.7 812.1L184.6 811.6L185.4 811.1L186.1 810.6L186.9 810L187.5 809.5L188.2 808.9L188.8 808.3L189.3 807.8L189.8 807.2L190.2 806.6L190.6 806L190.9 805.4L191.2 804.8L191.4 804.2L191.5 803.6L191.7 803L191.7 802.3L191.7 931.9L191.7 932.5L191.5 933.1L191.4 933.7L191.2 934.3L190.9 934.9L190.6 935.5L190.2 936.1L189.8 936.7L189.3 937.3L188.8 937.9L188.2 938.4L187.5 939L186.9 939.5L186.1 940.1L185.4 940.6L184.6 941.1L183.7 941.6L182.8 942.1L181.9 942.6L180.9 943.1L179.8 943.5L178.8 944L177.7 944.4L176.5 944.8L175.4 945.2L174.2 945.6L172.9 945.9L171.6 946.3L170.3 946.6L169 946.9L167.7 947.2L166.3 947.5L164.9 947.7L163.5 947.9L162 948.2L160.6 948.3L159.1 948.5L157.6 948.7L156.1 948.8L154.6 948.9L153.1 949L151.6 949L150.1 949.1L148.5 949.1L147 949.1L145.5 949.1L144 949L142.4 948.9L140.9 948.9L139.4 948.7L137.9 948.6L136.5 948.5L135 948.3L133.5 948.1L132.1 947.9L130.7 947.7L129.3 947.4L127.9 947.1L126.6 946.8L125.3 946.5L124 946.2L122.7 945.9L121.5 945.5L120.3 945.1L119.1 944.7L118 944.3L116.9 943.9L115.8 943.4L114.8 943L113.9 942.5L112.9 942L112 941.5L111.2 941L110.4 940.5L109.6 940L108.9 939.4L108.2 938.9L107.6 938.3L107.1 937.7L106.5 937.1L106.1 936.6L105.7 936L105.3 935.4L105 934.8L104.7 934.2L104.5 933.6L104.4 932.9L104.3 932.3L104.2 931.7Z"/><path stroke="#7e7d7e" d="M86.3 889.9h0M216.2 897.6h0M240.9 902.6h0M253.2 902.6h0M55.2 907.3h0M216.1 907.5h0M36.6 909.7h0M203.6 912.5h0M86 914.8h0M259.3 915.1h0M79.8 917.3h0M166.3 927.4h0M135.4 929.8h0M147.8 929.8h0M203.4 932.4h0M116.7 937.2h0M110.5 939.7h0M129.1 942.2h0M172.3 944.8h0"/><path stroke="#867f77" d="M203.9 887.6h0M197.7 890.1h0M92.4 897.4h0M67.6 902.3h0M203.7 902.5h0M42.8 907.2h0M67.5 912.3h0M197.4 915h0M209.8 915h0M216 917.5h0M185 919.9h0M197.4 919.9h0M234.4 925h0M215.8 927.4h0M172.5 929.9h0M123 934.8h0M147.5 954.7h0M153.6 957.2h0"/><path stroke="#a87f59" d="M98.8 884.9h0M216.2 892.6h0M73.9 894.8h0M210 895.1h0M240.9 897.6h0M73.8 899.8h0M98.6 899.9h0M216.1 902.5h0M49 904.8h0M247 905.1h0M222.2 910h0M247 910.1h0M79.9 912.3h0M265.5 912.6h0M234.5 915h0M253.1 917.5h0M79.8 922.2h0M73.6 924.7h0M116.8 927.3h0M191.1 927.4h0M160.1 929.8h0M184.9 929.9h0M209.6 929.9h0M92 932.2h0M116.8 932.3h0M178.6 937.3h0M135.3 939.8h0M197.1 939.9h0M153.8 947.3h0M178.5 947.3h0M147.5 949.7h0"/><path stroke="#817e7b" d="M80.1 897.3h0M210 900h0M55.2 902.3h0M265.6 907.6h0M61.3 914.7h0M73.7 914.8h0M116.9 922.3h0M203.5 922.4h0M110.7 924.8h0M184.9 924.9h0M209.7 924.9h0M197.2 934.9h0M178.6 942.3h0"/><path stroke="#9e8063" d="M204 882.6h0M61.5 899.8h0M73.8 904.8h0M86.1 909.8h0M271.7 910.1h0M42.8 912.2h0M240.7 917.5h0M98.4 919.8h0M240.7 922.5h0M203.5 927.4h0M228.2 927.5h0M197.3 929.9h0M222 929.9h0M153.9 932.3h0M215.8 932.4h0M209.6 934.9h0M141.4 942.3h0M122.8 944.7h0M159.9 954.7h0"/><path stroke="#a4805c" d="M210.1 885.1h0M203.9 892.6h0M234.8 895.1h0M67.7 897.3h0M234.7 900.1h0M80 902.3h0M98.5 904.8h0M73.7 909.8h0M92.3 912.3h0M228.4 912.5h0M104.6 917.3h0M85.9 924.7h0M92.1 927.2h0M129.2 927.3h0M141.6 927.3h0M129.2 932.3h0M110.6 934.7h0M104.4 937.2h0M129.1 937.3h0M141.4 947.2h0M166.1 952.3h0"/><path stroke="#ae7f52" d="M216.3 887.6h0M80.1 892.4h0M197.5 905h0M209.9 905h0M92.3 907.3h0M240.8 907.6h0M61.4 909.8h0M104.6 912.3h0M92.2 922.3h0M228.3 922.5h0M110.6 929.8h0M147.7 934.8h0M184.8 934.9h0M166.2 937.3h0M160 939.8h0M135.2 944.7h0"/><path stroke="#837e79" d="M197.8 885.1h0M92.5 887.4h0M210.1 890.1h0M203.8 897.5h0M228.6 897.6h0M92.4 902.3h0M61.4 904.8h0M86.2 904.8h0M203.7 907.5h0M259.4 910.1h0M48.9 914.7h0M92.2 917.3h0M61.2 919.7h0M86 919.8h0M110.7 919.8h0M172.6 924.9h0M79.7 927.2h0M104.5 927.3h0M122.9 939.7h0M159.9 949.8h0"/><path stroke="#c3583d" d="M160.8 870.1h0M160.7 875.1h0M185.5 875.1h0M179.3 877.6h0M105 882.4h0M129.7 887.5h0M111 894.9h0M104.8 897.4h0"/><path stroke="#aa5753" d="M179.3 872.6h0M123.6 875h0M111.2 880h0M160.7 880h0M185.4 880.1h0M135.8 890h0M172.9 890h0"/><path stroke="#b5584a" d="M136 875h0M117.4 877.5h0M142.1 877.5h0M135.9 880h0M173.1 880.1h0M129.7 882.5h0"/><path stroke="#c5583b" d="M148.5 865.1h0M160.8 865.1h0M129.8 872.5h0M142.2 872.5h0M166.9 872.6h0M173.1 875.1h0M148.3 880h0M191.6 882.6h0M117.3 887.4h0M166.8 887.5h0M191.5 887.6h0M111.1 889.9h0M160.6 890h0M185.3 890h0M117.2 892.4h0"/><path stroke="#a85755" d="M136 870h0M173.2 870.1h0M166.8 882.5h0M166.7 892.5h0M191.4 897.5h0M104.7 902.4h0"/><path stroke="#ba5846" d="M142.3 867.6h0M167 867.6h0M111.1 884.9h0"/><path stroke="#a65656" d="M154.7 862.6h0M154.6 867.6h0M104.9 887.4h0M179.2 887.5h0M191.5 892.5h0"/><path stroke="#9b8066" d="M86.2 899.8h0M228.5 902.6h0M222.3 905h0M228.4 907.5h0M49 909.7h0M246.9 915h0M228.3 917.5h0M73.6 919.7h0M222.1 920h0M234.5 920h0M246.9 920h0M104.5 922.3h0M178.8 922.4h0M123 929.8h0M178.7 932.4h0M98.2 934.7h0M203.4 937.4h0M166.2 942.3h0M172.3 949.8h0"/><path stroke="#90806e" d="M86.3 894.9h0M79.9 907.3h0M253.1 912.6h0M203.6 917.5h0M178.7 927.4h0M172.4 934.8h0M184.7 944.8h0"/><path stroke="#ab7f55" d="M197.8 880.1h0M92.5 892.4h0M98.6 894.9h0M234.7 905.1h0M259.4 905.1h0M253.2 907.6h0M98.5 909.8h0M209.8 910h0M191.3 912.5h0M67.5 917.2h0M191.2 917.4h0M67.4 922.2h0M98.3 924.8h0M123.1 924.8h0M197.3 924.9h0M141.5 932.3h0M166.3 932.3h0M191 932.4h0M135.3 934.8h0M141.5 937.3h0M191 937.4h0M153.8 942.3h0M160 944.8h0M166.1 947.3h0M135.2 949.7h0M141.3 952.2h0M153.7 952.2h0"/><path stroke="#7b7c80" d="M98.7 889.9h0M222.4 890.1h0M222.2 915h0M104.4 932.2h0"/><path stroke="#bc5844" d="M154.5 877.5h0M117.3 882.5h0M123.4 889.9h0M185.3 895h0"/><path stroke="#c1583f" d="M123.6 880h0M154.5 882.5h0M179.2 882.6h0M123.5 885h0M160.6 885h0M111 899.9h0M185.2 900h0"/><path stroke="#ac5752" d="M129.8 877.5h0M142.1 882.5h0M104.9 892.4h0M179.1 892.5h0M191.4 902.5h0"/><path stroke="#c75738" d="M148.4 870.1h0M166.9 877.6h0M191.6 877.6h0M142 887.5h0"/><path stroke="#94806c" d="M222.4 895.1h0M222.3 900.1h0M67.6 907.3h0M197.5 910h0M234.6 910h0M55.1 912.2h0M216 912.5h0M240.8 912.5h0M98.4 914.8h0M55.1 917.2h0M191.2 922.4h0M154 927.3h0M85.9 929.7h0M98.3 929.7h0M153.9 937.3h0M147.6 939.8h0M172.4 939.8h0M184.8 939.8h0M116.7 942.2h0M190.9 942.3h0"/><path stroke="#b85848" d="M154.6 872.6h0M148.4 875h0M173 885h0M185.4 885.1h0M154.4 887.5h0M148.2 890h0M129.6 892.4h0M172.9 895h0"/><path stroke="#b3584c" d="M135.9 885h0M123.4 894.9h0"/><path stroke="#a36a5c" d="M117.2 897.4h0"/><path stroke="#a45658" d="M148.2 885h0"/><path stroke="#9b6963" d="M142 892.5h0M148.1 895h0M129.6 897.4h0M141.9 902.4h0M154.2 902.4h0M104.7 907.3h0M178.9 907.5h0M141.8 912.4h0M172.7 914.9h0M154.1 917.4h0M166.5 917.4h0M123.1 919.8h0M160.2 924.9h0"/><path stroke="#b96a47" d="M135.7 899.9h0M117.1 902.4h0M110.9 904.9h0M135.7 904.9h0M185.2 905h0M123.2 914.8h0M166.4 922.4h0"/><path stroke="#b76a4a" d="M166.7 897.5h0M123.3 899.9h0M117.1 907.4h0M141.8 907.4h0M110.8 909.8h0M135.6 909.9h0M160.3 914.9h0M185 914.9h0M117 917.3h0M141.7 917.4h0M178.8 917.4h0M172.6 919.9h0M141.7 922.3h0"/><path stroke="#a66a59" d="M154.4 892.5h0M135.8 894.9h0M148.1 899.9h0M148 904.9h0M191.3 907.5h0M135.5 914.9h0M147.9 914.9h0M160.2 919.9h0M154 922.4h0M135.4 924.8h0"/><path stroke="#b46a4c" d="M123.3 904.9h0M172.8 905h0M147.8 924.8h0"/><path stroke="#ac6a55" d="M129.5 902.4h0M129.4 907.4h0M160.3 909.9h0M129.4 912.4h0M135.5 919.8h0M129.3 922.3h0"/><path stroke="#966866" d="M141.9 897.4h0M179 897.5h0M172.8 900h0M179 902.5h0M123.2 909.9h0M166.5 912.4h0M178.9 912.4h0"/><path stroke="#986965" d="M154.2 907.4h0M154.1 912.4h0M110.8 914.8h0M147.9 919.9h0"/><path stroke="#a96a57" d="M154.3 897.5h0M148 909.9h0M117 912.3h0"/><path stroke="#af6a52" d="M160.5 895h0M172.7 909.9h0M185.1 910h0"/><path stroke="#bc6944" d="M160.5 900h0M166.6 902.5h0M160.4 904.9h0M129.3 917.3h0"/><path stroke="#946868" d="M166.6 907.4h0"/><path stroke="#988069" d="M228.6 892.6h0M197.6 895h0M197.6 900h0M247.1 900.1h0M209.7 920h0M215.9 922.5h0M222.1 925h0M160.1 934.8h0M147.6 944.8h0M129 947.2h0"/><path stroke="#ab7f55" d="M86.3 868.3h0M197.6 873.5h0M222.4 873.5h0M80 880.7h0M253.2 881h0M222.3 883.5h0M228.4 886h0M36.6 888.1h0M98.5 888.2h0M92.3 890.7h0M197.4 893.4h0M209.8 893.4h0M234.5 898.4h0M79.8 900.6h0M116.9 900.7h0M215.9 900.9h0M79.7 905.6h0M203.5 905.8h0M228.2 905.9h0M110.6 908.2h0M160.1 908.2h0M166.3 910.8h0M215.8 910.8h0M147.7 913.2h0M116.7 915.6h0M129.1 915.7h0M129 925.6h0M159.9 928.2h0"/><path stroke="#988069" d="M86.3 873.3h0M86.2 883.2h0M42.8 885.6h0M55.2 885.7h0M247 888.5h0M104.6 895.7h0M240.7 900.9h0M234.4 903.4h0M104.4 910.6h0M135.3 913.2h0M141.4 920.7h0M159.9 933.1h0M153.6 935.6h0"/><path stroke="#a87f59" d="M204 861h0M98.8 863.3h0M98.6 878.3h0M210 878.5h0M222.3 878.5h0M247.1 878.5h0M49 883.2h0M209.9 883.4h0M79.9 885.7h0M92.3 885.7h0M86.1 888.2h0M79.9 890.7h0M228.4 890.9h0M253.1 891h0M48.9 893.1h0M67.5 895.6h0M73.6 898.1h0M209.7 903.4h0M222.1 903.4h0M129.2 910.7h0M166.2 915.7h0M172.4 918.2h0M184.8 918.2h0M197.1 918.3h0M116.7 920.6h0M153.8 920.7h0M160 923.2h0M172.3 928.2h0"/><path stroke="#817e7b" d="M210.1 863.5h0M98.7 868.3h0M92.4 875.8h0M55.2 880.7h0M98.5 883.2h0M240.8 886h0M265.6 886h0M240.8 891h0M265.5 891h0M234.5 893.4h0M79.8 895.7h0M61.2 898.1h0M222.1 898.4h0M73.6 903.1h0M197.3 903.3h0M184.8 913.3h0M129.1 920.6h0M184.7 923.2h0M135.2 928.1h0"/><path stroke="#94806c" d="M197.8 858.5h0M210.1 868.5h0M222.4 868.5h0M80.1 870.8h0M61.5 878.2h0M203.7 885.9h0M271.7 888.5h0M191.3 890.9h0M73.7 893.2h0M228.3 900.9h0M154 905.8h0M98.3 908.1h0M116.8 910.7h0M172.4 913.2h0M178.6 915.8h0M203.4 915.8h0M147.6 918.2h0"/><path stroke="#7e7d7e" d="M92.5 865.8h0M216.2 871h0M228.6 871h0M210 873.5h0M67.7 875.7h0M228.6 876h0M234.7 878.5h0M203.7 880.9h0M73.8 883.2h0M253.2 886h0M234.6 888.5h0M191.2 895.9h0M253.1 896h0M197.4 898.4h0M215.8 905.9h0M191 910.8h0M160.1 913.2h0M135.2 923.1h0M172.3 923.2h0M166.1 925.7h0"/><path stroke="#9e8063" d="M73.9 873.2h0M73.8 878.2h0M197.6 878.4h0M216.1 885.9h0M240.7 895.9h0M203.5 900.9h0M85.9 908.1h0M92 910.6h0M153.9 910.7h0M203.4 910.8h0M166.2 920.7h0"/><path stroke="#c3583d" d="M179.3 851h0M117.4 855.9h0M166.9 856h0M135.9 858.4h0M173.1 858.5h0M105 860.9h0M117.3 860.9h0M172.9 868.4h0M185.3 868.5h0M104.7 880.8h0"/><path stroke="#b3584c" d="M111.2 858.4h0M117.2 870.8h0M123.4 873.3h0"/><path stroke="#c1583f" d="M167 846h0M123.6 853.4h0M160.7 853.5h0M173.1 853.5h0M129.8 855.9h0M166.8 861h0M191.5 866h0M191.5 871h0"/><path stroke="#b85848" d="M136 848.5h0M148.4 848.5h0M129.8 850.9h0M129.7 860.9h0M160.6 868.4h0M185.2 878.4h0"/><path stroke="#b5584a" d="M142.3 846h0M142.2 851h0M166.9 851h0M179.3 856h0M135.9 863.4h0M129.7 865.9h0"/><path stroke="#ba5846" d="M148.5 843.5h0M154.6 851h0M154.5 860.9h0M185.4 863.5h0M154.4 865.9h0"/><path stroke="#c75738" d="M154.7 841h0M160.7 858.5h0M104.9 865.8h0M185.3 873.4h0"/><path stroke="#ae7f52" d="M203.8 876h0M240.9 876h0M240.9 881h0M67.6 885.7h0M209.8 888.4h0M222.2 888.4h0M259.4 888.5h0M42.8 890.6h0M104.6 890.7h0M203.6 890.9h0M222.2 893.4h0M259.3 893.5h0M86 898.2h0M110.7 898.2h0M98.3 903.2h0M123.1 903.2h0M184.9 903.3h0M135.4 908.2h0M141.5 915.7h0M147.6 923.2h0"/><path stroke="#7b7c80" d="M49 888.1h0M228.3 895.9h0"/><path stroke="#867f77" d="M197.8 863.5h0M197.7 868.5h0M98.6 873.3h0M80.1 875.8h0M216.2 876h0M61.4 883.2h0M92.2 895.7h0M216 895.9h0M92.2 900.7h0M178.8 900.8h0M172.6 903.3h0M129.2 905.7h0M141.6 905.7h0M166.3 905.8h0M123 908.2h0M147.8 908.2h0M98.2 913.1h0M153.9 915.7h0M190.9 920.8h0M153.7 930.6h0"/><path stroke="#a4805c" d="M216.3 866h0M234.8 873.5h0M67.6 880.7h0M216.1 881h0M197.5 883.4h0M73.7 888.2h0M55.1 890.6h0M203.6 895.9h0M98.4 898.2h0M185 898.3h0M191.2 900.8h0M178.7 905.8h0M172.5 908.3h0M110.6 913.1h0M122.9 918.1h0M141.3 930.6h0"/><path stroke="#9b8066" d="M203.9 866h0M92.5 870.8h0M203.9 871h0M86.2 878.2h0M92.4 880.8h0M228.5 881h0M259.4 883.5h0M61.3 893.1h0M98.4 893.2h0M246.9 898.4h0M104.5 900.7h0M104.5 905.7h0M184.9 908.3h0M141.5 910.7h0M135.3 918.2h0M178.6 920.7h0M122.8 923.1h0M141.4 925.6h0M153.8 925.7h0M178.5 925.7h0M147.5 933.1h0"/><path stroke="#ac5752" d="M111.1 863.4h0M173 863.5h0M104.9 870.8h0M104.8 875.8h0"/><path stroke="#a85755" d="M160.8 843.5h0M173.2 848.5h0M136 853.4h0M185.5 853.5h0M123.6 858.4h0M111.1 868.3h0M123.4 868.4h0M148.2 868.4h0M166.7 870.9h0M172.9 873.4h0M111 878.3h0"/><path stroke="#a65656" d="M154.6 846h0M148.4 853.5h0M148.3 858.4h0M142.1 860.9h0M179.2 861h0M123.5 863.4h0M179.2 866h0M111 873.3h0M191.4 880.9h0"/><path stroke="#837e79" d="M234.7 883.5h0M247 883.5h0M61.4 888.2h0M67.5 890.7h0M216 890.9h0M55.1 895.6h0M209.7 898.4h0M67.4 900.6h0M85.9 903.1h0M110.7 903.2h0M92.1 905.6h0M191.1 905.8h0M209.6 908.3h0M222 908.4h0M123 913.2h0M197.2 913.3h0M209.6 913.3h0M191 915.8h0M160 918.2h0M166.1 930.7h0"/><path stroke="#aa5753" d="M160.8 848.5h0M160.6 863.4h0M117.3 865.9h0"/><path stroke="#c5583b" d="M142.1 855.9h0M154.5 856h0M191.6 856h0M185.4 858.5h0M191.6 861h0M142 865.9h0M166.8 865.9h0M135.8 868.4h0M129.6 870.9h0M179.1 870.9h0M191.4 875.9h0"/><path stroke="#9b6963" d="M117.2 875.8h0M135.7 883.3h0M141.8 890.8h0M178.9 890.9h0M154 900.8h0"/><path stroke="#bc5844" d="M148.2 863.4h0"/><path stroke="#90806e" d="M197.5 888.4h0M86 893.2h0M246.9 893.5h0M116.8 905.7h0M197.3 908.3h0M178.7 910.8h0M104.4 915.6h0M110.5 918.1h0M147.5 928.1h0"/><path stroke="#b76a4a" d="M148.1 873.4h0M166.6 880.9h0M104.7 885.8h0M141.8 885.8h0M160.3 888.3h0"/><path stroke="#a66a59" d="M154.3 875.9h0M160.5 878.4h0M110.9 883.3h0M117.1 885.8h0M154.2 885.8h0M185.1 888.4h0M117 890.8h0M110.8 893.2h0M147.9 898.3h0M147.8 903.2h0"/><path stroke="#946868" d="M129.6 875.8h0M148.1 878.4h0M117.1 880.8h0M141.9 880.8h0M154.2 880.9h0M148 883.3h0M135.6 888.3h0M154.1 890.8h0M123.2 893.2h0M135.5 893.3h0M185 893.4h0M135.5 898.2h0M129.3 900.7h0"/><path stroke="#b46a4c" d="M142 870.9h0M166.7 875.9h0M123.3 878.3h0M178.9 885.9h0M160.2 898.3h0"/><path stroke="#af6a52" d="M135.8 873.4h0M172.8 878.4h0M117 895.7h0"/><path stroke="#ac6a55" d="M110.8 888.2h0"/><path stroke="#bc6944" d="M179 875.9h0M123.3 883.3h0M166.6 885.9h0M129.4 890.8h0M166.5 890.8h0M166.4 900.8h0"/><path stroke="#966866" d="M154.4 870.9h0M141.9 875.9h0M129.5 880.8h0M191.3 885.9h0M148 888.3h0M147.9 893.3h0M172.7 893.3h0M141.7 895.8h0M178.8 895.8h0M123.1 898.2h0M172.6 898.3h0"/><path stroke="#a36a5c" d="M135.7 878.3h0M172.7 888.4h0M129.3 895.8h0"/><path stroke="#986965" d="M160.5 873.4h0M179 880.9h0M160.4 883.4h0M123.2 888.3h0M160.3 893.3h0M154.1 895.8h0"/><path stroke="#b96a47" d="M129.4 885.8h0M141.7 900.8h0"/><path stroke="#a96a57" d="M172.8 883.4h0M185.2 883.4h0M166.5 895.8h0M135.4 903.2h0M160.2 903.3h0"/><path stroke="#94806c" d="M216.2 854.4h0M86.2 856.7h0M79.9 864.1h0M240.8 864.4h0M36.6 866.5h0M209.8 866.8h0M79.9 869.1h0M203.6 869.3h0M73.7 871.6h0M203.6 874.3h0M98.3 881.6h0M234.4 881.8h0M85.9 886.5h0M129.2 889.1h0M122.8 901.5h0"/><path stroke="#9e8063" d="M98.5 861.7h0M259.4 861.9h0M42.8 864.1h0M247 866.9h0M216 869.3h0M123.1 881.6h0"/><path stroke="#a87f59" d="M92.5 844.2h0M216.2 849.4h0M228.6 849.4h0M92.4 854.2h0M222.3 856.9h0M55.2 859.1h0M49 861.6h0M61.4 861.6h0M73.8 861.6h0M247 861.9h0M265.6 864.4h0M73.7 866.6h0M104.6 869.1h0M86 871.6h0M259.3 871.9h0M216 874.3h0M86 876.6h0M197.4 876.8h0M246.9 876.8h0M104.5 879.1h0M191.2 879.2h0M184.9 881.7h0M197.3 881.7h0M209.6 886.7h0M184.8 891.7h0M178.6 894.2h0M135.3 896.6h0M153.8 899.1h0M166.2 899.1h0M178.6 899.1h0M190.9 899.2h0M147.6 901.6h0M172.3 901.6h0M184.7 901.6h0M166.1 904.1h0M153.7 909.1h0M153.6 914h0"/><path stroke="#ab7f55" d="M203.9 844.4h0M203.8 854.4h0M61.5 856.6h0M197.6 856.8h0M228.5 859.4h0M86.2 861.6h0M197.5 861.8h0M222.3 861.9h0M67.6 864.1h0M216.1 864.3h0M253.2 864.4h0M55.1 869.1h0M92.3 869.1h0M240.8 869.4h0M253.1 869.4h0M222.2 871.8h0M246.9 871.9h0M253.1 874.4h0M222 886.8h0M141.5 889.1h0M166.3 889.2h0M203.4 889.2h0M104.4 894h0M129.1 894.1h0M110.5 896.5h0M141.4 899.1h0M160 901.6h0M159.9 906.6h0M172.3 906.6h0M147.5 911.5h0"/><path stroke="#837e79" d="M210.1 846.9h0M86.3 851.7h0M210 851.9h0M222.4 851.9h0M67.7 854.1h0M73.8 856.6h0M61.4 866.6h0M42.8 869h0M79.8 874.1h0M98.4 876.6h0M92.2 879.1h0M110.7 881.6h0M172.6 881.7h0M154 884.2h0M110.6 886.6h0M123 886.6h0M184.9 886.7h0M116.8 889.1h0M203.4 894.2h0M160 896.6h0"/><path stroke="#867f77" d="M73.9 851.7h0M247.1 856.9h0M240.9 859.4h0M271.7 866.9h0M191.3 869.3h0M92.2 874.1h0M67.4 879h0M240.7 879.3h0M222.1 881.8h0M129.2 884.1h0M141.6 884.1h0M215.8 884.3h0M98.3 886.6h0M135.4 886.6h0M104.4 889.1h0M98.2 891.5h0M141.5 894.1h0M129.1 899.1h0M135.2 901.6h0M129 904h0"/><path stroke="#7e7d7e" d="M86.3 846.7h0M80.1 849.2h0M92.5 849.2h0M210 856.9h0M234.7 861.9h0M228.4 869.3h0M265.5 869.4h0M104.6 874.1h0M234.5 876.8h0M209.7 881.8h0M178.7 884.2h0M228.2 884.3h0M172.5 886.7h0M178.7 889.2h0M110.6 891.6h0M116.7 894.1h0M191 894.2h0M116.7 899h0M141.4 904.1h0M166.1 909.1h0"/><path stroke="#ae7f52" d="M98.8 841.7h0M216.3 844.4h0M98.7 846.7h0M234.8 851.9h0M55.2 864.1h0M98.5 866.6h0M67.5 869.1h0M55.1 874h0M191.2 874.3h0M110.7 876.6h0M85.9 881.6h0M166.3 884.2h0M92 889h0M191 889.2h0M160.1 891.6h0M172.4 891.7h0M209.6 891.7h0M197.1 896.7h0M153.8 904.1h0M147.5 906.6h0"/><path stroke="#c75738" d="M160.7 831.9h0M185.5 831.9h0M105 839.3h0M117.3 839.3h0"/><path stroke="#c3583d" d="M167 824.4h0M160.8 826.9h0M136 831.8h0M111.2 836.8h0M148.2 846.8h0M129.6 849.3h0M104.7 859.2h0"/><path stroke="#ba5846" d="M154.6 829.4h0M117.4 834.3h0M129.8 834.3h0M104.9 844.2h0M154.4 844.3h0M185.2 856.8h0"/><path stroke="#ac5752" d="M148.4 826.9h0M123.6 831.8h0M148.4 831.9h0M142.1 834.3h0M148.2 841.8h0M191.5 844.4h0M166.7 849.3h0"/><path stroke="#c5583b" d="M154.6 824.4h0M136 826.9h0M173.2 826.9h0M129.8 829.3h0M173.1 831.9h0M135.9 836.8h0M142.1 839.3h0M179.2 839.4h0M123.4 846.8h0M185.3 846.9h0M104.9 849.2h0M111 851.7h0M185.3 851.8h0M111 856.7h0"/><path stroke="#b85848" d="M142.3 824.4h0M173 841.9h0M166.8 844.3h0M172.9 846.8h0M117.2 849.2h0M172.9 851.8h0"/><path stroke="#a85755" d="M148.5 821.9h0M185.4 836.9h0M179.2 844.4h0M111.1 846.7h0M179.1 849.3h0M191.5 849.4h0M123.4 851.7h0M191.4 854.3h0"/><path stroke="#a45658" d="M154.7 819.4h0"/><path stroke="#a4805c" d="M197.8 836.9h0M204 839.4h0M203.9 849.4h0M228.6 854.4h0M98.6 856.7h0M216.1 859.4h0M49 866.6h0M86.1 866.6h0M259.4 866.9h0M61.3 871.6h0M98.4 871.6h0M73.6 876.6h0M209.7 876.8h0M203.5 879.3h0M73.6 881.5h0M116.8 884.1h0M191.1 884.2h0M147.7 891.6h0M153.9 894.1h0M141.3 909h0"/><path stroke="#988069" d="M197.7 846.9h0M67.6 859.1h0M80 859.1h0M203.7 859.3h0M209.9 861.8h0M203.7 864.3h0M234.5 871.8h0M160.1 886.7h0M197.3 886.7h0M215.8 889.2h0M135.3 891.6h0M147.6 896.6h0M172.4 896.6h0"/><path stroke="#817e7b" d="M197.8 841.9h0M80.1 854.2h0M92.3 864.1h0M67.5 874.1h0M61.2 876.5h0M185 876.7h0M79.8 879.1h0M116.9 879.1h0M178.8 879.2h0M92.1 884.1h0M147.8 886.6h0M123 891.6h0M178.5 904.1h0M135.2 906.5h0M159.9 911.6h0"/><path stroke="#b5584a" d="M173.1 836.9h0M166.8 839.4h0M191.6 839.4h0M111.1 841.8h0M135.8 846.8h0M160.6 846.8h0M191.4 859.3h0"/><path stroke="#bc5844" d="M166.9 829.4h0M123.6 836.8h0M148.3 836.8h0"/><path stroke="#a65656" d="M142.2 829.4h0M154.5 834.4h0M154.5 839.3h0M123.5 841.8h0"/><path stroke="#aa5753" d="M160.8 821.9h0M179.3 829.4h0M191.6 834.4h0M129.7 839.3h0M135.9 841.8h0M142 844.3h0"/><path stroke="#9b8066" d="M210.1 841.9h0M197.6 851.9h0M240.9 854.4h0M234.7 856.9h0M253.2 859.4h0M228.4 864.4h0M197.5 866.8h0M222.2 866.8h0M234.6 866.9h0M48.9 871.5h0M197.4 871.8h0M209.8 871.8h0M228.3 874.3h0M240.7 874.3h0M222.1 876.8h0M228.3 879.3h0M79.7 884h0M104.5 884.1h0M153.9 889.1h0M197.2 891.7h0M122.9 896.6h0M184.8 896.7h0"/><path stroke="#90806e" d="M98.6 851.7h0M92.4 859.2h0M215.9 879.3h0M203.5 884.2h0M166.2 894.1h0"/><path stroke="#c1583f" d="M166.9 834.4h0M179.3 834.4h0M160.6 841.8h0M117.3 844.3h0M129.7 844.3h0"/><path stroke="#b3584c" d="M160.7 836.9h0M185.4 841.9h0M104.8 854.2h0"/><path stroke="#b76a4a" d="M160.5 851.8h0M117.2 854.2h0M148.1 856.8h0M185.2 861.8h0M110.8 866.7h0M123.2 866.7h0M148 866.7h0M172.7 866.8h0M147.9 876.7h0M160.2 876.7h0M141.7 879.2h0M160.2 881.7h0"/><path stroke="#a66a59" d="M154.4 849.3h0M104.7 864.2h0M178.9 869.3h0M123.1 876.6h0"/><path stroke="#b96a47" d="M110.9 861.7h0M141.8 864.2h0M185.1 866.8h0M135.5 871.7h0M166.5 874.2h0M166.4 879.2h0"/><path stroke="#966866" d="M141.9 854.3h0M117.1 859.2h0M154.2 859.3h0M172.8 861.8h0M117.1 864.2h0M117 869.2h0M129.4 869.2h0M160.3 871.7h0M154 879.2h0"/><path stroke="#bc6944" d="M142 849.3h0M123.3 856.7h0M135.7 856.7h0M147.8 881.7h0"/><path stroke="#92676a" d="M135.8 851.8h0M129.6 854.2h0"/><path stroke="#986965" d="M154.3 854.3h0M123.3 861.7h0M160.3 866.7h0M185 871.8h0M141.7 874.2h0M135.4 881.6h0"/><path stroke="#af6a52" d="M129.5 859.2h0M141.9 859.2h0M166.6 864.3h0M172.7 871.7h0M178.8 874.2h0M172.6 876.7h0"/><path stroke="#9b6963" d="M148.1 851.8h0M148 861.7h0M160.4 861.8h0M154.2 864.2h0M141.8 869.2h0M154.1 869.2h0M147.9 871.7h0M129.3 874.2h0M154.1 874.2h0"/><path stroke="#ac6a55" d="M135.7 861.7h0M135.6 866.7h0M166.5 869.2h0M110.8 871.6h0M135.5 876.7h0"/><path stroke="#946868" d="M166.7 854.3h0M179 854.3h0M160.5 856.8h0M179 859.3h0M129.4 864.2h0M191.3 864.3h0"/><path stroke="#a36a5c" d="M117 874.1h0M129.3 879.1h0"/><path stroke="#a96a57" d="M178.9 864.3h0M123.2 871.7h0"/><path stroke="#b46a4c" d="M172.8 856.8h0M166.6 859.3h0"/><path stroke="#7b7c80" d="M222.4 846.9h0"/><path stroke="#a87f59" d="M197.7 825.3h0M67.7 832.6h0M73.8 835.1h0M86.2 835.1h0M247.1 835.3h0M92.4 837.6h0M61.4 840h0M222.3 840.3h0M36.6 845h0M86.1 845h0M197.5 845.2h0M271.7 845.3h0M42.8 847.5h0M79.9 847.5h0M216 852.7h0M228.2 862.7h0M129.2 867.5h0M191 867.6h0M147.7 870h0M184.8 870.1h0M141.5 872.5h0M141.4 877.5h0M147.6 880h0M129 882.5h0M166.1 882.5h0M159.9 885h0M166.1 887.5h0"/><path stroke="#7e7d7e" d="M203.9 822.8h0M98.7 825.1h0M222.4 825.3h0M73.9 830.1h0M98.6 830.1h0M210 830.3h0M80.1 832.6h0M203.8 832.8h0M216.1 837.8h0M209.9 840.3h0M42.8 842.5h0M216.1 842.8h0M253.1 847.8h0M98.4 850h0M234.5 850.3h0M203.5 857.7h0M240.7 857.7h0M166.3 862.6h0M203.4 867.6h0M135.3 875h0M147.6 875h0M197.1 875.1h0M129.1 877.5h0M135.2 885h0M147.5 890h0"/><path stroke="#ae7f52" d="M98.8 820.2h0M92.5 827.6h0M86.3 830.1h0M210 835.3h0M49 840h0M67.6 842.5h0M73.7 845h0M191.2 852.7h0M79.8 857.5h0M123.1 860h0M222.1 860.2h0M98.2 870h0M104.4 872.5h0M160 875h0M122.8 880h0M153.8 882.5h0"/><path stroke="#9b8066" d="M197.8 820.3h0M216.2 832.8h0M55.2 837.5h0M203.7 837.8h0M228.5 837.8h0M55.2 842.5h0M216 847.7h0M203.6 852.7h0M197.4 855.2h0M209.7 855.2h0M191.2 857.7h0M209.7 860.2h0M166.3 867.6h0M178.7 867.6h0M135.3 870h0M166.2 872.6h0M184.8 875.1h0"/><path stroke="#a4805c" d="M92.4 832.6h0M228.6 832.8h0M61.5 835h0M197.6 835.3h0M259.4 840.3h0M79.9 842.5h0M49 845h0M209.8 845.2h0M104.6 847.6h0M240.8 847.8h0M55.1 852.5h0M61.2 855h0M98.4 855h0M185 855.2h0M85.9 860h0M98.3 860h0M234.4 860.2h0M92.1 862.5h0M104.5 862.5h0M215.8 862.7h0M123 865h0M153.9 867.6h0M172.4 875.1h0"/><path stroke="#ab7f55" d="M197.8 815.3h0M80.1 827.6h0M222.4 830.3h0M240.9 832.8h0M80 837.6h0M86.2 840.1h0M234.7 840.3h0M240.8 842.8h0M253.2 842.8h0M265.6 842.8h0M234.6 845.3h0M55.1 847.5h0M228.4 847.8h0M48.9 850h0M73.7 850h0M86 850h0M104.6 852.5h0M240.7 852.8h0M222.1 855.2h0M234.5 855.2h0M67.4 857.5h0M215.9 857.7h0M197.3 860.2h0M203.5 862.7h0M85.9 865h0M172.5 865.1h0M184.9 865.1h0M197.3 865.1h0M215.8 867.7h0M160.1 870.1h0M197.2 870.1h0M203.4 872.6h0M116.7 877.5h0M178.6 877.6h0M190.9 877.6h0M135.2 880h0M160 880h0M184.7 880.1h0M178.5 882.5h0"/><path stroke="#988069" d="M216.3 822.8h0M86.3 825.1h0M197.6 830.3h0M67.6 837.5h0M73.8 840h0M73.6 855h0M246.9 855.3h0M110.6 865h0M129.1 872.5h0M191 872.6h0M172.3 880h0M172.3 885h0M153.6 892.5h0"/><path stroke="#867f77" d="M204 817.8h0M92.5 822.6h0M234.8 830.3h0M259.4 845.3h0M209.8 850.2h0M246.9 850.3h0M92.2 852.5h0M92.2 857.5h0M104.5 857.5h0M160.1 865.1h0M172.4 870.1h0M116.7 872.5h0M166.2 877.5h0"/><path stroke="#c1583f" d="M105 817.7h0M191.4 832.8h0"/><path stroke="#c3583d" d="M111.2 815.2h0M111.1 820.2h0M160.6 820.3h0M166.8 822.8h0M191.5 827.8h0M104.7 837.6h0"/><path stroke="#9b6963" d="M117.4 812.7h0M123.6 815.2h0M154.5 817.8h0M135.8 830.2h0M166.7 832.7h0M148 840.2h0M117.1 842.6h0M172.7 850.2h0M135.5 855.1h0"/><path stroke="#a36a5c" d="M123.6 810.2h0"/><path stroke="#986965" d="M148.4 805.3h0M129.8 807.8h0M166.9 807.8h0M179.3 812.8h0M166.8 817.8h0M154.4 827.7h0M185.2 840.2h0M154.2 842.7h0"/><path stroke="#946868" d="M148.5 800.3h0M142.3 802.8h0M154.6 802.8h0M136 805.3h0M135.9 815.2h0M148.3 815.3h0M117.1 837.6h0M154.2 837.7h0M148 845.1h0M166.5 847.7h0M147.9 850.1h0M166.5 852.6h0"/><path stroke="#b96a47" d="M154.7 797.8h0M167 802.8h0M148.4 810.3h0M142.1 817.7h0M129.6 832.7h0M141.9 832.7h0M110.9 840.1h0M135.6 845.1h0M172.7 845.2h0M117 847.6h0M110.8 850.1h0M123.2 850.1h0M123.1 855.1h0M141.7 857.6h0"/><path stroke="#b5584a" d="M104.9 822.7h0"/><path stroke="#a65656" d="M117.3 817.7h0M191.6 817.8h0M123.5 820.2h0M148.2 820.2h0M160.6 825.2h0M172.9 825.3h0M185.3 825.3h0M104.9 827.6h0M172.9 830.2h0"/><path stroke="#b76a4a" d="M129.8 812.7h0M142.1 812.8h0M154.5 812.8h0M173.1 815.3h0M148.1 830.2h0M160.5 830.2h0M123.3 835.1h0M135.7 835.2h0M123.3 840.1h0M160.3 845.2h0M135.5 850.1h0M160.3 850.1h0M129.3 857.6h0M160.2 860.1h0"/><path stroke="#b46a4c" d="M173.2 805.3h0M136 810.3h0M129.5 837.6h0M141.8 842.6h0M178.8 852.7h0M160.2 855.1h0M154 857.6h0"/><path stroke="#92676a" d="M142.2 807.8h0"/><path stroke="#bc6944" d="M160.8 800.3h0M154.6 807.8h0M148.1 835.2h0M129.4 842.6h0M178.9 842.7h0M123.2 845.1h0M129.4 847.6h0M154.1 847.6h0M129.3 852.6h0M141.7 852.6h0"/><path stroke="#94806c" d="M210.1 820.3h0M210.1 825.3h0M98.6 835.1h0M197.5 840.2h0M61.4 845h0M203.6 847.7h0M61.3 850h0M259.3 850.3h0M79.8 852.5h0M228.3 852.7h0M110.7 855h0M228.3 857.7h0M110.7 860h0M184.9 860.1h0M191.1 862.6h0M147.8 865.1h0M222 865.2h0M141.3 887.5h0"/><path stroke="#ac5752" d="M111.1 825.2h0M129.6 827.7h0M179.1 827.8h0"/><path stroke="#c75738" d="M117.3 822.7h0M142 822.7h0M154.4 822.7h0M111 830.1h0M185.3 830.3h0M185.2 835.2h0M191.4 837.7h0"/><path stroke="#a66a59" d="M166.9 812.8h0M129.7 817.7h0M142 827.7h0M117.2 832.6h0M179 832.7h0M160.5 835.2h0M160.4 840.2h0M166.6 842.7h0M191.3 842.7h0M185 850.2h0"/><path stroke="#966866" d="M160.8 805.3h0M179.3 807.8h0M154.3 832.7h0M166.6 837.7h0M104.7 842.6h0M185.1 845.2h0M141.8 847.6h0M166.4 857.6h0M135.4 860.1h0"/><path stroke="#837e79" d="M222.3 835.3h0M240.9 837.8h0M253.2 837.8h0M203.7 842.7h0M228.4 842.8h0M98.5 845.1h0M67.5 847.5h0M191.3 847.7h0M265.5 847.8h0M67.5 852.5h0M116.9 857.5h0M154 862.6h0M209.6 865.2h0M116.8 867.5h0M123 870h0M209.6 870.1h0M141.4 882.5h0"/><path stroke="#a85755" d="M104.8 832.6h0"/><path stroke="#aa5753" d="M173 820.3h0M129.7 822.7h0M148.2 825.2h0M117.2 827.7h0M111 835.1h0"/><path stroke="#a45658" d="M123.4 825.2h0M135.8 825.2h0"/><path stroke="#ba5846" d="M135.9 820.2h0M179.2 822.8h0M123.4 830.2h0"/><path stroke="#a96a57" d="M160.7 810.3h0M173.1 810.3h0M179 837.7h0M135.7 840.1h0M117 852.6h0M147.9 855.1h0M147.8 860.1h0"/><path stroke="#817e7b" d="M203.9 827.8h0M216.2 827.8h0M228.6 827.8h0M234.7 835.3h0M247 840.3h0M92.3 842.6h0M222.2 845.3h0M92.3 847.5h0M197.4 850.2h0M172.6 860.1h0M79.7 862.5h0M116.8 862.5h0M129.2 862.5h0M141.6 862.6h0M135.4 865h0M92 867.5h0M110.6 870h0M153.9 872.5h0M122.9 875h0M159.9 890h0"/><path stroke="#9e8063" d="M98.5 840.1h0M247 845.3h0M222.2 850.2h0M86 855h0M178.8 857.6h0M73.6 860h0M178.7 862.6h0M104.4 867.5h0M141.5 867.5h0M178.6 872.6h0M110.5 875h0M153.8 877.5h0M147.5 885h0M153.7 887.5h0"/><path stroke="#ac6a55" d="M160.7 815.3h0M172.8 835.2h0M141.9 837.7h0M154.1 852.6h0M172.6 855.1h0"/><path stroke="#af6a52" d="M185.5 810.3h0M172.8 840.2h0M110.8 845.1h0M178.9 847.7h0"/><path stroke="#c5583b" d="M191.6 812.8h0M179.2 817.8h0M166.7 827.7h0"/><path stroke="#bc5844" d="M185.4 815.3h0"/><path stroke="#b85848" d="M185.4 820.3h0M191.5 822.8h0"/><path stroke="#90806e" d="M253.1 852.8h0M98.3 865h0"/><path stroke="#7e7d7e" d="M160.8 778.8h0M142.3 781.2h0M191.6 791.3h0M247.1 813.8h0M141.9 816.1h0M216.1 816.2h0M247 818.7h0M55.2 820.9h0M203.7 821.2h0M36.6 823.4h0M98.5 823.5h0M247 823.7h0M79.9 825.9h0M228.4 826.2h0M73.7 828.4h0M234.5 828.7h0M104.6 831h0M73.6 833.4h0M116.9 836h0M203.5 841.1h0M172.5 843.5h0M197.3 843.6h0M129.2 845.9h0M166.2 851h0M184.8 853.5h0M141.4 855.9h0M184.7 858.5h0M153.6 870.9h0"/><path stroke="#867f77" d="M148.5 778.7h0M197.8 793.8h0M216.2 806.2h0M240.9 811.3h0M172.8 813.6h0M92.4 816h0M98.5 818.5h0M259.4 818.8h0M42.8 820.9h0M92.3 821h0M49 823.4h0M203.6 826.1h0M86 828.4h0M222.2 828.7h0M259.3 828.7h0M79.8 835.9h0M172.6 838.5h0M209.7 838.6h0M110.6 843.4h0M98.2 848.4h0M129 860.9h0"/><path stroke="#817e7b" d="M136 783.7h0M173.2 783.8h0M80.1 806h0M148.1 808.6h0M222.4 808.7h0M166.7 811.1h0M253.2 816.3h0M49 818.4h0M135.7 818.6h0M148 818.6h0M67.6 820.9h0M73.7 823.4h0M197.5 823.6h0M240.8 826.2h0M178.8 836.1h0M92.1 840.9h0M178.7 841h0M141.5 846h0M215.8 846.1h0M184.8 848.5h0M178.6 851h0M160 853.5h0M122.8 858.4h0M166.1 860.9h0"/><path stroke="#9b8066" d="M98.8 798.6h0M222.4 803.8h0M73.9 808.5h0M203.8 811.2h0M228.6 811.2h0M148.1 813.6h0M55.2 815.9h0M203.7 816.2h0M48.9 828.4h0M234.5 833.7h0M191.1 841.1h0M123 843.4h0M184.9 843.5h0M209.6 843.6h0M123 848.4h0M172.3 858.5h0M141.3 865.9h0"/><path stroke="#a4805c" d="M148.4 783.7h0M203.9 806.2h0M197.6 808.7h0M92.4 811h0M61.5 813.5h0M73.8 813.5h0M228.4 821.2h0M222.2 823.7h0M259.4 823.7h0M61.3 828.4h0M79.8 830.9h0M253.1 831.2h0M86 833.4h0M215.9 836.1h0M98.3 838.4h0M135.3 848.4h0M116.7 855.9h0M153.8 855.9h0M141.4 860.9h0M153.8 860.9h0"/><path stroke="#a87f59" d="M154.6 781.2h0M105 796.1h0M204 796.3h0M197.8 798.7h0M98.7 803.6h0M67.7 811h0M80.1 811h0M154.3 811.1h0M216.2 811.2h0M123.3 813.6h0M80 816h0M61.4 818.4h0M160.4 818.6h0M197.5 818.7h0M197.4 828.6h0M246.9 828.7h0M55.1 830.9h0M67.5 830.9h0M98.4 833.4h0M110.7 833.5h0M185 833.6h0M197.4 833.6h0M67.4 835.9h0M92.2 835.9h0M79.7 840.9h0M228.2 841.1h0M222 843.6h0M92 845.9h0M104.4 845.9h0M166.3 846h0M191 846h0M209.6 848.6h0M116.7 850.9h0M153.9 851h0M191 851h0M147.6 853.4h0M166.2 856h0M190.9 856h0M178.5 861h0M166.1 865.9h0M159.9 868.4h0"/><path stroke="#988069" d="M86.3 803.5h0M92.5 806h0M129.6 811.1h0M141.9 811.1h0M154.2 816.1h0M166.6 816.1h0M234.7 818.7h0M216.1 821.2h0M265.6 821.3h0M67.5 825.9h0M222.1 833.6h0M184.9 838.6h0M234.4 838.6h0M116.8 840.9h0M215.8 841.1h0M147.6 858.4h0M147.5 868.4h0"/><path stroke="#94806c" d="M210.1 798.8h0M92.5 801.1h0M135.8 808.6h0M234.8 808.8h0M135.7 813.6h0M234.7 813.7h0M67.6 816h0M129.5 816.1h0M73.8 818.5h0M209.9 818.7h0M79.9 821h0M234.6 823.7h0M240.7 831.2h0M110.7 838.4h0M123.1 838.5h0M104.5 840.9h0M154 841h0M116.8 845.9h0M104.4 850.9h0M172.3 863.4h0M153.7 865.9h0"/><path stroke="#b46a4c" d="M154.6 786.2h0M123.6 788.7h0M142.1 791.2h0M111.2 793.6h0M160.6 798.7h0M191.5 801.2h0M179 816.1h0M172.7 823.6h0M117 826h0M154.1 831h0M147.9 833.5h0M154 836h0M160.2 838.5h0"/><path stroke="#bc6944" d="M117.4 791.1h0M104.9 801.1h0M111.1 803.6h0M154.2 821.1h0M123.2 823.5h0M178.9 826.1h0M123.1 833.5h0"/><path stroke="#b76a4a" d="M129.8 786.2h0M173.1 793.7h0M117.3 796.1h0M166.8 796.2h0M135.9 798.6h0M148.2 798.7h0M135.8 803.6h0M172.9 808.7h0M123.3 818.5h0M104.7 821h0M166.6 821.1h0M160.3 828.6h0M166.5 831.1h0"/><path stroke="#ab7f55" d="M154.7 776.3h0M167 781.3h0M179.3 786.3h0M185.5 788.8h0M191.6 796.2h0M203.9 801.2h0M142 806.1h0M228.6 806.3h0M86.2 813.5h0M160.5 813.6h0M197.6 813.7h0M210 813.7h0M222.3 813.7h0M86.2 818.5h0M240.8 821.2h0M209.8 823.7h0M191.3 826.1h0M253.1 826.2h0M265.5 826.2h0M92.2 830.9h0M216 831.1h0M61.2 833.4h0M246.9 833.7h0M228.3 836.1h0M135.4 843.5h0M153.9 846h0M110.6 848.4h0M122.9 853.4h0M135.3 853.4h0M197.1 853.5h0M129.1 855.9h0M178.6 856h0"/><path stroke="#837e79" d="M160.8 783.7h0M197.7 803.7h0M154.4 806.1h0M117.2 811.1h0M240.9 816.2h0M253.2 821.2h0M42.8 825.9h0M55.1 825.9h0M92.3 826h0M98.4 828.5h0M209.8 828.6h0M191.2 836.1h0M203.5 836.1h0M197.3 838.6h0M222.1 838.6h0M141.6 841h0M166.3 841h0M147.8 843.5h0M178.7 846h0M172.4 848.5h0M197.2 848.5h0M110.5 853.4h0M135.2 858.4h0"/><path stroke="#90806e" d="M210.1 803.7h0M86.3 808.5h0M228.5 816.2h0M104.5 835.9h0M73.6 838.4h0M129.2 841h0M172.4 853.5h0"/><path stroke="#966866" d="M136 788.7h0M148.3 793.7h0M160.7 793.7h0M129.7 796.1h0M142.1 796.2h0M111.1 798.6h0M117.2 806.1h0M185.2 818.6h0M110.8 823.5h0M166.4 836h0"/><path stroke="#a66a59" d="M129.8 791.2h0M154.5 791.2h0M123.6 793.6h0M172.9 803.7h0M110.9 818.5h0M185.1 823.6h0M141.8 826h0M172.7 828.6h0M141.7 831h0M178.8 831.1h0"/><path stroke="#b96a47" d="M142.2 786.2h0M123.4 803.6h0M160.6 803.7h0M166.7 806.2h0M117.1 821h0M141.8 821.1h0M178.9 821.1h0M135.6 823.5h0M110.8 828.5h0M147.9 828.5h0M117 831h0M129.3 831h0"/><path stroke="#ae7f52" d="M216.3 801.3h0M160.5 808.6h0M210 808.7h0M179 811.2h0M98.6 813.5h0M61.4 823.4h0M271.7 823.8h0M104.6 826h0M191.2 831.1h0M203.6 831.1h0M240.7 836.2h0M85.9 838.4h0M85.9 843.4h0M98.3 843.4h0M160.1 843.5h0M160.1 848.5h0M129.1 850.9h0M141.5 850.9h0M203.4 851h0M160 858.4h0M159.9 863.4h0"/><path stroke="#9e8063" d="M98.6 808.5h0M222.3 818.7h0M86.1 823.5h0M216 826.2h0M228.3 831.2h0M209.7 833.6h0M203.4 846.1h0M147.7 848.5h0M135.2 863.4h0M147.5 863.4h0"/><path stroke="#c5583b" d="M104.9 806.1h0M191.5 806.2h0"/><path stroke="#986965" d="M154.5 796.2h0M117.3 801.1h0M179.2 801.2h0M123.4 808.6h0M166.5 826.1h0M160.2 833.5h0M147.8 838.5h0"/><path stroke="#946868" d="M148.4 788.7h0M179.2 796.2h0M123.5 798.6h0M129.6 806.1h0M185 828.6h0M135.5 833.5h0M141.7 836h0"/><path stroke="#92676a" d="M135.9 793.7h0M154.4 801.2h0"/><path stroke="#c3583d" d="M104.8 811h0"/><path stroke="#9b6963" d="M166.9 786.2h0M179.3 791.2h0M185.4 793.7h0M173 798.7h0M185.4 798.7h0M179.1 806.2h0M111 808.6h0M154.1 826.1h0M172.6 833.6h0M129.3 836h0M135.4 838.5h0"/><path stroke="#a96a57" d="M166.9 791.2h0M129.7 801.1h0M148.2 803.6h0M185.3 808.7h0M172.8 818.6h0M160.3 823.6h0"/><path stroke="#af6a52" d="M160.7 788.7h0M173.1 788.7h0M166.8 801.2h0M129.4 821h0M148 823.6h0"/><path stroke="#b5584a" d="M185.2 813.7h0M104.7 816h0"/><path stroke="#bc5844" d="M111 813.5h0"/><path stroke="#ac6a55" d="M142 801.1h0M185.3 803.7h0M117.1 816h0M129.4 826h0M123.2 828.5h0M135.5 828.5h0"/><path stroke="#ac5752" d="M191.4 811.2h0"/><path stroke="#b85848" d="M191.4 816.2h0"/><path stroke="#a36a5c" d="M191.3 821.1h0"/><path stroke="#90806e" d="M167 759.7h0M216.1 794.6h0M36.6 801.8h0M110.8 806.9h0M79.8 809.3h0M234.5 812.1h0M104.5 814.3h0M178.7 819.4h0"/><path stroke="#94806c" d="M160.8 757.2h0M173 777.1h0M117.3 779.5h0M191.5 779.6h0M185.3 787.1h0M80 794.4h0M73.8 796.9h0M42.8 799.3h0M265.6 799.7h0M86.1 801.9h0M67.5 804.3h0M104.6 809.4h0M191.2 809.5h0M240.7 809.6h0M98.4 811.8h0M147.8 816.9h0M92.1 819.3h0M129.2 819.4h0M160.1 821.9h0M160.1 826.9h0M184.8 826.9h0M166.2 829.4h0M160 831.9h0"/><path stroke="#867f77" d="M148.5 757.1h0M142.3 759.6h0M173.2 762.2h0M135.9 772.1h0M129.7 774.5h0M142.1 774.6h0M179.2 774.6h0M135.9 777h0M179.2 779.6h0M222.4 782.2h0M129.6 784.5h0M67.7 789.4h0M92.4 789.4h0M141.9 789.5h0M179 789.6h0M61.5 791.9h0M49 796.8h0M209.9 797.1h0M259.4 797.2h0M79.9 799.4h0M203.7 799.6h0M216.1 799.6h0M228.4 799.6h0M240.8 799.6h0M259.4 802.1h0M117 804.4h0M154.1 804.5h0M197.4 807h0M166.5 809.5h0M185 812h0M67.4 814.3h0M110.7 816.8h0M154 819.4h0M209.6 822h0M116.8 824.3h0M203.4 824.5h0M191 829.4h0M147.6 831.8h0M116.7 834.3h0M135.2 836.8h0M159.9 846.8h0M153.6 849.3h0"/><path stroke="#ae7f52" d="M136 762.1h0M173.1 767.1h0M185.5 767.2h0M148.3 772.1h0M185.4 772.1h0M129.7 779.5h0M166.8 779.6h0M216.3 779.7h0M86.3 781.9h0M80.1 784.4h0M228.6 784.7h0M98.6 786.9h0M117.2 789.5h0M191.4 789.6h0M111 791.9h0M55.2 794.3h0M98.5 796.9h0M141.8 799.5h0M110.8 801.9h0M197.5 802h0M240.8 804.6h0M67.5 809.3h0M253.1 809.6h0M79.8 814.3h0M166.4 814.4h0M215.9 814.5h0M197.3 817h0M85.9 821.8h0M172.5 821.9h0M147.5 846.8h0"/><path stroke="#988069" d="M154.6 759.6h0M142.2 764.6h0M166.9 769.6h0M191.6 774.6h0M98.8 777h0M160.6 782.1h0M73.9 786.9h0M86.3 786.9h0M172.9 787.1h0M222.4 787.1h0M73.8 791.9h0M104.7 794.4h0M234.7 797.1h0M191.3 799.5h0M222.1 812h0M228.3 814.5h0M123 821.8h0M153.9 824.4h0M215.8 824.5h0M135.3 831.8h0M129.1 834.3h0M141.4 834.3h0M172.3 841.8h0"/><path stroke="#ab7f55" d="M129.8 764.6h0M179.3 769.6h0M123.6 772h0M166.8 774.6h0M123.5 777h0M210.1 777.2h0M92.5 779.5h0M111.1 782h0M135.8 782h0M179.1 784.6h0M135.8 787h0M240.9 789.7h0M98.6 791.9h0M135.7 792h0M160.5 792h0M185.2 792.1h0M197.6 792.1h0M247.1 792.2h0M141.9 794.5h0M154.2 794.5h0M61.4 801.8h0M123.2 801.9h0M160.3 802h0M222.2 802.1h0M92.3 804.4h0M48.9 806.8h0M209.8 807h0M92.2 809.3h0M203.6 809.5h0M228.3 809.6h0M73.6 811.8h0M172.6 812h0M246.9 812.1h0M191.2 814.5h0M73.6 816.8h0M172.6 816.9h0M104.5 819.3h0M141.6 819.4h0M191.1 819.5h0M98.3 821.8h0M110.6 821.8h0M222 822h0M135.3 826.8h0M141.5 829.3h0M153.9 829.4h0M203.4 829.4h0M110.5 831.8h0M197.1 831.9h0M129 839.3h0M141.4 839.3h0M178.5 839.4h0M147.5 841.8h0M166.1 844.3h0"/><path stroke="#9b8066" d="M160.7 767.1h0M191.6 769.7h0M105 774.5h0M154.5 774.6h0M172.9 782.1h0M154.4 784.5h0M111 787h0M210 792.1h0M92.4 794.4h0M191.4 794.6h0M148 797h0M92.3 799.4h0M104.6 804.4h0M222.2 807.1h0M234.5 807.1h0M172.3 836.9h0M141.3 844.3h0"/><path stroke="#a87f59" d="M123.6 767.1h0M136 767.1h0M117.4 769.5h0M154.5 769.6h0M111.2 772h0M204 774.7h0M111.1 777h0M98.7 782h0M123.4 782h0M203.9 784.6h0M197.6 787.1h0M216.2 789.6h0M172.8 792h0M228.5 794.6h0M55.2 799.3h0M67.6 799.3h0M98.5 801.9h0M79.9 804.3h0M265.5 804.6h0M73.7 806.8h0M86 806.8h0M61.2 811.8h0M110.7 811.9h0M197.4 812h0M209.7 812h0M116.8 819.3h0M203.5 819.5h0M141.5 824.4h0M178.7 824.4h0M110.6 826.8h0M147.7 826.9h0M129.1 829.3h0M178.6 829.4h0M166.2 834.4h0M153.8 839.3h0M166.1 839.3h0"/><path stroke="#817e7b" d="M154.7 754.7h0M160.7 772.1h0M197.8 772.2h0M185.4 777.1h0M104.9 779.5h0M142 779.5h0M104.9 784.5h0M117.2 784.5h0M191.5 784.6h0M104.8 789.4h0M166.6 794.5h0M203.7 794.6h0M222.3 797.1h0M178.9 799.5h0M209.8 802.1h0M55.1 804.3h0M216 804.6h0M246.9 807.1h0M259.3 807.1h0M178.8 814.5h0M203.5 814.5h0M85.9 816.8h0M184.9 817h0M234.4 817h0M215.8 819.5h0M184.9 821.9h0M191 824.4h0M123 826.8h0M172.4 826.9h0M197.2 826.9h0M104.4 829.3h0M190.9 834.4h0M122.8 836.8h0M160 836.8h0M184.7 836.9h0"/><path stroke="#9e8063" d="M129.8 769.6h0M160.6 777.1h0M166.7 784.6h0M123.4 787h0M61.4 796.8h0M247 797.1h0M73.7 801.8h0M42.8 804.3h0M191.3 804.5h0M123.2 806.9h0M222.1 817h0M172.4 831.9h0"/><path stroke="#837e79" d="M160.8 762.1h0M154.6 764.6h0M142.1 769.6h0M148.2 777.1h0M197.8 777.1h0M210.1 782.1h0M234.8 787.2h0M222.3 792.1h0M67.6 794.4h0M240.9 794.6h0M253.2 794.7h0M197.5 797.1h0M253.2 799.6h0M49 801.8h0M135.6 801.9h0M148 802h0M271.7 802.2h0M228.4 804.6h0M98.4 806.9h0M55.1 809.3h0M116.9 814.4h0M135.4 821.9h0M129.2 824.3h0M122.9 831.8h0M147.6 836.8h0M159.9 841.8h0"/><path stroke="#7b7c80" d="M80.1 789.4h0M228.2 819.5h0M104.4 824.3h0"/><path stroke="#a4805c" d="M148.4 762.1h0M166.9 764.6h0M148.4 767.1h0M203.9 779.6h0M148.2 782h0M197.7 782.1h0M92.5 784.4h0M203.8 789.6h0M228.6 789.6h0M234.7 792.1h0M234.6 802.1h0M247 802.1h0M253.1 804.6h0M61.3 806.8h0M216 809.5h0M92.2 814.3h0M240.7 814.6h0M98.3 816.8h0M209.7 817h0M166.3 819.4h0M166.3 824.4h0M98.2 826.8h0M184.8 831.9h0M178.6 834.4h0M135.2 841.8h0"/><path stroke="#7e7d7e" d="M179.3 764.7h0M173.1 772.1h0M117.3 774.5h0M154.4 779.6h0M185.3 782.1h0M142 784.5h0M216.2 784.6h0M210 787.1h0M86.2 791.9h0M86.2 796.9h0M123.3 796.9h0M104.7 799.4h0M117.1 799.4h0M203.6 804.5h0M86 811.8h0M123.1 811.9h0M123.1 816.9h0M79.7 819.3h0M147.8 821.9h0M197.3 822h0M92 824.3h0M209.6 827h0M116.7 829.3h0M153.8 834.3h0M153.7 844.3h0"/><path stroke="#2d80d7" d="M160.5 787h0M166.7 789.5h0M129.5 794.5h0M110.9 796.9h0M135.7 797h0M154.2 799.5h0M129.4 804.4h0M160.2 811.9h0M160.2 816.9h0"/><path stroke="#497cb5" d="M123.3 792h0M117.1 794.4h0M179 794.5h0"/><path stroke="#4e7baf" d="M129.6 789.5h0M148.1 792h0M166.6 799.5h0M154.1 809.4h0M135.5 811.9h0M135.4 816.9h0"/><path stroke="#5879a2" d="M148.1 787h0M172.8 797h0M172.7 802h0M160.3 807h0M178.8 809.5h0"/><path stroke="#2a81dc" d="M185.2 797h0M129.4 799.4h0M166.5 804.5h0M147.9 806.9h0M172.7 807h0M185 807h0"/><path stroke="#2881de" d="M154.3 789.5h0"/><path stroke="#537aa8" d="M141.8 804.4h0M117 809.4h0M129.3 809.4h0M141.7 814.4h0M154 814.4h0"/><path stroke="#447cbb" d="M135.5 806.9h0"/><path stroke="#2c80da" d="M160.4 797h0M185.1 802h0M178.9 804.5h0M147.9 811.9h0M129.3 814.4h0"/><path stroke="#2f80d5" d="M141.7 809.4h0"/><path fill="#f00" fill-opacity="0.2" d="M535.7 801.7L535.7 801.1L535.6 800.5L535.4 799.9L535.2 799.3L535 798.7L534.6 798.1L534.3 797.5L533.9 796.9L533.4 796.3L532.9 795.7L532.3 795.2L531.7 794.6L531 794L530.3 793.5L529.6 793L528.8 792.4L527.9 791.9L527 791.4L526.1 790.9L525.1 790.5L524.1 790L523 789.6L522 789.1L520.8 788.7L519.7 788.3L518.5 788L517.2 787.6L516 787.2L514.7 786.9L513.4 786.6L512 786.3L510.6 786L509.2 785.8L507.8 785.6L506.4 785.3L505 785.2L503.5 785L502 784.8L500.5 784.7L499 784.6L497.5 784.5L496 784.4L494.5 784.4L492.9 784.4L491.4 784.4L489.9 784.4L488.4 784.4L486.8 784.5L485.3 784.6L483.8 784.7L482.3 784.8L480.8 784.9L479.4 785.1L477.9 785.3L476.5 785.5L475.1 785.7L473.7 786L472.3 786.2L470.9 786.5L469.6 786.8L468.3 787.2L467 787.5L465.8 787.9L464.6 788.2L463.4 788.6L462.3 789L461.2 789.5L460.1 789.9L459.1 790.4L458.1 790.8L457.1 791.3L456.2 791.8L455.4 792.3L454.6 792.8L453.8 793.4L453.1 793.9L452.4 794.5L451.8 795L451.2 795.6L450.7 796.2L450.2 796.8L449.8 797.3L449.4 797.9L449.1 798.5L448.8 799.1L448.6 799.8L448.4 800.4L448.3 801L448.2 801.6L448.2 931.1L448.3 930.5L448.4 929.9L448.6 929.3L448.8 928.7L449.1 928.1L449.4 927.5L449.8 926.9L450.2 926.3L450.7 925.7L451.2 925.1L451.8 924.5L452.4 924L453.1 923.4L453.8 922.9L454.6 922.4L455.4 921.8L456.2 921.3L457.1 920.8L458.1 920.3L459.1 919.9L460.1 919.4L461.2 919L462.3 918.6L463.4 918.1L464.6 917.8L465.8 917.4L467 917L468.3 916.7L469.6 916.4L470.9 916L472.3 915.8L473.7 915.5L475.1 915.2L476.5 915L477.9 914.8L479.4 914.6L480.8 914.5L482.3 914.3L483.8 914.2L485.3 914.1L486.8 914L488.4 913.9L489.9 913.9L491.4 913.9L492.9 913.9L494.5 913.9L496 913.9L497.5 914L499 914.1L500.5 914.2L502 914.3L503.5 914.5L505 914.7L506.4 914.9L507.8 915.1L509.2 915.3L510.6 915.6L512 915.8L513.4 916.1L514.7 916.4L516 916.8L517.2 917.1L518.5 917.5L519.7 917.8L520.8 918.2L522 918.7L523 919.1L524.1 919.5L525.1 920L526.1 920.5L527 920.9L527.9 921.4L528.8 921.9L529.6 922.5L530.3 923L531 923.5L531.7 924.1L532.3 924.7L532.9 925.2L533.4 925.8L533.9 926.4L534.3 927L534.6 927.6L535 928.2L535.2 928.8L535.4 929.4L535.6 930L535.7 930.6L535.7 931.2Z"/><path fill="#f00" fill-opacity="0.2" d="M448.2 802.2L448.3 802.8L448.4 803.4L448.5 804L448.7 804.7L449 805.3L449.3 805.9L449.7 806.5L450.1 807.1L450.5 807.6L451.1 808.2L451.6 808.8L452.2 809.3L452.9 809.9L453.6 810.4L454.4 811L455.2 811.5L456 812L456.9 812.5L457.9 813L458.8 813.5L459.8 813.9L460.9 814.4L462 814.8L463.1 815.2L464.3 815.6L465.5 816L466.7 816.4L468 816.7L469.3 817L470.6 817.3L471.9 817.6L473.3 817.9L474.7 818.1L476.1 818.4L477.5 818.6L479 818.8L480.5 819L481.9 819.1L483.4 819.2L484.9 819.3L486.4 819.4L488 819.5L489.5 819.5L491 819.6L492.5 819.6L494.1 819.6L495.6 819.5L497.1 819.5L498.6 819.4L500.1 819.3L501.6 819.1L503.1 819L504.6 818.8L506 818.6L507.5 818.4L508.9 818.2L510.3 818L511.7 817.7L513 817.4L514.3 817.1L515.6 816.8L516.9 816.4L518.2 816.1L519.4 815.7L520.5 815.3L521.7 814.9L522.8 814.5L523.8 814L524.9 813.6L525.9 813.1L526.8 812.6L527.7 812.1L528.6 811.6L529.4 811.1L530.1 810.6L530.9 810L531.5 809.5L532.2 808.9L532.8 808.3L533.3 807.8L533.8 807.2L534.2 806.6L534.6 806L534.9 805.4L535.2 804.8L535.4 804.2L535.5 803.6L535.7 803L535.7 802.3L535.7 931.9L535.7 932.5L535.5 933.1L535.4 933.7L535.2 934.3L534.9 934.9L534.6 935.5L534.2 936.1L533.8 936.7L533.3 937.3L532.8 937.9L532.2 938.4L531.5 939L530.9 939.5L530.1 940.1L529.4 940.6L528.6 941.1L527.7 941.6L526.8 942.1L525.9 942.6L524.9 943.1L523.8 943.5L522.8 944L521.7 944.4L520.5 944.8L519.4 945.2L518.2 945.6L516.9 945.9L515.6 946.3L514.3 946.6L513 946.9L511.7 947.2L510.3 947.5L508.9 947.7L507.5 947.9L506 948.2L504.6 948.3L503.1 948.5L501.6 948.7L500.1 948.8L498.6 948.9L497.1 949L495.6 949L494.1 949.1L492.5 949.1L491 949.1L489.5 949.1L488 949L486.4 948.9L484.9 948.9L483.4 948.7L481.9 948.6L480.5 948.5L479 948.3L477.5 948.1L476.1 947.9L474.7 947.7L473.3 947.4L471.9 947.1L470.6 946.8L469.3 946.5L468 946.2L466.7 945.9L465.5 945.5L464.3 945.1L463.1 944.7L462 944.3L460.9 943.9L459.8 943.4L458.8 943L457.9 942.5L456.9 942L456 941.5L455.2 941L454.4 940.5L453.6 940L452.9 939.4L452.2 938.9L451.6 938.3L451.1 937.7L450.5 937.1L450.1 936.6L449.7 936L449.3 935.4L449 934.8L448.7 934.2L448.5 933.6L448.4 932.9L448.3 932.3L448.2 931.7Z"/><path stroke="#ab7f55" d="M548 882.6h0M442.7 889.9h0M554.1 890.1h0M436.5 892.4h0M554 895.1h0M566.3 900.1h0M399.2 902.3h0M572.5 902.6h0M411.6 907.3h0M380.6 909.7h0M590.9 915h0M411.5 917.2h0M578.5 920h0M411.4 922.2h0M423.8 922.2h0M559.9 922.5h0M436.1 927.2h0M559.8 927.4h0M436 932.2h0M510.2 937.3h0M535 937.4h0M466.9 939.7h0M491.6 939.8h0M460.7 942.2h0M473.1 942.2h0M485.4 942.3h0M466.8 944.7h0M497.8 947.3h0M479.2 949.7h0M485.3 952.2h0M497.7 952.2h0"/><path stroke="#a87f59" d="M541.7 890.1h0M417.9 894.8h0M442.6 894.9h0M584.9 897.6h0M405.5 899.8h0M430.2 899.8h0M442.6 899.9h0M578.7 900.1h0M591.1 900.1h0M430.2 904.8h0M436.3 907.3h0M572.4 907.5h0M584.8 907.6h0M411.5 912.3h0M547.6 912.5h0M541.4 915h0M578.5 915h0M399.1 917.2h0M423.8 917.3h0M584.7 917.5h0M553.7 920h0M535.1 922.4h0M417.6 924.7h0M467.1 924.8h0M473.2 927.3h0M547.5 927.4h0M572.2 927.5h0M491.8 929.8h0M504.1 929.8h0M485.5 932.3h0M497.9 932.3h0M442.2 934.7h0M516.5 934.8h0M547.4 937.4h0M504 939.8h0M510.2 942.3h0M479.2 944.7h0M516.3 944.8h0M473 947.2h0M503.9 949.8h0M497.6 957.2h0"/><path stroke="#c5583b" d="M467.6 880h0M449 882.4h0"/><path stroke="#c75738" d="M511 872.6h0M498.5 877.5h0M510.9 877.6h0M523.3 877.6h0M455.2 880h0"/><path stroke="#c1583f" d="M498.6 872.6h0M504.7 875.1h0M461.4 877.5h0M504.7 880h0M510.8 882.5h0M455.1 884.9h0M535.5 887.6h0"/><path stroke="#c3583d" d="M504.8 865.1h0M486.3 867.6h0M480 870h0M523.3 872.6h0M529.5 875.1h0M535.6 877.6h0M492.3 880h0M461.3 882.5h0M473.7 882.5h0M504.6 885h0M448.9 887.4h0M455.1 889.9h0M473.6 892.4h0M467.4 894.9h0M529.2 900h0M535.4 902.5h0"/><path stroke="#ae7f52" d="M566.4 890.1h0M547.9 892.6h0M430.3 894.9h0M597.2 902.6h0M578.7 905.1h0M399.2 907.3h0M417.7 909.8h0M386.8 912.2h0M392.9 914.7h0M597.1 917.5h0M448.4 932.2h0M547.4 932.4h0M454.6 934.7h0M473.1 937.3h0M522.6 937.3h0M528.8 939.8h0M522.6 942.3h0M528.7 944.8h0M491.5 954.7h0M503.9 954.7h0"/><path stroke="#a4805c" d="M547.9 887.6h0M560.2 892.6h0M572.6 892.6h0M578.8 895.1h0M572.5 897.6h0M411.6 902.3h0M584.9 902.6h0M591 910.1h0M572.4 912.5h0M417.7 914.8h0M603.3 915.1h0M417.6 919.7h0M553.7 924.9h0M578.4 925h0M559.8 932.4h0M497.8 942.3h0M534.9 942.3h0M491.6 944.8h0"/><path stroke="#2a81dc" d="M436.4 897.4h0M547.7 907.5h0M560.1 907.5h0M430.1 909.8h0M442.5 909.8h0M553.9 910h0M448.6 912.3h0M541.4 919.9h0M516.6 924.9h0M541.3 924.9h0M460.8 927.3h0M504.1 934.8h0"/><path stroke="#6d5896" d="M498.5 882.5h0M473.7 887.5h0M523.2 887.5h0M448.9 892.4h0M461.2 892.4h0M535.5 892.5h0M448.8 897.4h0"/><path stroke="#6f5894" d="M461.3 887.4h0M486 887.5h0M455 899.9h0"/><path stroke="#6b5999" d="M467.5 885h0M479.9 885h0M510.7 892.5h0M523.1 892.5h0M455 894.9h0"/><path stroke="#be5842" d="M486.1 877.5h0"/><path stroke="#2c80da" d="M541.6 895h0M436.4 902.3h0M442.5 904.8h0M423.9 907.3h0M560 912.5h0M430 919.8h0M454.7 919.8h0M529 919.9h0M436.2 922.3h0M448.5 922.3h0M522.8 922.4h0M547.5 922.4h0M442.3 924.8h0M454.7 924.8h0M510.3 927.4h0M467 929.8h0M479.4 929.8h0M460.8 932.3h0M473.2 932.3h0M479.3 934.8h0"/><path stroke="#6c5997" d="M486.1 882.5h0M492.2 885h0M498.4 887.5h0M510.8 887.5h0M467.4 889.9h0M479.8 890h0M516.9 890h0"/><path stroke="#2d80d7" d="M547.8 897.5h0M423.9 912.3h0M535.3 912.5h0M436.2 917.3h0M535.2 917.4h0M485.6 927.3h0M516.5 929.9h0M510.3 932.3h0M522.7 932.4h0"/><path stroke="#82557d" d="M492.2 890h0M448.7 902.4h0"/><path stroke="#64679b" d="M461.2 897.4h0"/><path stroke="#537aa8" d="M541.6 900h0M436.3 912.3h0M430 914.8h0M460.9 922.3h0M448.5 927.3h0M535.1 927.4h0"/><path stroke="#4d6bb8" d="M448.7 907.3h0M535.3 907.5h0"/><path stroke="#b76a4a" d="M486 892.5h0"/><path stroke="#497cb5" d="M541.5 905h0M553.9 905h0M442.4 914.8h0M454.6 929.8h0M485.5 937.3h0"/><path stroke="#506bb5" d="M498.4 892.5h0M523 897.5h0"/><path stroke="#8c5370" d="M504.6 890h0M529.3 890h0M529.3 895h0M535.4 897.5h0"/><path stroke="#7e5681" d="M517 885h0"/><path stroke="#4e7baf" d="M547.7 902.5h0M442.4 919.8h0M528.9 924.9h0M498 927.3h0M522.7 927.4h0M528.9 929.9h0"/><path stroke="#2881de" d="M554 900h0M553.8 915h0M448.6 917.3h0M467 934.8h0M491.7 934.8h0M497.9 937.3h0"/><path stroke="#855578" d="M516.9 895h0"/><path stroke="#a1805f" d="M541.8 885.1h0M554.1 885.1h0M566.2 915h0M504 944.8h0"/><path stroke="#5879a2" d="M541.5 910h0"/><path stroke="#447cbb" d="M547.6 917.5h0"/><path stroke="#a1805f" d="M541.8 858.5h0M554 873.5h0M591.1 878.5h0M424 880.7h0M393 883.2h0M405.4 883.2h0M393 888.1h0M411.5 890.7h0M572.4 890.9h0M417.7 893.2h0M578.5 893.4h0M560 895.9h0M553.6 908.3h0M460.7 915.6h0M466.9 918.1h0M497.8 920.7h0M516.3 923.2h0"/><path stroke="#a4805c" d="M436.5 865.8h0M547.9 866h0M560.3 866h0M572.6 871h0M430.3 873.3h0M572.5 876h0M584.9 876h0M578.7 878.5h0M399.2 880.7h0M615.7 888.5h0M597.1 891h0M566.1 898.4h0M559.9 900.9h0M572.2 905.9h0M442.3 908.1h0M566 908.4h0M448.4 910.6h0M535 910.8h0M454.6 913.1h0M510.2 915.7h0M522.6 915.8h0M473.1 920.6h0M479.2 923.1h0M491.6 923.2h0M497.8 925.7h0M510.1 925.7h0M522.5 925.7h0M503.9 928.2h0M491.5 933.1h0M503.9 933.1h0"/><path stroke="#a87f59" d="M442.8 863.3h0M554.1 863.5h0M436.5 870.8h0M417.9 873.2h0M411.7 875.7h0M405.5 878.2h0M442.6 878.3h0M553.9 883.4h0M603.4 883.5h0M442.5 888.2h0M553.9 888.4h0M578.6 888.5h0M603.4 888.5h0M547.6 890.9h0M430 893.2h0M442.4 893.2h0M399.1 895.6h0M411.5 895.6h0M535.1 900.8h0M572.3 900.9h0M516.6 903.3h0M460.8 905.7h0M535.1 905.8h0M547.5 905.8h0M467 908.2h0M436 910.6h0M547.4 910.8h0M442.2 913.1h0M467 913.2h0M541.2 913.3h0M448.4 915.6h0M473.1 915.7h0M504 918.2h0M541.1 918.3h0M460.7 920.6h0M485.4 920.7h0M534.9 920.8h0M466.8 923.1h0M504 923.2h0"/><path stroke="#c1583f" d="M498.7 841h0M498.6 851h0M511 851h0M473.8 855.9h0M467.6 858.4h0M449 860.9h0M461.3 860.9h0"/><path stroke="#c75738" d="M517.1 853.5h0M529.5 853.5h0M455.2 858.4h0"/><path stroke="#c3583d" d="M492.5 843.5h0M498.6 846h0M467.6 853.4h0M504.7 853.5h0M461.4 855.9h0M529.4 858.5h0M510.8 861h0M523.2 861h0M448.9 865.8h0M448.9 870.8h0M467.4 873.3h0M529.2 878.4h0M448.7 880.8h0"/><path stroke="#be5842" d="M480 848.5h0M504.7 858.5h0M535.5 866h0"/><path stroke="#ab7f55" d="M541.8 863.5h0M541.7 868.5h0M554.1 868.5h0M547.9 871h0M424.1 875.8h0M560.1 881h0M578.7 883.5h0M591 883.5h0M609.5 891h0M572.3 895.9h0M584.7 895.9h0M411.4 900.6h0M553.7 903.4h0M423.7 905.6h0M429.9 908.1h0M541.3 908.3h0M528.8 913.3h0M547.4 915.8h0M454.5 918.1h0M479.3 918.2h0M516.4 918.2h0M522.6 920.7h0"/><path stroke="#ae7f52" d="M560.2 876h0M566.3 878.5h0M597.2 881h0M411.6 885.7h0M572.4 886h0M590.9 893.5h0M405.2 898.1h0M417.6 898.1h0M584.7 900.9h0M429.9 903.1h0M559.8 905.9h0M491.6 918.2h0M473 925.6h0M485.4 925.6h0M516.3 928.2h0"/><path stroke="#537aa8" d="M436.4 875.8h0M430.2 878.2h0M448.5 900.7h0M528.9 903.3h0M448.5 905.7h0M504.1 908.2h0M473.2 910.7h0"/><path stroke="#497cb5" d="M442.6 873.3h0M436.2 900.7h0M460.9 900.7h0M454.6 908.2h0"/><path stroke="#855578" d="M455.1 868.3h0"/><path stroke="#6d5896" d="M467.5 863.4h0M517 863.5h0M461.3 865.9h0M479.8 868.4h0M492.2 868.4h0M461.2 870.8h0M473.6 870.9h0M510.7 870.9h0M516.9 873.4h0"/><path stroke="#2a81dc" d="M541.6 873.5h0M547.8 876h0M554 878.5h0M436.4 880.8h0M541.5 883.4h0M423.9 885.7h0M547.7 885.9h0M541.5 888.4h0M436.3 890.7h0M541.4 893.4h0M436.2 895.7h0M448.6 895.7h0M547.6 895.9h0M547.5 900.9h0M485.6 905.7h0M522.7 905.8h0M497.9 910.7h0M510.3 910.8h0M479.3 913.2h0"/><path stroke="#2881de" d="M430.2 883.2h0M553.8 893.4h0M430 898.2h0M529 898.3h0M467.1 903.2h0M479.4 908.2h0M491.8 908.2h0M516.5 908.3h0M460.8 910.7h0M485.5 910.7h0M522.7 910.8h0M485.5 915.7h0"/><path stroke="#6f5894" d="M492.2 863.4h0M504.6 863.4h0M523.2 866h0M467.4 868.4h0M448.8 875.8h0M535.4 880.9h0"/><path stroke="#7e5681" d="M498.5 860.9h0M455 873.3h0"/><path stroke="#6c5997" d="M473.7 865.9h0M486 865.9h0M498.4 865.9h0M510.8 865.9h0M504.6 868.4h0M516.9 868.4h0M529.3 868.5h0M535.5 871h0M529.3 873.4h0M535.4 875.9h0M455 878.3h0"/><path stroke="#6b5999" d="M479.9 863.4h0M523.1 870.9h0"/><path stroke="#82557d" d="M486.1 860.9h0"/><path stroke="#c5583b" d="M517.2 848.5h0M523.3 856h0"/><path stroke="#4e7baf" d="M423.9 890.7h0M454.7 898.2h0"/><path stroke="#5879a2" d="M430.1 888.2h0"/><path stroke="#2d80d7" d="M541.6 878.4h0M436.3 885.7h0M560.1 885.9h0M553.7 898.4h0M541.3 903.3h0M473.2 905.7h0M498 905.8h0M510.3 905.8h0M516.5 913.2h0M497.9 915.7h0"/><path stroke="#2c80da" d="M547.7 880.9h0M442.5 883.2h0M448.6 890.7h0M535.3 890.9h0M560 890.9h0M535.2 895.9h0M442.4 898.2h0M541.4 898.4h0M522.8 900.8h0M442.3 903.2h0M454.7 903.2h0M528.9 908.3h0M491.7 913.2h0M504.1 913.2h0"/><path stroke="#b76a4a" d="M498.4 870.9h0M461.2 875.8h0"/><path stroke="#506bb5" d="M486 870.9h0M448.7 885.8h0"/><path stroke="#4d6bb8" d="M523 875.9h0"/><path stroke="#4e6bb6" d="M535.3 885.9h0"/><path stroke="#a87f59" d="M541.8 836.9h0M547.9 844.4h0M541.7 846.9h0M554.1 846.9h0M554 851.9h0M424.1 854.2h0M560.2 854.4h0M417.8 856.6h0M430.2 856.7h0M541.6 856.8h0M399.2 859.1h0M411.6 859.1h0M424 859.1h0M572.5 859.4h0M597.2 864.4h0M380.6 866.5h0M417.7 866.6h0M578.6 866.9h0M597.1 869.4h0M603.3 871.9h0M597.1 874.4h0M442.4 876.6h0M553.7 876.8h0M460.9 879.1h0M584.7 879.3h0M429.9 881.6h0M442.3 881.6h0M566.1 881.8h0M498 884.2h0M510.3 884.2h0M522.7 884.2h0M436 889h0M559.8 889.2h0M467 891.6h0M491.7 891.6h0M497.9 894.1h0M510.2 894.1h0M522.6 894.2h0M479.3 896.6h0M504 901.6h0M497.8 904.1h0M485.3 909h0M503.9 911.6h0"/><path stroke="#a1805f" d="M442.7 846.7h0M424.1 849.2h0M417.9 851.7h0M578.7 856.9h0M603.4 861.9h0M386.8 864.1h0M393 866.6h0M405.3 871.6h0M399.1 874h0M566.1 876.8h0M553.7 881.8h0M436.1 884.1h0M442.3 886.6h0M541.3 886.7h0M442.2 891.5h0M504 896.6h0M460.7 899h0M522.5 904.1h0M516.3 906.6h0M497.7 909.1h0M510.1 909.1h0"/><path stroke="#ab7f55" d="M442.8 841.7h0M430.3 846.7h0M547.9 849.4h0M566.4 851.9h0M578.8 851.9h0M393 861.6h0M566.3 861.9h0M399.2 864.1h0M572.4 869.3h0M566.2 871.8h0M560 874.3h0M423.7 884h0M448.4 894h0M454.5 896.5h0M466.9 896.6h0M473.1 899.1h0M466.8 901.5h0M516.3 901.6h0M497.6 914h0"/><path stroke="#ae7f52" d="M436.5 849.2h0M560.2 849.4h0M411.7 854.1h0M405.5 856.6h0M566.2 866.8h0M392.9 871.5h0M417.7 871.6h0M590.9 871.9h0M423.8 874.1h0M590.9 876.8h0M423.8 879.1h0M559.9 879.3h0M454.6 891.6h0M460.7 894.1h0M491.6 896.6h0"/><path stroke="#c5583b" d="M492.5 821.9h0M504.8 821.9h0M473.8 829.3h0M523.3 834.4h0M449 839.3h0M455.1 841.8h0M448.9 844.2h0"/><path stroke="#c1583f" d="M498.6 824.4h0M467.6 831.8h0M492.4 831.9h0M529.5 831.9h0M473.8 834.3h0M529.4 836.9h0M529.4 841.9h0"/><path stroke="#a4805c" d="M541.8 841.9h0M554.1 841.9h0M566.4 846.9h0M430.3 851.7h0M591.1 856.9h0M560.1 859.4h0M584.9 859.4h0M591 861.9h0M405.4 866.6h0M591 866.9h0M603.4 866.9h0M386.8 869h0M399.1 869.1h0M578.5 871.8h0M572.3 879.3h0M553.6 886.7h0M516.4 896.6h0M528.7 901.6h0M485.4 904.1h0M491.5 906.6h0M491.5 911.5h0"/><path stroke="#be5842" d="M511 824.4h0M511 829.4h0M498.5 834.4h0M461.3 839.3h0"/><path stroke="#2c80da" d="M442.6 851.7h0M541.6 851.9h0M436.4 854.2h0M547.8 854.4h0M554 856.9h0M436.3 864.1h0M541.4 871.8h0M553.8 871.8h0M535.1 879.2h0M460.8 884.1h0M473.2 884.1h0M479.4 886.6h0M516.5 891.7h0"/><path stroke="#c3583d" d="M486.1 834.3h0M510.9 834.4h0M523.2 839.4h0M492.2 846.8h0M448.9 849.2h0M448.7 859.2h0"/><path stroke="#6f5894" d="M486.1 839.3h0M455.1 846.7h0M455 856.7h0"/><path stroke="#6b5999" d="M461.3 844.3h0M467.4 846.8h0M516.9 846.8h0M516.9 851.8h0"/><path stroke="#6c5997" d="M467.5 841.8h0M492.2 841.8h0M479.8 846.8h0M461.2 849.2h0M523.1 849.3h0M535.5 849.4h0"/><path stroke="#c75738" d="M504.8 826.9h0M517.2 826.9h0"/><path stroke="#537aa8" d="M423.9 864.1h0M423.9 869.1h0M541.3 881.7h0M467 886.6h0M485.5 894.1h0"/><path stroke="#2d80d7" d="M547.7 859.3h0M430.2 861.6h0M442.5 861.7h0M442.5 866.6h0M535.3 869.3h0M436.2 874.1h0M547.6 874.3h0M430 876.6h0M491.8 886.6h0M528.9 886.7h0M479.3 891.6h0"/><path stroke="#2a81dc" d="M442.6 856.7h0M436.4 859.2h0M541.5 861.8h0M560.1 864.3h0M541.5 866.8h0M553.9 866.8h0M442.4 871.6h0M454.7 876.6h0M541.4 876.8h0M436.2 879.1h0M448.5 879.1h0M467.1 881.6h0M516.6 881.7h0M454.6 886.6h0M504.1 886.7h0M516.5 886.7h0M460.8 889.1h0M485.5 889.1h0M497.9 889.1h0M522.7 889.2h0"/><path stroke="#6d5896" d="M473.7 844.3h0M523.2 844.4h0M504.6 846.8h0M529.3 846.9h0M448.8 854.2h0M529.2 856.8h0M535.4 859.3h0"/><path stroke="#82557d" d="M498.5 839.3h0M517 841.9h0M486 844.3h0M510.8 844.3h0M455 851.7h0M467.4 851.7h0"/><path stroke="#855578" d="M479.9 841.8h0M504.6 841.8h0M473.6 849.3h0M510.7 849.3h0M529.3 851.8h0M535.4 854.3h0"/><path stroke="#4e7baf" d="M547.7 864.3h0M430.1 866.6h0M529 876.7h0"/><path stroke="#686796" d="M461.2 854.2h0"/><path stroke="#497cb5" d="M560 869.3h0M430 871.6h0M547.5 879.3h0M528.9 881.7h0M473.2 889.1h0M504.1 891.6h0"/><path stroke="#447cbb" d="M436.3 869.1h0"/><path stroke="#4e6bb6" d="M486 849.3h0M523 854.3h0M448.7 864.2h0M535.3 864.3h0"/><path stroke="#895474" d="M498.4 844.3h0"/><path stroke="#5879a2" d="M553.9 861.8h0M448.6 869.1h0M547.6 869.3h0M535.1 884.2h0"/><path stroke="#516ab3" d="M498.4 849.3h0"/><path stroke="#2881de" d="M448.6 874.1h0M535.2 874.3h0M522.8 879.2h0M454.7 881.6h0M448.5 884.1h0M485.6 884.1h0M510.3 889.2h0"/><path stroke="#a87f59" d="M442.8 820.2h0M554.1 825.3h0M436.5 827.6h0M547.9 827.8h0M417.9 830.1h0M424.1 832.6h0M436.4 837.6h0M430.2 840.1h0M442.5 840.1h0M578.7 840.3h0M386.8 842.5h0M423.9 842.5h0M393 845h0M405.4 845h0M417.7 845h0M603.4 845.3h0M615.7 845.3h0M411.5 847.5h0M584.8 847.8h0M597.1 847.8h0M436.2 852.5h0M560 852.7h0M590.9 855.3h0M411.4 857.5h0M559.9 857.7h0M429.9 860h0M578.4 860.2h0M504.1 865.1h0M460.8 867.5h0M473.2 867.5h0M448.4 872.5h0M510.2 872.6h0M460.7 877.5h0M516.3 885h0M510.1 887.5h0M503.9 890h0"/><path stroke="#a1805f" d="M430.3 825.1h0M566.4 825.3h0M578.8 830.3h0M566.2 850.2h0M411.5 852.5h0M473 882.5h0"/><path stroke="#a4805c" d="M436.5 822.6h0M560.3 822.8h0M541.7 825.3h0M430.3 830.1h0M572.5 832.8h0M411.6 837.5h0M560.1 837.8h0M411.6 842.5h0M572.4 847.8h0M423.8 852.5h0M597.1 852.8h0M417.6 855h0M572.3 857.7h0M423.7 862.5h0M429.9 865h0M436 867.5h0M535 867.6h0M559.8 867.7h0M442.2 870h0M547.4 872.6h0M485.4 877.5h0M497.8 877.5h0M510.2 877.5h0M522.6 877.6h0M528.7 880.1h0"/><path stroke="#c3583d" d="M449 817.7h0M467.5 820.2h0M486 822.7h0M498.4 822.7h0M529.3 825.3h0"/><path stroke="#c5583b" d="M455.2 815.2h0M461.3 817.7h0M523.2 817.8h0"/><path stroke="#b46a4c" d="M504.8 800.3h0M486.3 802.8h0M511 802.8h0M498.6 807.8h0M480 810.3h0M461.4 812.7h0"/><path stroke="#bc6944" d="M467.6 810.2h0M504.7 815.3h0M473.7 817.7h0"/><path stroke="#b16a4f" d="M480 805.3h0M504.8 805.3h0M479.9 815.2h0"/><path stroke="#ae7f52" d="M547.9 822.8h0M566.3 840.3h0M399.2 842.5h0M572.4 842.8h0M584.7 852.8h0M417.6 860h0M553.7 860.2h0M448.4 867.5h0M553.6 870.1h0M535 872.6h0M534.9 877.6h0M516.3 880h0M497.8 882.5h0M497.6 892.5h0"/><path stroke="#b76a4a" d="M511 807.8h0M467.6 815.2h0M486.1 817.7h0M510.8 817.8h0M535.3 842.7h0"/><path stroke="#b96a47" d="M498.6 802.8h0M523.3 807.8h0M486.1 812.8h0"/><path stroke="#ab7f55" d="M541.8 815.3h0M572.6 827.8h0M578.7 835.3h0M417.8 840h0M584.8 842.8h0M578.6 845.3h0M399.1 847.5h0M417.7 850h0M578.5 850.3h0M566.1 855.2h0M423.8 857.5h0M584.7 857.7h0M566.1 860.2h0M436.1 862.5h0M559.8 862.7h0M572.2 862.7h0M553.6 865.2h0M566 865.2h0M528.8 870.1h0M541.2 870.1h0M460.7 872.5h0M522.6 872.6h0M504 875h0M528.8 875.1h0M479.2 880h0M491.5 885h0"/><path stroke="#2a81dc" d="M541.6 830.3h0M430.2 835.1h0M442.6 835.1h0M541.6 835.3h0M554 835.3h0M442.5 845.1h0M553.8 850.2h0M547.6 852.7h0M430 855h0M442.4 855h0M541.4 855.2h0M473.2 862.5h0M497.9 867.6h0M467 870h0M504.1 870.1h0M516.5 870.1h0M485.5 872.5h0"/><path stroke="#447cbb" d="M436.4 832.6h0M560 847.7h0M485.5 867.5h0"/><path stroke="#497cb5" d="M442.6 830.1h0M454.7 855h0M448.5 862.5h0M460.8 862.5h0M491.7 870h0"/><path stroke="#6b5999" d="M448.9 827.6h0"/><path stroke="#7e5681" d="M455.1 825.2h0M529.3 830.3h0M535.4 832.8h0M448.7 837.6h0"/><path stroke="#855578" d="M479.9 820.2h0M461.3 822.7h0M467.4 825.2h0M529.2 835.2h0"/><path stroke="#6c5997" d="M517 820.3h0M473.7 822.7h0M479.8 825.2h0M516.9 825.3h0M473.6 827.7h0M467.4 830.2h0M448.8 832.6h0"/><path stroke="#6d5896" d="M523.2 822.8h0M510.7 827.7h0M455 830.1h0M516.9 830.2h0"/><path stroke="#6f5894" d="M492.2 820.2h0M504.6 820.3h0M504.6 825.2h0M461.2 827.7h0M523.1 827.8h0M535.5 827.8h0M535.4 837.7h0"/><path stroke="#537aa8" d="M430.1 845h0M423.9 847.5h0M541.4 850.2h0M460.9 857.5h0M522.8 857.6h0M454.6 865h0M516.5 865.1h0"/><path stroke="#2d80d7" d="M553.9 840.3h0M436.3 842.6h0M535.3 847.7h0M547.6 847.7h0M430 850h0M442.4 850h0M448.6 852.5h0M535.2 852.7h0M529 855.2h0M436.2 857.5h0M547.5 857.7h0M442.3 860h0M516.6 860.1h0M485.6 862.6h0M522.7 862.6h0M522.7 867.6h0M479.3 870h0"/><path stroke="#82557d" d="M492.2 825.2h0M455 835.1h0"/><path stroke="#506bb5" d="M461.2 832.6h0M523 832.7h0M448.7 842.6h0"/><path stroke="#4d6bb8" d="M498.5 817.8h0"/><path stroke="#2c80da" d="M547.8 832.8h0M541.5 840.2h0M541.5 845.2h0M553.9 845.2h0M436.3 847.5h0M448.6 847.6h0M553.7 855.2h0M541.3 860.2h0M535.1 862.6h0M479.4 865h0M491.8 865.1h0M528.9 865.1h0"/><path stroke="#4e6bb6" d="M486 827.7h0"/><path stroke="#686796" d="M498.4 827.7h0"/><path stroke="#895474" d="M510.8 822.8h0"/><path stroke="#be5842" d="M529.4 815.3h0M529.4 820.3h0"/><path stroke="#c1583f" d="M535.6 812.8h0M535.5 822.8h0"/><path stroke="#2881de" d="M547.7 837.8h0M547.7 842.7h0M448.5 857.5h0M467.1 860h0M528.9 860.1h0M498 862.6h0M510.3 862.6h0M467 865h0M510.3 867.6h0M497.9 872.5h0"/><path stroke="#4e7baf" d="M535.1 857.7h0M454.7 860h0"/><path stroke="#5879a2" d="M560.1 842.8h0"/><path stroke="#a1805f" d="M504.8 783.7h0M436.5 806h0M572.6 806.3h0M424.1 811h0M393 818.4h0M399.2 820.9h0M584.8 821.2h0M380.6 823.4h0M417.7 823.4h0M584.8 826.2h0M566.2 828.7h0M399.1 830.9h0M560 831.1h0M553.6 843.6h0M553.6 848.6h0M466.8 858.4h0"/><path stroke="#ab7f55" d="M498.7 776.3h0M480 783.7h0M535.6 796.2h0M541.7 803.7h0M560.2 806.2h0M566.4 808.7h0M584.9 811.3h0M405.5 813.5h0M411.6 816h0M591 818.7h0M603.4 818.8h0M405.4 823.4h0M615.7 823.8h0M399.1 825.9h0M572.4 826.2h0M417.6 833.4h0M584.7 836.2h0M559.8 841.1h0M429.9 843.4h0M448.4 845.9h0M547.4 846.1h0M535 851h0M454.5 853.4h0M479.3 853.4h0M473.1 855.9h0M497.8 855.9h0M479.2 858.4h0M516.3 858.5h0M497.8 860.9h0M479.2 863.4h0M497.7 865.9h0"/><path stroke="#a87f59" d="M541.8 793.8h0M548 796.3h0M547.9 801.2h0M566.4 803.8h0M417.9 808.5h0M554 808.7h0M547.7 816.2h0M405.4 818.4h0M393 823.4h0M436.3 826h0M560 826.2h0M553.8 828.6h0M578.5 828.7h0M423.8 830.9h0M405.2 833.4h0M436.2 835.9h0M528.9 838.6h0M572.2 841.1h0M491.8 843.5h0M516.5 848.5h0M473.1 850.9h0M516.4 853.5h0M541.1 853.5h0M510.2 856h0M504 858.4h0M510.1 865.9h0"/><path stroke="#a4805c" d="M504.8 778.8h0M511 781.3h0M492.4 783.7h0M523.3 786.3h0M535.6 791.3h0M560.3 801.3h0M424.1 806h0M417.8 813.5h0M591.1 813.8h0M424 816h0M572.5 816.2h0M578.7 818.7h0M578.6 823.7h0M591 823.7h0M411.5 825.9h0M392.9 828.4h0M417.7 828.4h0M597.1 831.2h0M578.5 833.7h0M559.9 836.1h0M423.7 840.9h0M436.1 840.9h0M547.5 841.1h0M541.2 848.5h0M466.9 853.4h0M504 853.5h0M528.8 853.5h0M491.5 863.4h0M516.3 863.4h0"/><path stroke="#ae7f52" d="M449 796.1h0M442.8 798.6h0M442.7 803.6h0M560.1 816.2h0M584.9 816.2h0M566.3 818.7h0M597.2 821.2h0M603.4 823.7h0M386.8 825.9h0M609.5 826.2h0M572.3 831.2h0M584.7 831.2h0M436 845.9h0M528.8 848.5h0M448.4 850.9h0M503.9 868.4h0"/><path stroke="#b46a4c" d="M486.2 786.2h0M498.6 786.2h0M492.4 788.7h0M504.7 788.7h0M510.9 791.2h0M455.2 793.6h0"/><path stroke="#b76a4a" d="M467.6 788.7h0M461.4 791.1h0M498.5 791.2h0M486.1 796.2h0M498.5 796.2h0M455.1 798.6h0M479.9 798.6h0M448.9 801.1h0M473.7 801.1h0M523.2 801.2h0M529.3 803.7h0M473.6 806.1h0M529.3 808.7h0"/><path stroke="#b96a47" d="M480 788.7h0M461.3 796.1h0M473.7 796.1h0M510.8 796.2h0M535.5 801.2h0"/><path stroke="#bc6944" d="M467.6 793.6h0M479.9 793.7h0M517.1 793.7h0M529.4 798.7h0"/><path stroke="#2a81dc" d="M430.2 813.5h0M541.6 813.7h0M535.3 826.1h0M430 828.4h0M541.4 828.6h0M535.2 831.1h0M547.6 831.1h0M529 833.6h0M535.1 841.1h0M497.9 846h0M510.3 846h0M522.7 846h0M504.1 848.5h0"/><path stroke="#497cb5" d="M486 806.1h0M436.4 811h0M547.8 811.2h0M442.5 823.5h0M442.4 828.5h0M448.5 835.9h0M442.3 838.4h0M516.6 838.5h0M448.5 840.9h0M498 841h0M516.5 843.5h0M491.7 848.5h0"/><path stroke="#2c80da" d="M498.4 806.1h0M442.6 808.5h0M523 811.2h0M442.6 813.5h0M554 813.7h0M436.4 816h0M430.2 818.5h0M541.5 818.7h0M553.9 818.7h0M436.3 821h0M430.1 823.5h0M442.4 833.4h0M454.7 833.5h0M547.5 836.1h0M541.3 838.6h0M460.8 840.9h0M510.3 841h0M522.7 841h0M467 843.4h0M504.1 843.5h0M528.9 843.5h0"/><path stroke="#6c5997" d="M448.9 806.1h0M535.5 806.2h0M448.8 811h0M455 813.5h0M535.4 816.2h0"/><path stroke="#64679b" d="M510.8 801.2h0M455.1 803.6h0"/><path stroke="#4e6bb6" d="M504.6 798.7h0M461.3 801.1h0M510.7 806.2h0M523.1 806.2h0M467.4 808.6h0"/><path stroke="#506bb5" d="M467.5 798.6h0M492.2 798.7h0M486 801.1h0M467.4 803.6h0M479.8 803.6h0M492.2 803.6h0M461.2 806.1h0M448.7 821h0M535.3 821.1h0"/><path stroke="#b16a4f" d="M486.1 791.2h0"/><path stroke="#2881de" d="M423.9 821h0M547.7 821.2h0M541.5 823.6h0M535.1 836.1h0M454.6 843.4h0M479.4 843.5h0M467 848.4h0M479.3 848.4h0M497.9 851h0"/><path stroke="#686796" d="M498.4 801.2h0M455 808.6h0"/><path stroke="#537aa8" d="M461.2 811.1h0M423.9 825.9h0M436.2 830.9h0M448.6 831h0M522.8 836.1h0"/><path stroke="#2d80d7" d="M541.6 808.7h0M442.5 818.5h0M560.1 821.2h0M553.9 823.7h0M448.6 826h0M547.6 826.1h0M553.7 833.6h0M454.7 838.4h0M467.1 838.5h0M485.6 841h0M485.5 850.9h0"/><path stroke="#6f5894" d="M535.4 811.2h0M448.7 816h0"/><path stroke="#5879a2" d="M430 833.4h0"/><path stroke="#516ab3" d="M504.6 803.7h0M516.9 803.7h0M516.9 808.7h0"/><path stroke="#4d6bb8" d="M517 798.7h0"/><path stroke="#4e7baf" d="M541.4 833.6h0M460.9 836h0M473.2 841h0M460.8 845.9h0M473.2 845.9h0"/><path stroke="#7e5681" d="M529.2 813.7h0"/><path stroke="#447cbb" d="M485.5 846h0"/><path stroke="#a4805c" d="M498.6 759.6h0M473.8 764.6h0M511 764.6h0M467.6 767.1h0M517.1 767.1h0M455.1 777h0M529.4 777.1h0M578.8 787.2h0M417.8 791.9h0M591.1 792.2h0M411.6 794.4h0M572.5 794.6h0M578.7 797.1h0M603.4 797.2h0M411.6 799.3h0M597.2 799.6h0M380.6 801.8h0M386.8 804.3h0M597.1 804.6h0M405.3 806.8h0M566.2 807.1h0M423.8 809.3h0M560 809.5h0M411.4 814.3h0M423.8 814.3h0M417.6 816.8h0M429.9 821.8h0M442.3 821.8h0M473.1 829.3h0M466.9 831.8h0M473.1 834.3h0M485.4 834.3h0M479.2 836.8h0M497.8 839.3h0M522.5 839.4h0"/><path stroke="#a1805f" d="M492.5 757.1h0M480 767.1h0M504.7 767.1h0M498.5 769.6h0M541.8 777.1h0M430.3 786.9h0M560.1 794.6h0M417.8 796.9h0M386.8 799.3h0M399.2 799.3h0M417.7 801.8h0M609.5 804.6h0M590.9 807.1h0M566.1 812h0M429.9 816.8h0M436.1 819.3h0M510.2 829.4h0M485.3 844.3h0"/><path stroke="#ab7f55" d="M504.8 757.2h0M504.8 762.1h0M461.4 769.5h0M492.3 772.1h0M449 774.5h0M523.2 774.6h0M436.5 779.5h0M535.5 779.6h0M560.3 779.7h0M547.9 784.6h0M554 787.1h0M424.1 789.4h0M584.9 789.7h0M424 794.4h0M393 796.8h0M566.3 797.1h0M393 801.8h0M578.6 802.1h0M615.7 802.2h0M392.9 806.8h0M572.3 809.6h0M541.3 822h0M448.4 824.3h0M454.6 826.8h0M553.6 827h0M448.4 829.3h0M535 829.4h0M528.8 831.9h0M510.2 834.4h0M491.6 836.8h0M504 836.8h0M485.4 839.3h0M510.1 839.3h0M503.9 841.8h0M516.3 841.8h0M491.5 846.8h0M503.9 846.8h0"/><path stroke="#a87f59" d="M486.3 759.6h0M517.2 762.2h0M498.6 764.6h0M510.9 769.6h0M455.2 772h0M461.3 774.5h0M486.1 774.6h0M442.8 777h0M504.6 777.1h0M486 779.5h0M510.8 779.6h0M467.4 782h0M479.8 782h0M461.2 784.5h0M467.4 787h0M529.3 787.1h0M411.7 789.4h0M572.5 789.6h0M436.4 794.4h0M572.4 799.6h0M442.5 801.9h0M553.9 802.1h0M399.1 809.3h0M442.4 811.8h0M454.7 811.9h0M578.5 812.1h0M584.7 814.6h0M516.6 816.9h0M553.7 817h0M578.4 817h0M510.3 819.4h0M535.1 819.5h0M572.2 819.5h0M491.8 821.9h0M516.5 821.9h0M460.8 824.3h0M522.7 824.4h0M559.8 824.5h0M442.2 826.8h0M528.8 826.9h0M454.5 831.8h0M541.1 831.9h0M497.8 834.3h0M473 839.3h0M479.2 841.8h0"/><path stroke="#ae7f52" d="M492.4 762.1h0M486.1 769.6h0M504.7 772.1h0M529.4 772.1h0M541.8 772.2h0M510.8 774.6h0M442.7 782h0M572.6 784.7h0M597.1 809.6h0M417.6 811.8h0M566.1 817h0M547.5 819.5h0M547.4 824.5h0M491.6 831.8h0M510.1 844.3h0"/><path stroke="#2881de" d="M504.6 782.1h0M516.9 787.1h0M448.8 789.4h0M430.2 791.9h0M535.3 804.5h0M553.7 812h0M467.1 816.9h0M485.5 824.4h0"/><path stroke="#2a81dc" d="M467.5 777h0M479.9 777h0M523.2 779.6h0M492.2 782h0M510.7 784.6h0M541.6 787.1h0M436.4 789.4h0M523 789.6h0M535.4 789.6h0M455 791.9h0M529.2 792.1h0M554 792.1h0M535.4 794.6h0M423.9 799.4h0M535.3 799.5h0M547.7 799.6h0M436.3 804.4h0M541.4 807h0M460.9 814.4h0M522.8 814.5h0M547.5 814.5h0M541.3 817h0M498 819.4h0M454.6 821.8h0M528.9 821.9h0M473.2 824.3h0M497.9 824.4h0M467 826.8h0M491.7 826.9h0"/><path stroke="#2c80da" d="M455.1 782h0M473.6 784.5h0M535.5 784.6h0M442.6 786.9h0M541.6 792.1h0M553.9 797.1h0M436.3 799.4h0M423.9 804.3h0M553.8 807h0M529 812h0M436.2 814.3h0M448.5 814.3h0M442.3 816.8h0M448.5 819.3h0M473.2 819.4h0M485.6 819.4h0M522.7 819.4h0M504.1 821.9h0M510.3 824.4h0M479.3 826.8h0M516.5 826.9h0M497.9 829.4h0"/><path stroke="#537aa8" d="M448.9 784.5h0M523.1 784.6h0M461.2 789.5h0M442.6 791.9h0M430.1 801.9h0M454.7 816.8h0M460.8 819.3h0"/><path stroke="#2d80d7" d="M498.5 774.6h0M492.2 777.1h0M517 777.1h0M461.3 779.5h0M473.7 779.5h0M498.4 779.6h0M516.9 782.1h0M486 784.5h0M547.8 789.6h0M448.7 794.4h0M547.7 794.6h0M448.7 799.4h0M541.5 802h0M430 806.8h0M436.2 809.3h0M547.6 809.5h0M528.9 817h0M467 821.8h0M479.4 821.9h0"/><path stroke="#4e7baf" d="M529.3 782.1h0M498.4 784.5h0M430.2 796.9h0M442.4 806.9h0M448.6 809.4h0M430 811.8h0M541.4 812h0M535.1 814.5h0M485.5 829.3h0"/><path stroke="#497cb5" d="M455 787h0M448.6 804.4h0M547.6 804.5h0M504.1 826.9h0"/><path stroke="#5879a2" d="M442.5 796.9h0M541.5 797.1h0M560.1 799.6h0M560 804.6h0M535.2 809.5h0"/></g>
<rect x="293.8" y="13.1" width="12.8" height="239.9" fill="url(#jet)" stroke="#262626" stroke-width="0.6"/><line x1="304.1" y1="229.01" x2="306.6" y2="229.01" stroke="#262626" stroke-width="0.75"/><line x1="304.1" y1="205.02" x2="306.6" y2="205.02" stroke="#262626" stroke-width="0.75"/><line x1="304.1" y1="181.03" x2="306.6" y2="181.03" stroke="#262626" stroke-width="0.75"/><line x1="304.1" y1="157.04" x2="306.6" y2="157.04" stroke="#262626" stroke-width="0.75"/><line x1="304.1" y1="133.05" x2="306.6" y2="133.05" stroke="#262626" stroke-width="0.75"/><line x1="304.1" y1="109.06" x2="306.6" y2="109.06" stroke="#262626" stroke-width="0.75"/><line x1="304.1" y1="85.07" x2="306.6" y2="85.07" stroke="#262626" stroke-width="0.75"/><line x1="304.1" y1="61.08" x2="306.6" y2="61.08" stroke="#262626" stroke-width="0.75"/><line x1="304.1" y1="37.09" x2="306.6" y2="37.09" stroke="#262626" stroke-width="0.75"/><rect x="637.8" y="13.1" width="12.8" height="239.9" fill="url(#jet)" stroke="#262626" stroke-width="0.6"/><line x1="648.1" y1="229.01" x2="650.6" y2="229.01" stroke="#262626" stroke-width="0.75"/><line x1="648.1" y1="205.02" x2="650.6" y2="205.02" stroke="#262626" stroke-width="0.75"/><line x1="648.1" y1="181.03" x2="650.6" y2="181.03" stroke="#262626" stroke-width="0.75"/><line x1="648.1" y1="157.04" x2="650.6" y2="157.04" stroke="#262626" stroke-width="0.75"/><line x1="648.1" y1="133.05" x2="650.6" y2="133.05" stroke="#262626" stroke-width="0.75"/><line x1="648.1" y1="109.06" x2="650.6" y2="109.06" stroke="#262626" stroke-width="0.75"/><line x1="648.1" y1="85.07" x2="650.6" y2="85.07" stroke="#262626" stroke-width="0.75"/><line x1="648.1" y1="61.08" x2="650.6" y2="61.08" stroke="#262626" stroke-width="0.75"/><line x1="648.1" y1="37.09" x2="650.6" y2="37.09" stroke="#262626" stroke-width="0.75"/><rect x="293.8" y="351.1" width="12.8" height="239.9" fill="url(#jet)" stroke="#262626" stroke-width="0.6"/><line x1="304.1" y1="567.01" x2="306.6" y2="567.01" stroke="#262626" stroke-width="0.75"/><line x1="304.1" y1="543.02" x2="306.6" y2="543.02" stroke="#262626" stroke-width="0.75"/><line x1="304.1" y1="519.03" x2="306.6" y2="519.03" stroke="#262626" stroke-width="0.75"/><line x1="304.1" y1="495.04" x2="306.6" y2="495.04" stroke="#262626" stroke-width="0.75"/><line x1="304.1" y1="471.05" x2="306.6" y2="471.05" stroke="#262626" stroke-width="0.75"/><line x1="304.1" y1="447.06" x2="306.6" y2="447.06" stroke="#262626" stroke-width="0.75"/><line x1="304.1" y1="423.07" x2="306.6" y2="423.07" stroke="#262626" stroke-width="0.75"/><line x1="304.1" y1="399.08" x2="306.6" y2="399.08" stroke="#262626" stroke-width="0.75"/><line x1="304.1" y1="375.09" x2="306.6" y2="375.09" stroke="#262626" stroke-width="0.75"/><rect x="637.8" y="351.1" width="12.8" height="239.9" fill="url(#jet)" stroke="#262626" stroke-width="0.6"/><line x1="648.1" y1="567.01" x2="650.6" y2="567.01" stroke="#262626" stroke-width="0.75"/><line x1="648.1" y1="543.02" x2="650.6" y2="543.02" stroke="#262626" stroke-width="0.75"/><line x1="648.1" y1="519.03" x2="650.6" y2="519.03" stroke="#262626" stroke-width="0.75"/><line x1="648.1" y1="495.04" x2="650.6" y2="495.04" stroke="#262626" stroke-width="0.75"/><line x1="648.1" y1="471.05" x2="650.6" y2="471.05" stroke="#262626" stroke-width="0.75"/><line x1="648.1" y1="447.06" x2="650.6" y2="447.06" stroke="#262626" stroke-width="0.75"/><line x1="648.1" y1="423.07" x2="650.6" y2="423.07" stroke="#262626" stroke-width="0.75"/><line x1="648.1" y1="399.08" x2="650.6" y2="399.08" stroke="#262626" stroke-width="0.75"/><line x1="648.1" y1="375.09" x2="650.6" y2="375.09" stroke="#262626" stroke-width="0.75"/><rect x="293.8" y="739.1" width="12.8" height="239.9" fill="url(#jet)" stroke="#262626" stroke-width="0.6"/><line x1="304.1" y1="955.01" x2="306.6" y2="955.01" stroke="#262626" stroke-width="0.75"/><line x1="304.1" y1="931.02" x2="306.6" y2="931.02" stroke="#262626" stroke-width="0.75"/><line x1="304.1" y1="907.03" x2="306.6" y2="907.03" stroke="#262626" stroke-width="0.75"/><line x1="304.1" y1="883.04" x2="306.6" y2="883.04" stroke="#262626" stroke-width="0.75"/><line x1="304.1" y1="859.05" x2="306.6" y2="859.05" stroke="#262626" stroke-width="0.75"/><line x1="304.1" y1="835.06" x2="306.6" y2="835.06" stroke="#262626" stroke-width="0.75"/><line x1="304.1" y1="811.07" x2="306.6" y2="811.07" stroke="#262626" stroke-width="0.75"/><line x1="304.1" y1="787.08" x2="306.6" y2="787.08" stroke="#262626" stroke-width="0.75"/><line x1="304.1" y1="763.09" x2="306.6" y2="763.09" stroke="#262626" stroke-width="0.75"/><rect x="637.8" y="739.1" width="12.8" height="239.9" fill="url(#jet)" stroke="#262626" stroke-width="0.6"/><line x1="648.1" y1="955.01" x2="650.6" y2="955.01" stroke="#262626" stroke-width="0.75"/><line x1="648.1" y1="931.02" x2="650.6" y2="931.02" stroke="#262626" stroke-width="0.75"/><line x1="648.1" y1="907.03" x2="650.6" y2="907.03" stroke="#262626" stroke-width="0.75"/><line x1="648.1" y1="883.04" x2="650.6" y2="883.04" stroke="#262626" stroke-width="0.75"/><line x1="648.1" y1="859.05" x2="650.6" y2="859.05" stroke="#262626" stroke-width="0.75"/><line x1="648.1" y1="835.06" x2="650.6" y2="835.06" stroke="#262626" stroke-width="0.75"/><line x1="648.1" y1="811.07" x2="650.6" y2="811.07" stroke="#262626" stroke-width="0.75"/><line x1="648.1" y1="787.08" x2="650.6" y2="787.08" stroke="#262626" stroke-width="0.75"/><line x1="648.1" y1="763.09" x2="650.6" y2="763.09" stroke="#262626" stroke-width="0.75"/>
<text x="54.54" y="230.3" text-anchor="end" class="tk">5</text><text x="186.2" y="257.28" class="tk">5</text><text x="85.34" y="242.8" text-anchor="end" class="tk">10</text><text x="217.28" y="244.88" class="tk">10</text><text x="116.14" y="255.3" text-anchor="end" class="tk">15</text><text x="248.35" y="232.48" class="tk">15</text><text x="146.94" y="267.8" text-anchor="end" class="tk">20</text><text x="279.43" y="220.08" class="tk">20</text><text x="29.4" y="207.4" text-anchor="end" class="tk">0</text><text x="29.4" y="171.2" text-anchor="end" class="tk">5</text><text x="29.4" y="135" text-anchor="end" class="tk">10</text><text x="29.4" y="98.8" text-anchor="end" class="tk">15</text><text x="29.4" y="62.6" text-anchor="end" class="tk">20</text><text x="77.4" y="270.7" text-anchor="middle" class="al">X (km)</text><text x="230.6" y="270.7" text-anchor="middle" class="al">Y (km)</text><text transform="translate(12,133.2) rotate(-90)" text-anchor="middle" class="al">Height (×100m)</text><text x="154.4" y="9.4" text-anchor="middle" class="ti">(a) Demand Surge - Before</text><text x="49" y="73.5" class="an">Affected UAVs: 127</text><text x="49" y="85.4" class="an">Response Time: 9.7s</text><text x="310.2" y="257.5" class="tk">0</text><text x="310.2" y="233.51" class="tk">0.1</text><text x="310.2" y="209.52" class="tk">0.2</text><text x="310.2" y="185.53" class="tk">0.3</text><text x="310.2" y="161.54" class="tk">0.4</text><text x="310.2" y="137.55" class="tk">0.5</text><text x="310.2" y="113.56" class="tk">0.6</text><text x="310.2" y="89.57" class="tk">0.7</text><text x="310.2" y="65.58" class="tk">0.8</text><text x="310.2" y="41.59" class="tk">0.9</text><text x="310.2" y="17.6" class="tk">1</text><text transform="translate(338,133) rotate(-90)" text-anchor="middle" class="cl">Occupancy Rate</text><text x="398.54" y="230.3" text-anchor="end" class="tk">5</text><text x="530.2" y="257.28" class="tk">5</text><text x="429.34" y="242.8" text-anchor="end" class="tk">10</text><text x="561.28" y="244.88" class="tk">10</text><text x="460.14" y="255.3" text-anchor="end" class="tk">15</text><text x="592.35" y="232.48" class="tk">15</text><text x="490.94" y="267.8" text-anchor="end" class="tk">20</text><text x="623.43" y="220.08" class="tk">20</text><text x="373.4" y="207.4" text-anchor="end" class="tk">0</text><text x="373.4" y="171.2" text-anchor="end" class="tk">5</text><text x="373.4" y="135" text-anchor="end" class="tk">10</text><text x="373.4" y="98.8" text-anchor="end" class="tk">15</text><text x="373.4" y="62.6" text-anchor="end" class="tk">20</text><text x="421.4" y="270.7" text-anchor="middle" class="al">X (km)</text><text x="574.6" y="270.7" text-anchor="middle" class="al">Y (km)</text><text transform="translate(356,133.2) rotate(-90)" text-anchor="middle" class="al">Height (×100m)</text><text x="498.4" y="9.4" text-anchor="middle" class="ti">(b) Demand Surge - After</text><text x="357.8" y="32.5" class="an">Success Rate: 79.3%</text><text x="357.8" y="44.4" class="an">Optimized</text><text x="654.2" y="257.5" class="tk">0</text><text x="654.2" y="233.51" class="tk">0.1</text><text x="654.2" y="209.52" class="tk">0.2</text><text x="654.2" y="185.53" class="tk">0.3</text><text x="654.2" y="161.54" class="tk">0.4</text><text x="654.2" y="137.55" class="tk">0.5</text><text x="654.2" y="113.56" class="tk">0.6</text><text x="654.2" y="89.57" class="tk">0.7</text><text x="654.2" y="65.58" class="tk">0.8</text><text x="654.2" y="41.59" class="tk">0.9</text><text x="654.2" y="17.6" class="tk">1</text><text transform="translate(682,133) rotate(-90)" text-anchor="middle" class="cl">Occupancy Rate</text><text x="54.54" y="568.3" text-anchor="end" class="tk">5</text><text x="186.2" y="595.28" class="tk">5</text><text x="85.34" y="580.8" text-anchor="end" class="tk">10</text><text x="217.28" y="582.88" class="tk">10</text><text x="116.14" y="593.3" text-anchor="end" class="tk">15</text><text x="248.35" y="570.48" class="tk">15</text><text x="146.94" y="605.8" text-anchor="end" class="tk">20</text><text x="279.43" y="558.08" class="tk">20</text><text x="29.4" y="545.4" text-anchor="end" class="tk">0</text><text x="29.4" y="509.35" text-anchor="end" class="tk">5</text><text x="29.4" y="473.3" text-anchor="end" class="tk">10</text><text x="29.4" y="437.25" text-anchor="end" class="tk">15</text><text x="29.4" y="401.2" text-anchor="end" class="tk">20</text><text x="77.4" y="608.7" text-anchor="middle" class="al">X (km)</text><text x="230.6" y="608.7" text-anchor="middle" class="al">Y (km)</text><text transform="translate(12,471.2) rotate(-90)" text-anchor="middle" class="al">Height (×100m)</text><text x="154.4" y="347.9" text-anchor="middle" class="ti">(c) Typhoon Weather - Before</text><text x="0.8" y="364.9" class="an">Affected UAVs: 142</text><text x="0.8" y="376.6" class="an">Response Time: 15.2s</text><text x="310.2" y="595.5" class="tk">0</text><text x="310.2" y="571.51" class="tk">0.1</text><text x="310.2" y="547.52" class="tk">0.2</text><text x="310.2" y="523.53" class="tk">0.3</text><text x="310.2" y="499.54" class="tk">0.4</text><text x="310.2" y="475.55" class="tk">0.5</text><text x="310.2" y="451.56" class="tk">0.6</text><text x="310.2" y="427.57" class="tk">0.7</text><text x="310.2" y="403.58" class="tk">0.8</text><text x="310.2" y="379.59" class="tk">0.9</text><text x="310.2" y="355.6" class="tk">1</text><text transform="translate(338,471) rotate(-90)" text-anchor="middle" class="cl">Occupancy Rate</text><text x="398.54" y="568.3" text-anchor="end" class="tk">5</text><text x="530.2" y="595.28" class="tk">5</text><text x="429.34" y="580.8" text-anchor="end" class="tk">10</text><text x="561.28" y="582.88" class="tk">10</text><text x="460.14" y="593.3" text-anchor="end" class="tk">15</text><text x="592.35" y="570.48" class="tk">15</text><text x="490.94" y="605.8" text-anchor="end" class="tk">20</text><text x="623.43" y="558.08" class="tk">20</text><text x="373.4" y="545.4" text-anchor="end" class="tk">0</text><text x="373.4" y="509.35" text-anchor="end" class="tk">5</text><text x="373.4" y="473.3" text-anchor="end" class="tk">10</text><text x="373.4" y="437.25" text-anchor="end" class="tk">15</text><text x="373.4" y="401.2" text-anchor="end" class="tk">20</text><text x="421.4" y="608.7" text-anchor="middle" class="al">X (km)</text><text x="574.6" y="608.7" text-anchor="middle" class="al">Y (km)</text><text transform="translate(356,471.2) rotate(-90)" text-anchor="middle" class="al">Height (×100m)</text><text x="498.4" y="347.9" text-anchor="middle" class="ti">(d) Typhoon Weather - After</text><text x="358.7" y="369" class="an">Success Rate: 68.3%</text><text x="358.7" y="380.9" class="an">Optimized</text><text x="654.2" y="595.5" class="tk">0</text><text x="654.2" y="571.51" class="tk">0.1</text><text x="654.2" y="547.52" class="tk">0.2</text><text x="654.2" y="523.53" class="tk">0.3</text><text x="654.2" y="499.54" class="tk">0.4</text><text x="654.2" y="475.55" class="tk">0.5</text><text x="654.2" y="451.56" class="tk">0.6</text><text x="654.2" y="427.57" class="tk">0.7</text><text x="654.2" y="403.58" class="tk">0.8</text><text x="654.2" y="379.59" class="tk">0.9</text><text x="654.2" y="355.6" class="tk">1</text><text transform="translate(682,471) rotate(-90)" text-anchor="middle" class="cl">Occupancy Rate</text><text x="54.54" y="956.3" text-anchor="end" class="tk">5</text><text x="186.2" y="983.28" class="tk">5</text><text x="85.34" y="968.8" text-anchor="end" class="tk">10</text><text x="217.28" y="970.88" class="tk">10</text><text x="116.14" y="981.3" text-anchor="end" class="tk">15</text><text x="248.35" y="958.48" class="tk">15</text><text x="146.94" y="993.8" text-anchor="end" class="tk">20</text><text x="279.43" y="946.08" class="tk">20</text><text x="29.4" y="933.4" text-anchor="end" class="tk">0</text><text x="29.4" y="897.42" text-anchor="end" class="tk">5</text><text x="29.4" y="861.45" text-anchor="end" class="tk">10</text><text x="29.4" y="825.48" text-anchor="end" class="tk">15</text><text x="29.4" y="789.5" text-anchor="end" class="tk">20</text><text x="77.4" y="996.7" text-anchor="middle" class="al">X (km)</text><text x="230.6" y="996.7" text-anchor="middle" class="al">Y (km)</text><text transform="translate(12,859.2) rotate(-90)" text-anchor="middle" class="al">Height (×100m)</text><text x="154.4" y="736.2" text-anchor="middle" class="ti">(e) Emergency No-fly - Before</text><text x="0.8" y="752.2" class="an">Affected UAVs: 89</text><text x="0.8" y="763.9" class="an">Response Time: 18.6s</text><text x="310.2" y="983.5" class="tk">0</text><text x="310.2" y="959.51" class="tk">0.1</text><text x="310.2" y="935.52" class="tk">0.2</text><text x="310.2" y="911.53" class="tk">0.3</text><text x="310.2" y="887.54" class="tk">0.4</text><text x="310.2" y="863.55" class="tk">0.5</text><text x="310.2" y="839.56" class="tk">0.6</text><text x="310.2" y="815.57" class="tk">0.7</text><text x="310.2" y="791.58" class="tk">0.8</text><text x="310.2" y="767.59" class="tk">0.9</text><text x="310.2" y="743.6" class="tk">1</text><text transform="translate(338,859) rotate(-90)" text-anchor="middle" class="cl">Occupancy Rate</text><text x="398.54" y="956.3" text-anchor="end" class="tk">5</text><text x="530.2" y="983.28" class="tk">5</text><text x="429.34" y="968.8" text-anchor="end" class="tk">10</text><text x="561.28" y="970.88" class="tk">10</text><text x="460.14" y="981.3" text-anchor="end" class="tk">15</text><text x="592.35" y="958.48" class="tk">15</text><text x="490.94" y="993.8" text-anchor="end" class="tk">20</text><text x="623.43" y="946.08" class="tk">20</text><text x="373.4" y="933.4" text-anchor="end" class="tk">0</text><text x="373.4" y="897.42" text-anchor="end" class="tk">5</text><text x="373.4" y="861.45" text-anchor="end" class="tk">10</text><text x="373.4" y="825.48" text-anchor="end" class="tk">15</text><text x="373.4" y="789.5" text-anchor="end" class="tk">20</text><text x="421.4" y="996.7" text-anchor="middle" class="al">X (km)</text><text x="574.6" y="996.7" text-anchor="middle" class="al">Y (km)</text><text transform="translate(356,859.2) rotate(-90)" text-anchor="middle" class="al">Height (×100m)</text><text x="498.4" y="736.2" text-anchor="middle" class="ti">(f) Emergency No-fly - After</text><text x="356" y="758.1" class="an">Success Rate: 74.6%</text><text x="356" y="769.5" class="an">Optimized</text><text x="654.2" y="983.5" class="tk">0</text><text x="654.2" y="959.51" class="tk">0.1</text><text x="654.2" y="935.52" class="tk">0.2</text><text x="654.2" y="911.53" class="tk">0.3</text><text x="654.2" y="887.54" class="tk">0.4</text><text x="654.2" y="863.55" class="tk">0.5</text><text x="654.2" y="839.56" class="tk">0.6</text><text x="654.2" y="815.57" class="tk">0.7</text><text x="654.2" y="791.58" class="tk">0.8</text><text x="654.2" y="767.59" class="tk">0.9</text><text x="654.2" y="743.6" class="tk">1</text><text transform="translate(682,859) rotate(-90)" text-anchor="middle" class="cl">Occupancy Rate</text>
</svg>
</body></html>
